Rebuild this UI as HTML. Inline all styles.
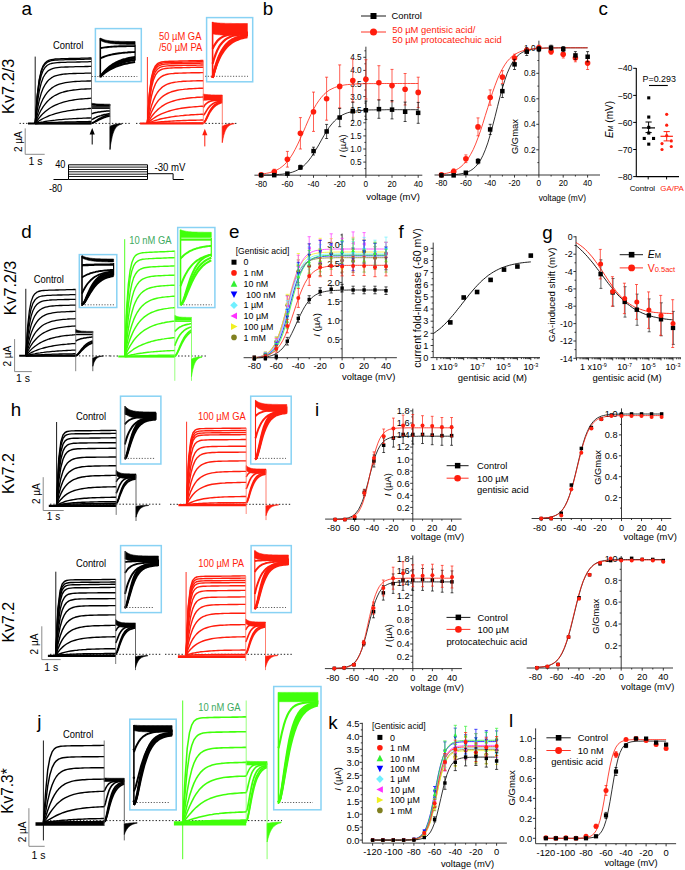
<!DOCTYPE html>
<html><head><meta charset="utf-8"><style>
html,body{margin:0;padding:0;background:#fff;width:685px;height:870px;overflow:hidden}
svg{display:block}
text{font-family:"Liberation Sans", sans-serif}
</style></head><body>
<svg width="685" height="870" viewBox="0 0 685 870">
<rect width="685" height="870" fill="#fff"/>
<text x="21.4" y="14.5" font-size="18.8" text-anchor="start" fill="#000">a</text>
<text x="262.8" y="14.5" font-size="18.8" text-anchor="start" fill="#000">b</text>
<text x="598.6" y="14.5" font-size="18.8" text-anchor="start" fill="#000">c</text>
<text x="13.6" y="86.3" font-size="17.3" text-anchor="middle" fill="#000" transform="rotate(-90 13.6 86.3)" textLength="55.2" lengthAdjust="spacingAndGlyphs">Kv7.2/3</text>
<text x="53.1" y="48.6" font-size="9.4" text-anchor="start" fill="#000" transform="translate(53.1 48.6) scale(1 1.16) translate(-53.1 -48.6)">Control</text>
<text x="159" y="40.4" font-size="9.4" text-anchor="start" fill="#ff1d0d" transform="translate(159 40.4) scale(1 1.16) translate(-159 -40.4)">50 µM GA</text>
<text x="159" y="51.4" font-size="9.4" text-anchor="start" fill="#ff1d0d" transform="translate(159 51.4) scale(1 1.16) translate(-159 -51.4)">/50 µM PA</text>
<path d="M19.5 123.4L131 123.4M136 123.4L238 123.4" stroke="#222" stroke-width="1.0" fill="none" stroke-dasharray="1.4 1.9"/>
<path d="M28 123.5L91.5 123.5" stroke="#000" stroke-width="2.0" fill="none"/>
<path d="M35.2 56.6L35.2 123.5" stroke="#000" stroke-width="0.9" fill="none"/>
<path d="M35.2 123.5 L37.2 95.4 L39.2 79.6 L41.2 70.6 L43.2 65.6 L45.3 62.7 L47.3 61.1 L49.3 60.1 L51.3 59.6 L53.3 59.3 L55.3 59 L57.3 58.9 L59.3 58.8 L61.3 58.7 L63.4 58.7 L65.4 58.6 L67.4 58.6 L69.4 58.5 L71.4 58.5 L73.4 58.4 L75.4 58.4 L77.4 58.3 L79.4 58.3 L81.4 58.2 L83.5 58.2 L85.5 58.1 L87.5 58.1 L89.5 58 L91.5 58" stroke="#000" stroke-width="1.3" fill="none" stroke-linejoin="round"/>
<path d="M35.2 123.5 L37.2 96.2 L39.2 80.7 L41.2 71.8 L43.2 66.8 L45.3 63.9 L47.3 62.2 L49.3 61.3 L51.3 60.7 L53.3 60.4 L55.3 60.1 L57.3 60 L59.3 59.9 L61.3 59.8 L63.4 59.8 L65.4 59.7 L67.4 59.7 L69.4 59.6 L71.4 59.6 L73.4 59.5 L75.4 59.5 L77.4 59.4 L79.4 59.4 L81.4 59.3 L83.5 59.3 L85.5 59.2 L87.5 59.2 L89.5 59.1 L91.5 59.1" stroke="#000" stroke-width="1.3" fill="none" stroke-linejoin="round"/>
<path d="M35.2 123.5 L37.2 98.8 L39.2 84.2 L41.2 75.5 L43.2 70.3 L45.3 67.2 L47.3 65.3 L49.3 64.2 L51.3 63.5 L53.3 63.1 L55.3 62.8 L57.3 62.6 L59.3 62.5 L61.3 62.4 L63.4 62.4 L65.4 62.3 L67.4 62.2 L69.4 62.2 L71.4 62.1 L73.4 62.1 L75.4 62.1 L77.4 62 L79.4 62 L81.4 61.9 L83.5 61.9 L85.5 61.8 L87.5 61.8 L89.5 61.7 L91.5 61.7" stroke="#000" stroke-width="1.3" fill="none" stroke-linejoin="round"/>
<path d="M35.2 123.5 L37.2 104 L39.2 91.3 L41.2 83 L43.2 77.5 L45.3 74 L47.3 71.6 L49.3 70.1 L51.3 69.1 L53.3 68.4 L55.3 67.9 L57.3 67.6 L59.3 67.4 L61.3 67.2 L63.4 67.1 L65.4 67 L67.4 67 L69.4 66.9 L71.4 66.8 L73.4 66.8 L75.4 66.7 L77.4 66.7 L79.4 66.6 L81.4 66.6 L83.5 66.6 L85.5 66.5 L87.5 66.5 L89.5 66.4 L91.5 66.4" stroke="#000" stroke-width="1.3" fill="none" stroke-linejoin="round"/>
<path d="M35.2 123.5 L37.2 110.2 L39.2 100.5 L41.2 93.3 L43.2 88.1 L45.3 84.3 L47.3 81.5 L49.3 79.4 L51.3 77.9 L53.3 76.7 L55.3 75.9 L57.3 75.3 L59.3 74.8 L61.3 74.5 L63.4 74.2 L65.4 74 L67.4 73.9 L69.4 73.7 L71.4 73.6 L73.4 73.5 L75.4 73.5 L77.4 73.4 L79.4 73.4 L81.4 73.3 L83.5 73.3 L85.5 73.2 L87.5 73.2 L89.5 73.1 L91.5 73.1" stroke="#000" stroke-width="1.3" fill="none" stroke-linejoin="round"/>
<path d="M35.2 123.5 L37.2 115.1 L39.2 108.3 L41.2 102.9 L43.2 98.6 L45.3 95.2 L47.3 92.4 L49.3 90.2 L51.3 88.4 L53.3 87 L55.3 85.8 L57.3 84.9 L59.3 84.2 L61.3 83.6 L63.4 83.1 L65.4 82.7 L67.4 82.3 L69.4 82.1 L71.4 81.9 L73.4 81.7 L75.4 81.5 L77.4 81.4 L79.4 81.3 L81.4 81.2 L83.5 81.1 L85.5 81.1 L87.5 81 L89.5 81 L91.5 80.9" stroke="#000" stroke-width="1.3" fill="none" stroke-linejoin="round"/>
<path d="M35.2 123.5 L37.2 118.2 L39.2 113.7 L41.2 109.8 L43.2 106.6 L45.3 103.9 L47.3 101.5 L49.3 99.6 L51.3 97.9 L53.3 96.5 L55.3 95.3 L57.3 94.3 L59.3 93.4 L61.3 92.7 L63.4 92 L65.4 91.5 L67.4 91 L69.4 90.7 L71.4 90.3 L73.4 90 L75.4 89.8 L77.4 89.6 L79.4 89.4 L81.4 89.2 L83.5 89.1 L85.5 89 L87.5 88.9 L89.5 88.8 L91.5 88.7" stroke="#000" stroke-width="1.3" fill="none" stroke-linejoin="round"/>
<path d="M35.2 123.5 L37.2 120.5 L39.2 117.9 L41.2 115.5 L43.2 113.4 L45.3 111.6 L47.3 110 L49.3 108.5 L51.3 107.3 L53.3 106.1 L55.3 105.2 L57.3 104.3 L59.3 103.5 L61.3 102.8 L63.4 102.2 L65.4 101.6 L67.4 101.2 L69.4 100.7 L71.4 100.3 L73.4 100 L75.4 99.7 L77.4 99.4 L79.4 99.2 L81.4 99 L83.5 98.8 L85.5 98.6 L87.5 98.5 L89.5 98.3 L91.5 98.2" stroke="#000" stroke-width="1.3" fill="none" stroke-linejoin="round"/>
<path d="M35.2 123.5 L37.2 122.1 L39.2 120.7 L41.2 119.6 L43.2 118.5 L45.3 117.5 L47.3 116.6 L49.3 115.7 L51.3 115 L53.3 114.3 L55.3 113.7 L57.3 113.1 L59.3 112.6 L61.3 112.1 L63.4 111.7 L65.4 111.3 L67.4 110.9 L69.4 110.6 L71.4 110.3 L73.4 110 L75.4 109.8 L77.4 109.5 L79.4 109.3 L81.4 109.1 L83.5 109 L85.5 108.8 L87.5 108.7 L89.5 108.5 L91.5 108.4" stroke="#000" stroke-width="1.3" fill="none" stroke-linejoin="round"/>
<path d="M35.2 123.5 L37.2 123 L39.2 122.6 L41.2 122.2 L43.2 121.9 L45.3 121.5 L47.3 121.2 L49.3 120.9 L51.3 120.6 L53.3 120.4 L55.3 120.2 L57.3 119.9 L59.3 119.7 L61.3 119.6 L63.4 119.4 L65.4 119.2 L67.4 119.1 L69.4 118.9 L71.4 118.8 L73.4 118.7 L75.4 118.6 L77.4 118.5 L79.4 118.4 L81.4 118.3 L83.5 118.2 L85.5 118.1 L87.5 118 L89.5 118 L91.5 117.9" stroke="#000" stroke-width="1.3" fill="none" stroke-linejoin="round"/>
<path d="M35.2 123.5 L37.2 123.3 L39.2 123.2 L41.2 123.1 L43.2 122.9 L45.3 122.8 L47.3 122.7 L49.3 122.6 L51.3 122.5 L53.3 122.4 L55.3 122.3 L57.3 122.3 L59.3 122.2 L61.3 122.1 L63.4 122.1 L65.4 122 L67.4 121.9 L69.4 121.9 L71.4 121.8 L73.4 121.8 L75.4 121.8 L77.4 121.7 L79.4 121.7 L81.4 121.6 L83.5 121.6 L85.5 121.6 L87.5 121.6 L89.5 121.5 L91.5 121.5" stroke="#000" stroke-width="1.3" fill="none" stroke-linejoin="round"/>
<path d="M35.2 123.5 L37.2 123.5 L39.2 123.4 L41.2 123.4 L43.2 123.4 L45.3 123.3 L47.3 123.3 L49.3 123.3 L51.3 123.3 L53.3 123.2 L55.3 123.2 L57.3 123.2 L59.3 123.2 L61.3 123.2 L63.4 123.1 L65.4 123.1 L67.4 123.1 L69.4 123.1 L71.4 123.1 L73.4 123.1 L75.4 123.1 L77.4 123.1 L79.4 123 L81.4 123 L83.5 123 L85.5 123 L87.5 123 L89.5 123 L91.5 123" stroke="#000" stroke-width="1.3" fill="none" stroke-linejoin="round"/>
<path d="M35.2 123.5 L37.2 123.5 L39.2 123.5 L41.2 123.5 L43.2 123.5 L45.3 123.5 L47.3 123.5 L49.3 123.5 L51.3 123.5 L53.3 123.5 L55.3 123.5 L57.3 123.5 L59.3 123.5 L61.3 123.5 L63.4 123.5 L65.4 123.5 L67.4 123.5 L69.4 123.5 L71.4 123.5 L73.4 123.5 L75.4 123.5 L77.4 123.5 L79.4 123.5 L81.4 123.5 L83.5 123.5 L85.5 123.5 L87.5 123.5 L89.5 123.5 L91.5 123.5" stroke="#000" stroke-width="1.3" fill="none" stroke-linejoin="round"/>
<path d="M91.5 103.1 L92.8 103.4 L94.1 103.6 L95.5 103.8 L96.8 103.9 L98.1 104 L99.4 104 L100.8 104.1 L102.1 104.1 L103.4 104.1 L104.7 104.2 L106 104.2 L107.4 104.2 L108.7 104.2 L110 104.2 L110 106 L108.7 106 L107.4 106 L106 106 L104.7 106 L103.4 106 L102.1 106 L100.8 106 L99.4 105.9 L98.1 105.9 L96.8 105.9 L95.5 105.8 L94.1 105.7 L92.8 105.6 L91.5 105.5Z" stroke="#000" stroke-width="0.6" fill="#000" stroke-linejoin="round"/>
<path d="M91.5 106.9 L92.7 106.9 L93.8 106.9 L95 106.9 L96.1 106.9 L97.3 106.9 L98.4 106.9 L99.6 106.9 L100.8 106.9 L101.9 106.9 L103.1 106.9 L104.2 106.9 L105.4 106.9 L106.5 106.9 L107.7 106.9 L108.8 106.9 L110 106.9" stroke="#000" stroke-width="1.4040000000000001" fill="none" stroke-linejoin="round"/>
<path d="M91.5 108.2 L92.7 108.2 L93.8 108.2 L95 108.2 L96.1 108.2 L97.3 108.2 L98.4 108.2 L99.6 108.2 L100.8 108.2 L101.9 108.2 L103.1 108.2 L104.2 108.2 L105.4 108.2 L106.5 108.2 L107.7 108.2 L108.8 108.2 L110 108.2" stroke="#000" stroke-width="1.4040000000000001" fill="none" stroke-linejoin="round"/>
<path d="M91.5 113.8 L92.7 113.4 L93.8 113.1 L95 112.8 L96.1 112.5 L97.3 112.3 L98.4 112 L99.6 111.9 L100.8 111.7 L101.9 111.5 L103.1 111.4 L104.2 111.3 L105.4 111.2 L106.5 111.1 L107.7 111 L108.8 110.9 L110 110.9" stroke="#000" stroke-width="1.5210000000000001" fill="none" stroke-linejoin="round"/>
<path d="M91.5 119.5 L92.7 119.1 L93.8 118.5 L95 117.9 L96.1 117.4 L97.3 116.8 L98.4 116.4 L99.6 116 L100.8 115.6 L101.9 115.2 L103.1 114.9 L104.2 114.6 L105.4 114.4 L106.5 114.2 L107.7 114 L108.8 113.8 L110 113.6" stroke="#000" stroke-width="1.5210000000000001" fill="none" stroke-linejoin="round"/>
<path d="M91.5 123 L92.7 122.8 L93.8 122.2 L95 121.5 L96.1 120.8 L97.3 120 L98.4 119.2 L99.6 118.5 L100.8 117.9 L101.9 117.3 L103.1 116.8 L104.2 116.3 L105.4 115.9 L106.5 115.6 L107.7 115.3 L108.8 115 L110 114.8" stroke="#000" stroke-width="1.638" fill="none" stroke-linejoin="round"/>
<path d="M91.5 123 L92.7 122.8 L93.8 122.5 L95 121.9 L96.1 121.3 L97.3 120.7 L98.4 120.1 L99.6 119.5 L100.8 118.9 L101.9 118.4 L103.1 117.9 L104.2 117.5 L105.4 117.1 L106.5 116.8 L107.7 116.4 L108.8 116.2 L110 115.9" stroke="#000" stroke-width="1.638" fill="none" stroke-linejoin="round"/>
<path d="M91.5 58L91.5 123.5" stroke="#555" stroke-width="0.8" fill="none"/>
<path d="M110 104L110 149.5" stroke="#555" stroke-width="0.9" fill="none"/>
<path d="M110 126.5 L110.7 126 L111.5 125.6 L112.2 125.3 L112.9 125 L113.7 124.7 L114.4 124.5 L115.1 124.4 L115.8 124.2 L116.6 124.1 L117.3 124 L118 123.9 L118.8 123.9 L119.5 123.8 L120.2 123.8 L121 123.7 L121.7 123.7 L121.7 124.2 L121 124.3 L120.2 124.6 L119.5 124.8 L118.8 125.2 L118 125.6 L117.3 126.1 L116.6 126.8 L115.8 127.7 L115.1 128.8 L114.4 130.1 L113.7 131.8 L112.9 133.9 L112.2 136.6 L111.5 140 L110.7 144.2 L110 149.5Z" stroke="#000" stroke-width="0.6" fill="#000" stroke-linejoin="round"/>
<path d="M140.1 123.4L203.3 123.4" stroke="#ff1d0d" stroke-width="2.0" fill="none"/>
<path d="M147.4 57L147.4 123.4" stroke="#ff1d0d" stroke-width="0.9" fill="none"/>
<path d="M147.4 123.4 L149.4 93.4 L151.4 78 L153.4 70 L155.4 65.9 L157.4 63.7 L159.4 62.6 L161.4 62 L163.4 61.7 L165.4 61.5 L167.4 61.4 L169.4 61.3 L171.4 61.2 L173.4 61.2 L175.4 61.1 L177.3 61.1 L179.3 61 L181.3 61 L183.3 60.9 L185.3 60.9 L187.3 60.9 L189.3 60.8 L191.3 60.8 L193.3 60.7 L195.3 60.7 L197.3 60.6 L199.3 60.6 L201.3 60.5 L203.3 60.5" stroke="#ff1d0d" stroke-width="1.4300000000000002" fill="none" stroke-linejoin="round"/>
<path d="M147.4 123.4 L149.4 94.4 L151.4 79.3 L153.4 71.4 L155.4 67.2 L157.4 65 L159.4 63.9 L161.4 63.3 L163.4 62.9 L165.4 62.7 L167.4 62.6 L169.4 62.5 L171.4 62.4 L173.4 62.4 L175.4 62.3 L177.3 62.3 L179.3 62.2 L181.3 62.2 L183.3 62.1 L185.3 62.1 L187.3 62.1 L189.3 62 L191.3 62 L193.3 61.9 L195.3 61.9 L197.3 61.8 L199.3 61.8 L201.3 61.7 L203.3 61.7" stroke="#ff1d0d" stroke-width="1.4300000000000002" fill="none" stroke-linejoin="round"/>
<path d="M147.4 123.4 L149.4 96 L151.4 81.3 L153.4 73.3 L155.4 69 L157.4 66.7 L159.4 65.5 L161.4 64.8 L163.4 64.4 L165.4 64.1 L167.4 64 L169.4 63.9 L171.4 63.8 L173.4 63.8 L175.4 63.7 L177.3 63.7 L179.3 63.6 L181.3 63.6 L183.3 63.5 L185.3 63.5 L187.3 63.4 L189.3 63.4 L191.3 63.4 L193.3 63.3 L195.3 63.3 L197.3 63.2 L199.3 63.2 L201.3 63.1 L203.3 63.1" stroke="#ff1d0d" stroke-width="1.4300000000000002" fill="none" stroke-linejoin="round"/>
<path d="M147.4 123.4 L149.4 98.4 L151.4 84.2 L153.4 76.3 L155.4 71.8 L157.4 69.2 L159.4 67.7 L161.4 66.9 L163.4 66.4 L165.4 66.1 L167.4 65.9 L169.4 65.8 L171.4 65.7 L173.4 65.7 L175.4 65.6 L177.3 65.6 L179.3 65.5 L181.3 65.5 L183.3 65.4 L185.3 65.4 L187.3 65.3 L189.3 65.3 L191.3 65.3 L193.3 65.2 L195.3 65.2 L197.3 65.1 L199.3 65.1 L201.3 65 L203.3 65" stroke="#ff1d0d" stroke-width="1.4300000000000002" fill="none" stroke-linejoin="round"/>
<path d="M147.4 123.4 L149.4 101.2 L151.4 87.9 L153.4 79.9 L155.4 75.2 L157.4 72.3 L159.4 70.6 L161.4 69.5 L163.4 68.9 L165.4 68.5 L167.4 68.2 L169.4 68.1 L171.4 68 L173.4 67.9 L175.4 67.8 L177.3 67.7 L179.3 67.7 L181.3 67.7 L183.3 67.6 L185.3 67.6 L187.3 67.5 L189.3 67.5 L191.3 67.4 L193.3 67.4 L195.3 67.4 L197.3 67.3 L199.3 67.3 L201.3 67.2 L203.3 67.2" stroke="#ff1d0d" stroke-width="1.4300000000000002" fill="none" stroke-linejoin="round"/>
<path d="M147.4 123.4 L149.4 107.3 L151.4 96.3 L153.4 88.9 L155.4 83.9 L157.4 80.5 L159.4 78.2 L161.4 76.6 L163.4 75.5 L165.4 74.8 L167.4 74.3 L169.4 73.9 L171.4 73.6 L173.4 73.5 L175.4 73.3 L177.3 73.2 L179.3 73.1 L181.3 73.1 L183.3 73 L185.3 73 L187.3 72.9 L189.3 72.9 L191.3 72.8 L193.3 72.8 L195.3 72.7 L197.3 72.7 L199.3 72.7 L201.3 72.6 L203.3 72.6" stroke="#ff1d0d" stroke-width="1.4300000000000002" fill="none" stroke-linejoin="round"/>
<path d="M147.4 123.4 L149.4 113.6 L151.4 106.1 L153.4 100.4 L155.4 95.9 L157.4 92.5 L159.4 89.9 L161.4 87.9 L163.4 86.3 L165.4 85.1 L167.4 84.2 L169.4 83.5 L171.4 82.9 L173.4 82.5 L175.4 82.1 L177.3 81.9 L179.3 81.6 L181.3 81.5 L183.3 81.3 L185.3 81.2 L187.3 81.1 L189.3 81.1 L191.3 81 L193.3 80.9 L195.3 80.9 L197.3 80.8 L199.3 80.8 L201.3 80.7 L203.3 80.7" stroke="#ff1d0d" stroke-width="1.4300000000000002" fill="none" stroke-linejoin="round"/>
<path d="M147.4 123.4 L149.4 117.3 L151.4 112.2 L153.4 108.1 L155.4 104.6 L157.4 101.8 L159.4 99.4 L161.4 97.5 L163.4 95.9 L165.4 94.6 L167.4 93.5 L169.4 92.6 L171.4 91.8 L173.4 91.2 L175.4 90.7 L177.3 90.3 L179.3 89.9 L181.3 89.6 L183.3 89.4 L185.3 89.1 L187.3 89 L189.3 88.8 L191.3 88.7 L193.3 88.6 L195.3 88.5 L197.3 88.4 L199.3 88.3 L201.3 88.3 L203.3 88.2" stroke="#ff1d0d" stroke-width="1.4300000000000002" fill="none" stroke-linejoin="round"/>
<path d="M147.4 123.4 L149.4 119.9 L151.4 116.8 L153.4 114.2 L155.4 111.9 L157.4 109.9 L159.4 108.2 L161.4 106.7 L163.4 105.3 L165.4 104.2 L167.4 103.2 L169.4 102.4 L171.4 101.6 L173.4 101 L175.4 100.4 L177.3 99.9 L179.3 99.5 L181.3 99.1 L183.3 98.7 L185.3 98.5 L187.3 98.2 L189.3 98 L191.3 97.8 L193.3 97.6 L195.3 97.5 L197.3 97.3 L199.3 97.2 L201.3 97.1 L203.3 97" stroke="#ff1d0d" stroke-width="1.4300000000000002" fill="none" stroke-linejoin="round"/>
<path d="M147.4 123.4 L149.4 121.6 L151.4 119.9 L153.4 118.5 L155.4 117.1 L157.4 115.9 L159.4 114.9 L161.4 113.9 L163.4 113.1 L165.4 112.3 L167.4 111.6 L169.4 111 L171.4 110.4 L173.4 109.9 L175.4 109.4 L177.3 109 L179.3 108.6 L181.3 108.3 L183.3 108 L185.3 107.7 L187.3 107.5 L189.3 107.3 L191.3 107.1 L193.3 106.9 L195.3 106.7 L197.3 106.6 L199.3 106.4 L201.3 106.3 L203.3 106.2" stroke="#ff1d0d" stroke-width="1.4300000000000002" fill="none" stroke-linejoin="round"/>
<path d="M147.4 123.4 L149.4 122.6 L151.4 121.8 L153.4 121.1 L155.4 120.5 L157.4 119.9 L159.4 119.3 L161.4 118.8 L163.4 118.4 L165.4 118 L167.4 117.6 L169.4 117.2 L171.4 116.9 L173.4 116.6 L175.4 116.3 L177.3 116.1 L179.3 115.9 L181.3 115.6 L183.3 115.5 L185.3 115.3 L187.3 115.1 L189.3 115 L191.3 114.8 L193.3 114.7 L195.3 114.6 L197.3 114.5 L199.3 114.4 L201.3 114.3 L203.3 114.2" stroke="#ff1d0d" stroke-width="1.4300000000000002" fill="none" stroke-linejoin="round"/>
<path d="M147.4 123.4 L149.4 123.1 L151.4 122.9 L153.4 122.6 L155.4 122.4 L157.4 122.2 L159.4 122 L161.4 121.8 L163.4 121.7 L165.4 121.5 L167.4 121.4 L169.4 121.2 L171.4 121.1 L173.4 121 L175.4 120.9 L177.3 120.8 L179.3 120.7 L181.3 120.6 L183.3 120.5 L185.3 120.5 L187.3 120.4 L189.3 120.3 L191.3 120.3 L193.3 120.2 L195.3 120.2 L197.3 120.1 L199.3 120.1 L201.3 120 L203.3 120" stroke="#ff1d0d" stroke-width="1.4300000000000002" fill="none" stroke-linejoin="round"/>
<path d="M147.4 123.4 L149.4 123.4 L151.4 123.3 L153.4 123.3 L155.4 123.3 L157.4 123.3 L159.4 123.2 L161.4 123.2 L163.4 123.2 L165.4 123.2 L167.4 123.2 L169.4 123.1 L171.4 123.1 L173.4 123.1 L175.4 123.1 L177.3 123.1 L179.3 123.1 L181.3 123.1 L183.3 123.1 L185.3 123.1 L187.3 123 L189.3 123 L191.3 123 L193.3 123 L195.3 123 L197.3 123 L199.3 123 L201.3 123 L203.3 123" stroke="#ff1d0d" stroke-width="1.4300000000000002" fill="none" stroke-linejoin="round"/>
<path d="M203.3 94 L204.7 94.3 L206 94.5 L207.4 94.6 L208.7 94.7 L210.1 94.8 L211.4 94.9 L212.8 94.9 L214.2 94.9 L215.5 95 L216.9 95 L218.2 95 L219.6 95 L220.9 95 L222.3 95 L222.3 100 L220.9 100 L219.6 100 L218.2 100 L216.9 100 L215.5 100 L214.2 100 L212.8 100 L211.4 100.1 L210.1 100.1 L208.7 100.1 L207.4 100.1 L206 100.2 L204.7 100.3 L203.3 100.4Z" stroke="#ff1d0d" stroke-width="0.6" fill="#ff1d0d" stroke-linejoin="round"/>
<path d="M203.3 107.5 L204.5 105.6 L205.7 104.1 L206.9 103.1 L208.1 102.3 L209.2 101.7 L210.4 101.3 L211.6 100.9 L212.8 100.7 L214 100.5 L215.2 100.4 L216.4 100.3 L217.6 100.2 L218.7 100.2 L219.9 100.1 L221.1 100.1 L222.3 100.1" stroke="#ff1d0d" stroke-width="1.638" fill="none" stroke-linejoin="round"/>
<path d="M203.3 115.6 L204.5 114.1 L205.7 112.1 L206.9 110.1 L208.1 108.3 L209.2 106.9 L210.4 105.6 L211.6 104.6 L212.8 103.8 L214 103.1 L215.2 102.6 L216.4 102.1 L217.6 101.8 L218.7 101.5 L219.9 101.3 L221.1 101.1 L222.3 101" stroke="#ff1d0d" stroke-width="1.638" fill="none" stroke-linejoin="round"/>
<path d="M203.3 123 L204.5 122 L205.7 119.8 L206.9 117.2 L208.1 114.5 L209.2 112.1 L210.4 110 L211.6 108.2 L212.8 106.7 L214 105.5 L215.2 104.5 L216.4 103.7 L217.6 103 L218.7 102.5 L219.9 102.1 L221.1 101.8 L222.3 101.5" stroke="#ff1d0d" stroke-width="1.7550000000000001" fill="none" stroke-linejoin="round"/>
<path d="M203.3 123 L204.5 122.2 L205.7 120.3 L206.9 118 L208.1 115.6 L209.2 113.4 L210.4 111.4 L211.6 109.6 L212.8 108.1 L214 106.9 L215.2 105.8 L216.4 104.9 L217.6 104.2 L218.7 103.6 L219.9 103.1 L221.1 102.7 L222.3 102.4" stroke="#ff1d0d" stroke-width="1.7550000000000001" fill="none" stroke-linejoin="round"/>
<path d="M203.3 60.5L203.3 123.4" stroke="#ff7060" stroke-width="0.8" fill="none"/>
<path d="M222.3 96L222.3 143" stroke="#ff7060" stroke-width="0.9" fill="none"/>
<path d="M222.3 126.4 L223.1 125.9 L223.8 125.5 L224.6 125.1 L225.3 124.9 L226.1 124.6 L226.8 124.4 L227.6 124.2 L228.3 124.1 L229.1 124 L229.8 123.9 L230.6 123.8 L231.3 123.7 L232.1 123.7 L232.8 123.6 L233.6 123.6 L234.3 123.6 L234.3 123.8 L233.6 124 L232.8 124.1 L232.1 124.3 L231.3 124.5 L230.6 124.8 L229.8 125.2 L229.1 125.7 L228.3 126.3 L227.6 127.1 L226.8 128.1 L226.1 129.3 L225.3 130.8 L224.6 132.8 L223.8 135.3 L223.1 138.4 L222.3 142.4Z" stroke="#ff1d0d" stroke-width="0.6" fill="#ff1d0d" stroke-linejoin="round"/>
<path d="M92.2 128 L89.6 134.5 L94.8 134.5Z" stroke="none" stroke-width="0" fill="#000" stroke-linejoin="round"/>
<path d="M92.2 134L92.2 144.5" stroke="#000" stroke-width="1.0" fill="none"/>
<path d="M204.8 128.8 L202.2 135.3 L207.4 135.3Z" stroke="none" stroke-width="0" fill="#ff1d0d" stroke-linejoin="round"/>
<path d="M204.8 134.8L204.8 146.4" stroke="#ff1d0d" stroke-width="1.0" fill="none"/>
<rect x="95.4" y="28.6" width="45.9" height="53" stroke="#88d2f4" stroke-width="1.5" fill="none"/>
<path d="M91.7 76.5L137.3 76.5" stroke="#333" stroke-width="0.8" fill="none" stroke-dasharray="1.2 1.6"/>
<path d="M100.3 38 L101.5 38.6 L102.6 39.1 L103.8 39.5 L104.9 39.9 L106.1 40.2 L107.3 40.4 L108.4 40.6 L109.6 40.8 L110.7 40.9 L111.9 41 L113.1 41.1 L114.2 41.2 L115.4 41.2 L116.5 41.3 L117.7 41.3 L118.9 41.3 L120 41.4 L121.2 41.4 L122.3 41.4 L123.5 41.4 L124.7 41.4 L125.8 41.5 L127 41.5 L128.1 41.5 L129.3 41.5 L130.5 41.5 L131.6 41.5 L132.8 41.5 L133.9 41.5 L135.1 41.5 L135.1 44.4 L133.9 44.4 L132.8 44.4 L131.6 44.4 L130.5 44.4 L129.3 44.4 L128.1 44.4 L127 44.4 L125.8 44.3 L124.7 44.3 L123.5 44.3 L122.3 44.2 L121.2 44.2 L120 44.2 L118.9 44.1 L117.7 44 L116.5 44 L115.4 43.9 L114.2 43.8 L113.1 43.7 L111.9 43.6 L110.7 43.4 L109.6 43.2 L108.4 43.1 L107.3 42.8 L106.1 42.6 L104.9 42.3 L103.8 41.9 L102.6 41.5 L101.5 41 L100.3 40.5Z" stroke="#000" stroke-width="0.6" fill="#000" stroke-linejoin="round"/>
<path d="M100.3 48.2 L101.9 47.9 L103.5 47.6 L105 47.4 L106.6 47.2 L108.2 47 L109.8 46.9 L111.4 46.7 L113 46.6 L114.5 46.5 L116.1 46.5 L117.7 46.4 L119.3 46.3 L120.9 46.3 L122.4 46.2 L124 46.2 L125.6 46.2 L127.2 46.1 L128.8 46.1 L130.4 46.1 L131.9 46.1 L133.5 46.1 L135.1 46.1" stroke="#000" stroke-width="1.9500000000000002" fill="none" stroke-linejoin="round"/>
<path d="M100.3 58.3 L101.9 57.6 L103.5 57 L105 56.4 L106.6 55.9 L108.2 55.4 L109.8 55 L111.4 54.6 L113 54.3 L114.5 54 L116.1 53.7 L117.7 53.5 L119.3 53.3 L120.9 53.1 L122.4 52.9 L124 52.7 L125.6 52.6 L127.2 52.5 L128.8 52.3 L130.4 52.2 L131.9 52.1 L133.5 52.1 L135.1 52" stroke="#000" stroke-width="1.9500000000000002" fill="none" stroke-linejoin="round"/>
<path d="M100.3 76.7 L101.9 74.5 L103.5 72.5 L105 70.8 L106.6 69.2 L108.2 67.7 L109.8 66.4 L111.4 65.3 L113 64.2 L114.5 63.3 L116.1 62.4 L117.7 61.7 L119.3 61 L120.9 60.4 L122.4 59.8 L124 59.3 L125.6 58.9 L127.2 58.4 L128.8 58.1 L130.4 57.8 L131.9 57.5 L133.5 57.2 L135.1 57" stroke="#000" stroke-width="2.08" fill="none" stroke-linejoin="round"/>
<path d="M100.3 76.7 L101.9 74.8 L103.5 73 L105 71.4 L106.6 69.9 L108.2 68.6 L109.8 67.4 L111.4 66.4 L113 65.4 L114.5 64.5 L116.1 63.7 L117.7 63 L119.3 62.3 L120.9 61.7 L122.4 61.2 L124 60.7 L125.6 60.3 L127.2 59.9 L128.8 59.5 L130.4 59.2 L131.9 58.9 L133.5 58.6 L135.1 58.4" stroke="#000" stroke-width="2.08" fill="none" stroke-linejoin="round"/>
<path d="M100.3 76.7 L101.9 75 L103.5 73.4 L105 72 L106.6 70.7 L108.2 69.6 L109.8 68.5 L111.4 67.5 L113 66.6 L114.5 65.8 L116.1 65.1 L117.7 64.4 L119.3 63.8 L120.9 63.2 L122.4 62.7 L124 62.3 L125.6 61.8 L127.2 61.4 L128.8 61.1 L130.4 60.8 L131.9 60.5 L133.5 60.2 L135.1 60" stroke="#000" stroke-width="2.08" fill="none" stroke-linejoin="round"/>
<path d="M100.3 76.7 L101.9 75.3 L103.5 73.9 L105 72.7 L106.6 71.6 L108.2 70.6 L109.8 69.7 L111.4 68.8 L113 68 L114.5 67.3 L116.1 66.6 L117.7 66 L119.3 65.5 L120.9 65 L122.4 64.5 L124 64.1 L125.6 63.7 L127.2 63.4 L128.8 63 L130.4 62.7 L131.9 62.5 L133.5 62.2 L135.1 62" stroke="#000" stroke-width="2.08" fill="none" stroke-linejoin="round"/>
<path d="M100.3 38.1L100.3 77.5" stroke="#000" stroke-width="1.6" fill="none"/>
<path d="M135.1 44.5L135.1 60.5" stroke="#000" stroke-width="1.2" fill="none"/>
<rect x="206.6" y="17.6" width="46.1" height="64.2" stroke="#88d2f4" stroke-width="1.5" fill="none"/>
<path d="M205 76.3L248 76.3" stroke="#333" stroke-width="0.8" fill="none" stroke-dasharray="1.2 1.6"/>
<path d="M212.6 22.3 L213.8 22.5 L214.9 22.7 L216.1 22.8 L217.2 22.9 L218.4 23 L219.6 23.1 L220.7 23.2 L221.9 23.2 L223 23.3 L224.2 23.3 L225.4 23.4 L226.5 23.4 L227.7 23.4 L228.8 23.4 L230 23.4 L231.2 23.4 L232.3 23.5 L233.5 23.5 L234.6 23.5 L235.8 23.5 L237 23.5 L238.1 23.5 L239.3 23.5 L240.4 23.5 L241.6 23.5 L242.8 23.5 L243.9 23.5 L245.1 23.5 L246.2 23.5 L247.4 23.5 L247.4 35.5 L246.2 35.5 L245.1 35.5 L243.9 35.5 L242.8 35.5 L241.6 35.5 L240.4 35.5 L239.3 35.4 L238.1 35.4 L237 35.4 L235.8 35.4 L234.6 35.4 L233.5 35.4 L232.3 35.4 L231.2 35.3 L230 35.3 L228.8 35.3 L227.7 35.3 L226.5 35.2 L225.4 35.2 L224.2 35.1 L223 35.1 L221.9 35 L220.7 34.9 L219.6 34.8 L218.4 34.7 L217.2 34.6 L216.1 34.5 L214.9 34.3 L213.8 34.1 L212.6 33.9Z" stroke="#ff1d0d" stroke-width="0.6" fill="#ff1d0d" stroke-linejoin="round"/>
<path d="M212.6 48.8 L214.2 45.6 L215.8 43.1 L217.3 41 L218.9 39.4 L220.5 38.1 L222.1 37.1 L223.7 36.2 L225.3 35.6 L226.8 35.1 L228.4 34.6 L230 34.3 L231.6 34 L233.2 33.8 L234.7 33.7 L236.3 33.5 L237.9 33.4 L239.5 33.3 L241.1 33.3 L242.7 33.2 L244.2 33.2 L245.8 33.1 L247.4 33.1" stroke="#ff1d0d" stroke-width="2.21" fill="none" stroke-linejoin="round"/>
<path d="M212.6 63.7 L214.2 58.3 L215.8 53.8 L217.3 50.2 L218.9 47.2 L220.5 44.7 L222.1 42.7 L223.7 41.1 L225.3 39.7 L226.8 38.6 L228.4 37.7 L230 36.9 L231.6 36.3 L233.2 35.8 L234.7 35.4 L236.3 35.1 L237.9 34.8 L239.5 34.5 L241.1 34.4 L242.7 34.2 L244.2 34.1 L245.8 34 L247.4 33.9" stroke="#ff1d0d" stroke-width="2.21" fill="none" stroke-linejoin="round"/>
<path d="M212.6 77.8 L214.2 71.1 L215.8 65.4 L217.3 60.6 L218.9 56.5 L220.5 53.1 L222.1 50.1 L223.7 47.7 L225.3 45.6 L226.8 43.8 L228.4 42.3 L230 41 L231.6 39.9 L233.2 39 L234.7 38.3 L236.3 37.6 L237.9 37.1 L239.5 36.6 L241.1 36.2 L242.7 35.9 L244.2 35.6 L245.8 35.3 L247.4 35.1" stroke="#ff1d0d" stroke-width="2.4699999999999998" fill="none" stroke-linejoin="round"/>
<path d="M212.6 77.8 L214.2 71.6 L215.8 66.4 L217.3 61.9 L218.9 58 L220.5 54.6 L222.1 51.8 L223.7 49.3 L225.3 47.2 L226.8 45.4 L228.4 43.9 L230 42.6 L231.6 41.4 L233.2 40.5 L234.7 39.6 L236.3 38.9 L237.9 38.3 L239.5 37.8 L241.1 37.3 L242.7 36.9 L244.2 36.6 L245.8 36.3 L247.4 36.1" stroke="#ff1d0d" stroke-width="2.4699999999999998" fill="none" stroke-linejoin="round"/>
<path d="M212.6 77.8 L214.2 72.1 L215.8 67.2 L217.3 62.9 L218.9 59.2 L220.5 56 L222.1 53.2 L223.7 50.8 L225.3 48.7 L226.8 46.9 L228.4 45.3 L230 44 L231.6 42.8 L233.2 41.8 L234.7 40.9 L236.3 40.1 L237.9 39.5 L239.5 38.9 L241.1 38.4 L242.7 38 L244.2 37.6 L245.8 37.3 L247.4 37" stroke="#ff1d0d" stroke-width="2.4699999999999998" fill="none" stroke-linejoin="round"/>
<path d="M212.6 21.9L212.6 77.8" stroke="#ff1d0d" stroke-width="1.6" fill="none"/>
<path d="M247.4 31.5L247.4 36.2" stroke="#ff1d0d" stroke-width="1.2" fill="none"/>
<path d="M25.2 128.4L25.2 154.3M25.2 154.3L44.7 154.3" stroke="#8a8a8a" stroke-width="1.0" fill="none"/>
<text x="21.8" y="141.7" font-size="10" text-anchor="middle" fill="#000" transform="rotate(-90 21.8 141.7)">2 µA</text>
<text x="28.5" y="164.5" font-size="10.5" text-anchor="start" fill="#000">1 s</text>
<path d="M53.5 179.5 L68.5 179.5 L68.5 164.8 L147.5 164.8 L147.5 179.5" stroke="#000" stroke-width="1.0" fill="none" stroke-linejoin="round"/>
<path d="M68.5 167.1L147.5 167.1M68.5 169.5L147.5 169.5M68.5 171.8L147.5 171.8M68.5 174.2L147.5 174.2M68.5 176.5L147.5 176.5" stroke="#000" stroke-width="0.9" fill="none"/>
<path d="M68.5 179.5L147.5 179.5" stroke="#000" stroke-width="1.0" fill="none"/>
<path d="M147.5 173.7 L173.1 173.7 L173.1 179.5 L183.7 179.5" stroke="#000" stroke-width="1.0" fill="none" stroke-linejoin="round"/>
<text x="55.2" y="167.6" font-size="9.2" text-anchor="start" fill="#000" transform="translate(55.2 167.6) scale(1 1.16) translate(-55.2 -167.6)">40</text>
<text x="48.9" y="192.2" font-size="9.2" text-anchor="start" fill="#000" transform="translate(48.9 192.2) scale(1 1.16) translate(-48.9 -192.2)">-80</text>
<text x="154.5" y="171.2" font-size="9.6" text-anchor="start" fill="#000" transform="translate(154.5 171.2) scale(1 1.16) translate(-154.5 -171.2)">-30 mV</text>
<path d="M254.4 175.2L422.3 175.2M365.9 175.2L365.9 46.7M261.2 175.2L261.2 177.8" stroke="#222" stroke-width="0.9" fill="none"/>
<text x="261.2" y="186.8" font-size="8.2" text-anchor="middle" fill="#000">-80</text>
<path d="M287.4 175.2L287.4 177.8" stroke="#222" stroke-width="0.9" fill="none"/>
<text x="287.4" y="186.8" font-size="8.2" text-anchor="middle" fill="#000">-60</text>
<path d="M313.5 175.2L313.5 177.8" stroke="#222" stroke-width="0.9" fill="none"/>
<text x="313.5" y="186.8" font-size="8.2" text-anchor="middle" fill="#000">-40</text>
<path d="M339.7 175.2L339.7 177.8" stroke="#222" stroke-width="0.9" fill="none"/>
<text x="339.7" y="186.8" font-size="8.2" text-anchor="middle" fill="#000">-20</text>
<path d="M365.9 175.2L365.9 177.8" stroke="#222" stroke-width="0.9" fill="none"/>
<text x="365.9" y="186.8" font-size="8.2" text-anchor="middle" fill="#000">0</text>
<path d="M392 175.2L392 177.8" stroke="#222" stroke-width="0.9" fill="none"/>
<text x="392" y="186.8" font-size="8.2" text-anchor="middle" fill="#000">20</text>
<path d="M418.2 175.2L418.2 177.8" stroke="#222" stroke-width="0.9" fill="none"/>
<text x="418.2" y="186.8" font-size="8.2" text-anchor="middle" fill="#000">40</text>
<path d="M274.3 175.2L274.3 176.7M300.4 175.2L300.4 176.7M326.6 175.2L326.6 176.7M352.8 175.2L352.8 176.7M378.9 175.2L378.9 176.7M405.1 175.2L405.1 176.7M365.9 162.1L363.3 162.1" stroke="#222" stroke-width="0.9" fill="none"/>
<text x="361.6" y="165.1" font-size="8.2" text-anchor="end" fill="#000">0.5</text>
<path d="M365.9 149L363.3 149" stroke="#222" stroke-width="0.9" fill="none"/>
<text x="361.6" y="152" font-size="8.2" text-anchor="end" fill="#000">1.0</text>
<path d="M365.9 135.9L363.3 135.9" stroke="#222" stroke-width="0.9" fill="none"/>
<text x="361.6" y="138.9" font-size="8.2" text-anchor="end" fill="#000">1.5</text>
<path d="M365.9 122.8L363.3 122.8" stroke="#222" stroke-width="0.9" fill="none"/>
<text x="361.6" y="125.8" font-size="8.2" text-anchor="end" fill="#000">2.0</text>
<path d="M365.9 109.7L363.3 109.7" stroke="#222" stroke-width="0.9" fill="none"/>
<text x="361.6" y="112.7" font-size="8.2" text-anchor="end" fill="#000">2.5</text>
<path d="M365.9 96.6L363.3 96.6" stroke="#222" stroke-width="0.9" fill="none"/>
<text x="361.6" y="99.6" font-size="8.2" text-anchor="end" fill="#000">3.0</text>
<path d="M365.9 83.5L363.3 83.5" stroke="#222" stroke-width="0.9" fill="none"/>
<text x="361.6" y="86.5" font-size="8.2" text-anchor="end" fill="#000">3.5</text>
<path d="M365.9 70.4L363.3 70.4" stroke="#222" stroke-width="0.9" fill="none"/>
<text x="361.6" y="73.4" font-size="8.2" text-anchor="end" fill="#000">4.0</text>
<path d="M365.9 57.3L363.3 57.3" stroke="#222" stroke-width="0.9" fill="none"/>
<text x="361.6" y="60.3" font-size="8.2" text-anchor="end" fill="#000">4.5</text>
<path d="M365.9 168.6L364.4 168.6M365.9 155.5L364.4 155.5M365.9 142.4L364.4 142.4M365.9 129.3L364.4 129.3M365.9 116.2L364.4 116.2M365.9 103.1L364.4 103.1M365.9 90L364.4 90M365.9 77L364.4 77M365.9 63.8L364.4 63.8M365.9 50.8L364.4 50.8" stroke="#222" stroke-width="0.9" fill="none"/>
<path d="M261.2 175.1 L263.8 175.1 L266.4 175 L269.1 175 L271.7 174.9 L274.3 174.8 L276.9 174.6 L279.5 174.4 L282.1 174.2 L284.8 173.8 L287.4 173.4 L290 172.8 L292.6 172.1 L295.2 171.1 L297.8 169.9 L300.4 168.3 L303.1 166.4 L305.7 163.9 L308.3 161 L310.9 157.6 L313.5 153.7 L316.1 149.4 L318.8 144.8 L321.4 140.1 L324 135.5 L326.6 131.2 L329.2 127.3 L331.9 123.9 L334.5 121 L337.1 118.5 L339.7 116.6 L342.3 115 L344.9 113.8 L347.5 112.8 L350.2 112.1 L352.8 111.5 L355.4 111.1 L358 110.7 L360.6 110.5 L363.2 110.3 L365.9 110.1 L368.5 110 L371.1 109.9 L373.7 109.9 L376.3 109.8 L378.9 109.8 L381.6 109.8 L384.2 109.8 L386.8 109.7 L389.4 109.7 L392 109.7 L394.6 109.7 L397.3 109.7 L399.9 109.7 L402.5 109.7 L405.1 109.7 L407.7 109.7 L410.4 109.7 L413 109.7 L415.6 109.7 L418.2 109.7" stroke="#000" stroke-width="0.8" fill="none" stroke-linejoin="round"/>
<path d="M261.2 174.1 L263.8 173.8 L266.4 173.3 L269.1 172.8 L271.7 172 L274.3 171.1 L276.9 169.9 L279.5 168.5 L282.1 166.6 L284.8 164.3 L287.4 161.4 L290 158 L292.6 154 L295.2 149.3 L297.8 144.1 L300.4 138.4 L303.1 132.4 L305.7 126.3 L308.3 120.3 L310.9 114.6 L313.5 109.4 L316.1 104.7 L318.8 100.7 L321.4 97.3 L324 94.4 L326.6 92.1 L329.2 90.2 L331.9 88.8 L334.5 87.6 L337.1 86.7 L339.7 85.9 L342.3 85.4 L344.9 84.9 L347.5 84.6 L350.2 84.4 L352.8 84.2 L355.4 84 L358 83.9 L360.6 83.8 L363.2 83.7 L365.9 83.7 L368.5 83.6 L371.1 83.6 L373.7 83.6 L376.3 83.6 L378.9 83.5 L381.6 83.5 L384.2 83.5 L386.8 83.5 L389.4 83.5 L392 83.5 L394.6 83.5 L397.3 83.5 L399.9 83.5 L402.5 83.5 L405.1 83.5 L407.7 83.5 L410.4 83.5 L413 83.5 L415.6 83.5 L418.2 83.5" stroke="#ff1d0d" stroke-width="0.8" fill="none" stroke-linejoin="round"/>
<path d="M261.2 173.4L261.2 176M259.7 173.4L262.7 173.4M259.7 176L262.7 176M274.3 169.2L274.3 174.4M272.8 169.2L275.8 169.2M272.8 174.4L275.8 174.4M287.4 151.4L287.4 167.1M285.9 151.4L288.9 151.4M285.9 167.1L288.9 167.1M300.4 117.6L300.4 149M298.9 117.6L301.9 117.6M298.9 149L301.9 149M313.5 92.1L313.5 131.4M312 92.1L315 92.1M312 131.4L315 131.4M326.6 77.2L326.6 120.2M325.1 77.2L328.1 77.2M325.1 120.2L328.1 120.2M339.7 64.9L339.7 107.9M338.2 64.9L341.2 64.9M338.2 107.9L341.2 107.9M352.8 59.1L352.8 102.1M351.3 59.1L354.3 59.1M351.3 102.1L354.3 102.1M365.9 59.7L365.9 99M364.4 59.7L367.4 59.7M364.4 99L367.4 99M378.9 65.7L378.9 99.7M377.4 65.7L380.4 65.7M377.4 99.7L380.4 99.7M392 69.4L392 101.8M390.5 69.4L393.5 69.4M390.5 101.8L393.5 101.8M405.1 73.5L405.1 105M403.6 73.5L406.6 73.5M403.6 105L406.6 105M418.2 77.2L418.2 107.6M416.7 77.2L419.7 77.2M416.7 107.6L419.7 107.6" stroke="#ff1d0d" stroke-width="0.7" fill="none"/>
<circle cx="261.2" cy="174.7" r="2.8" fill="#ff1d0d" stroke="none"/>
<circle cx="274.3" cy="171.8" r="2.8" fill="#ff1d0d" stroke="none"/>
<circle cx="287.4" cy="159.2" r="2.8" fill="#ff1d0d" stroke="none"/>
<circle cx="300.4" cy="133.3" r="2.8" fill="#ff1d0d" stroke="none"/>
<circle cx="313.5" cy="111.8" r="2.8" fill="#ff1d0d" stroke="none"/>
<circle cx="326.6" cy="98.7" r="2.8" fill="#ff1d0d" stroke="none"/>
<circle cx="339.7" cy="86.4" r="2.8" fill="#ff1d0d" stroke="none"/>
<circle cx="352.8" cy="80.6" r="2.8" fill="#ff1d0d" stroke="none"/>
<circle cx="365.9" cy="79.3" r="2.8" fill="#ff1d0d" stroke="none"/>
<circle cx="378.9" cy="82.7" r="2.8" fill="#ff1d0d" stroke="none"/>
<circle cx="392" cy="85.6" r="2.8" fill="#ff1d0d" stroke="none"/>
<circle cx="405.1" cy="89.3" r="2.8" fill="#ff1d0d" stroke="none"/>
<circle cx="418.2" cy="92.4" r="2.8" fill="#ff1d0d" stroke="none"/>
<path d="M287.4 172.8L287.4 174.4M285.9 172.8L288.9 172.8M285.9 174.4L288.9 174.4M300.4 165.2L300.4 169.4M298.9 165.2L301.9 165.2M298.9 169.4L301.9 169.4M313.5 147.2L313.5 155M312 147.2L315 147.2M312 155L315 155M326.6 124.4L326.6 138.5M325.1 124.4L328.1 124.4M325.1 138.5L328.1 138.5M339.7 108.4L339.7 126.7M338.2 108.4L341.2 108.4M338.2 126.7L341.2 126.7M352.8 102.1L352.8 120.4M351.3 102.1L354.3 102.1M351.3 120.4L354.3 120.4M365.9 101.1L365.9 119.4M364.4 101.1L367.4 101.1M364.4 119.4L367.4 119.4M378.9 100L378.9 118.3M377.4 100L380.4 100M377.4 118.3L380.4 118.3M392 100.5L392 118.9M390.5 100.5L393.5 100.5M390.5 118.9L393.5 118.9M405.1 102.1L405.1 121.5M403.6 102.1L406.6 102.1M403.6 121.5L406.6 121.5M418.2 102.4L418.2 123.3M416.7 102.4L419.7 102.4M416.7 123.3L419.7 123.3" stroke="#000" stroke-width="0.7" fill="none"/>
<rect x="258.9" y="172.9" width="4.5" height="4.5" fill="#000"/>
<rect x="272" y="172.9" width="4.5" height="4.5" fill="#000"/>
<rect x="285.1" y="171.4" width="4.5" height="4.5" fill="#000"/>
<rect x="298.2" y="165.1" width="4.5" height="4.5" fill="#000"/>
<rect x="311.3" y="148.8" width="4.5" height="4.5" fill="#000"/>
<rect x="324.4" y="129.2" width="4.5" height="4.5" fill="#000"/>
<rect x="337.4" y="115.3" width="4.5" height="4.5" fill="#000"/>
<rect x="350.5" y="109" width="4.5" height="4.5" fill="#000"/>
<rect x="363.6" y="108" width="4.5" height="4.5" fill="#000"/>
<rect x="376.7" y="106.9" width="4.5" height="4.5" fill="#000"/>
<rect x="389.8" y="107.4" width="4.5" height="4.5" fill="#000"/>
<rect x="402.9" y="109.5" width="4.5" height="4.5" fill="#000"/>
<rect x="415.9" y="110.6" width="4.5" height="4.5" fill="#000"/>
<text x="345.5" y="146" font-size="9.4" text-anchor="middle" fill="#000" transform="rotate(-90 345.5 146)"><tspan font-style="italic">I</tspan> (µA)</text>
<text x="393.1" y="200" font-size="9.5" text-anchor="middle" fill="#000">voltage (mV)</text>
<path d="M361 16L386 16" stroke="#000" stroke-width="0.9" fill="none"/>
<rect x="370.5" y="13" width="6" height="6" fill="#000"/>
<text x="391.6" y="19.4" font-size="9.4" text-anchor="start" fill="#000">Control</text>
<path d="M361 32L386 32" stroke="#ff1d0d" stroke-width="0.9" fill="none"/>
<circle cx="373.5" cy="32" r="3.5" fill="#ff1d0d" stroke="none"/>
<text x="392.2" y="32.6" font-size="9.4" text-anchor="start" fill="#ff1d0d">50 µM gentisic acid/</text>
<text x="392.2" y="42.8" font-size="9.4" text-anchor="start" fill="#ff1d0d">50 µM protocatechuic acid</text>
<path d="M434.5 175L600 175M538.9 175L538.9 40.7M441.5 175L441.5 177.6" stroke="#222" stroke-width="0.9" fill="none"/>
<text x="441.5" y="186.4" font-size="8.2" text-anchor="middle" fill="#000">-80</text>
<path d="M465.9 175L465.9 177.6" stroke="#222" stroke-width="0.9" fill="none"/>
<text x="465.9" y="186.4" font-size="8.2" text-anchor="middle" fill="#000">-60</text>
<path d="M490.2 175L490.2 177.6" stroke="#222" stroke-width="0.9" fill="none"/>
<text x="490.2" y="186.4" font-size="8.2" text-anchor="middle" fill="#000">-40</text>
<path d="M514.5 175L514.5 177.6" stroke="#222" stroke-width="0.9" fill="none"/>
<text x="514.5" y="186.4" font-size="8.2" text-anchor="middle" fill="#000">-20</text>
<path d="M538.9 175L538.9 177.6" stroke="#222" stroke-width="0.9" fill="none"/>
<text x="538.9" y="186.4" font-size="8.2" text-anchor="middle" fill="#000">0</text>
<path d="M563.2 175L563.2 177.6" stroke="#222" stroke-width="0.9" fill="none"/>
<text x="563.2" y="186.4" font-size="8.2" text-anchor="middle" fill="#000">20</text>
<path d="M587.6 175L587.6 177.6" stroke="#222" stroke-width="0.9" fill="none"/>
<text x="587.6" y="186.4" font-size="8.2" text-anchor="middle" fill="#000">40</text>
<path d="M453.7 175L453.7 176.5M478 175L478 176.5M502.4 175L502.4 176.5M526.7 175L526.7 176.5M551.1 175L551.1 176.5M575.4 175L575.4 176.5M538.9 149.8L536.3 149.8" stroke="#222" stroke-width="0.9" fill="none"/>
<text x="535.5" y="152.8" font-size="8.2" text-anchor="end" fill="#000">0.2</text>
<path d="M538.9 124.3L536.3 124.3" stroke="#222" stroke-width="0.9" fill="none"/>
<text x="535.5" y="127.3" font-size="8.2" text-anchor="end" fill="#000">0.4</text>
<path d="M538.9 98.8L536.3 98.8" stroke="#222" stroke-width="0.9" fill="none"/>
<text x="535.5" y="101.8" font-size="8.2" text-anchor="end" fill="#000">0.6</text>
<path d="M538.9 73.3L536.3 73.3" stroke="#222" stroke-width="0.9" fill="none"/>
<text x="535.5" y="76.3" font-size="8.2" text-anchor="end" fill="#000">0.8</text>
<path d="M538.9 47.8L536.3 47.8" stroke="#222" stroke-width="0.9" fill="none"/>
<text x="535.5" y="50.8" font-size="8.2" text-anchor="end" fill="#000">1.0</text>
<path d="M538.9 162.6L537.4 162.6M538.9 137.1L537.4 137.1M538.9 111.6L537.4 111.6M538.9 86.1L537.4 86.1M538.9 60.5L537.4 60.5" stroke="#222" stroke-width="0.9" fill="none"/>
<path d="M441.5 175.2 L443.9 175.1 L446.4 175.1 L448.8 175 L451.2 174.9 L453.7 174.7 L456.1 174.5 L458.5 174.2 L461 173.8 L463.4 173.3 L465.9 172.6 L468.3 171.7 L470.7 170.5 L473.2 168.8 L475.6 166.6 L478 163.8 L480.5 160.1 L482.9 155.5 L485.3 149.8 L487.8 142.9 L490.2 134.9 L492.6 126 L495.1 116.4 L497.5 106.7 L499.9 97.1 L502.4 88.2 L504.8 80.2 L507.2 73.3 L509.7 67.6 L512.1 63 L514.5 59.3 L517 56.5 L519.4 54.3 L521.9 52.6 L524.3 51.4 L526.7 50.5 L529.2 49.8 L531.6 49.3 L534 48.9 L536.5 48.6 L538.9 48.4 L541.3 48.2 L543.8 48.1 L546.2 48 L548.6 48 L551.1 47.9 L553.5 47.9 L555.9 47.9 L558.4 47.8 L560.8 47.8 L563.2 47.8 L565.7 47.8 L568.1 47.8 L570.6 47.8 L573 47.8 L575.4 47.8 L577.9 47.8 L580.3 47.8 L582.7 47.8 L585.2 47.8 L587.6 47.8" stroke="#000" stroke-width="0.8" fill="none" stroke-linejoin="round"/>
<path d="M441.5 174.1 L443.9 173.7 L446.4 173.3 L448.8 172.7 L451.2 172 L453.7 171.1 L456.1 169.9 L458.5 168.5 L461 166.7 L463.4 164.4 L465.9 161.7 L468.3 158.3 L470.7 154.3 L473.2 149.6 L475.6 144.1 L478 137.8 L480.5 130.8 L482.9 123.4 L485.3 115.5 L487.8 107.6 L490.2 99.7 L492.6 92.3 L495.1 85.3 L497.5 79 L499.9 73.5 L502.4 68.8 L504.8 64.8 L507.2 61.4 L509.7 58.7 L512.1 56.4 L514.5 54.6 L517 53.2 L519.4 52 L521.9 51.1 L524.3 50.4 L526.7 49.8 L529.2 49.4 L531.6 49 L534 48.8 L536.5 48.6 L538.9 48.4 L541.3 48.3 L543.8 48.2 L546.2 48.1 L548.6 48 L551.1 48 L553.5 47.9 L555.9 47.9 L558.4 47.9 L560.8 47.9 L563.2 47.8 L565.7 47.8 L568.1 47.8 L570.6 47.8 L573 47.8 L575.4 47.8 L577.9 47.8 L580.3 47.8 L582.7 47.8 L585.2 47.8 L587.6 47.8" stroke="#ff1d0d" stroke-width="0.8" fill="none" stroke-linejoin="round"/>
<path d="M441.5 173.4L441.5 175.9M440 173.4L443 173.4M440 175.9L443 175.9M453.7 168.9L453.7 174M452.2 168.9L455.2 168.9M452.2 174L455.2 174M465.9 154.9L465.9 162.6M464.4 154.9L467.4 154.9M464.4 162.6L467.4 162.6M478 117.9L478 135.8M476.5 117.9L479.5 117.9M476.5 135.8L479.5 135.8M490.2 89.9L490.2 105.2M488.7 89.9L491.7 89.9M488.7 105.2L491.7 105.2M502.4 70.7L502.4 83.5M500.9 70.7L503.9 70.7M500.9 83.5L503.9 83.5M514.5 54.2L514.5 61.8M513 54.2L516 54.2M513 61.8L516 61.8M526.7 47.8L526.7 52.9M525.2 47.8L528.2 47.8M525.2 52.9L528.2 52.9M538.9 45.2L538.9 50.3M537.4 45.2L540.4 45.2M537.4 50.3L540.4 50.3M551.1 49.1L551.1 54.2M549.6 49.1L552.6 49.1M549.6 54.2L552.6 54.2M563.2 50.3L563.2 58M561.8 50.3L564.8 50.3M561.8 58L564.8 58M575.4 54.2L575.4 61.8M573.9 54.2L576.9 54.2M573.9 61.8L576.9 61.8M587.6 56.7L587.6 69.5M586.1 56.7L589.1 56.7M586.1 69.5L589.1 69.5" stroke="#ff1d0d" stroke-width="0.7" fill="none"/>
<circle cx="441.5" cy="174.7" r="2.8" fill="#ff1d0d" stroke="none"/>
<circle cx="453.7" cy="171.5" r="2.8" fill="#ff1d0d" stroke="none"/>
<circle cx="465.9" cy="158.7" r="2.8" fill="#ff1d0d" stroke="none"/>
<circle cx="478" cy="126.9" r="2.8" fill="#ff1d0d" stroke="none"/>
<circle cx="490.2" cy="97.5" r="2.8" fill="#ff1d0d" stroke="none"/>
<circle cx="502.4" cy="77.1" r="2.8" fill="#ff1d0d" stroke="none"/>
<circle cx="514.5" cy="58" r="2.8" fill="#ff1d0d" stroke="none"/>
<circle cx="526.7" cy="50.3" r="2.8" fill="#ff1d0d" stroke="none"/>
<circle cx="538.9" cy="47.8" r="2.8" fill="#ff1d0d" stroke="none"/>
<circle cx="551.1" cy="51.6" r="2.8" fill="#ff1d0d" stroke="none"/>
<circle cx="563.2" cy="54.2" r="2.8" fill="#ff1d0d" stroke="none"/>
<circle cx="575.4" cy="58" r="2.8" fill="#ff1d0d" stroke="none"/>
<circle cx="587.6" cy="63.1" r="2.8" fill="#ff1d0d" stroke="none"/>
<path d="M465.9 171.5L465.9 174M464.4 171.5L467.4 171.5M464.4 174L467.4 174M478 158.7L478 163.8M476.5 158.7L479.5 158.7M476.5 163.8L479.5 163.8M490.2 124.3L490.2 134.5M488.7 124.3L491.7 124.3M488.7 134.5L491.7 134.5M502.4 84.8L502.4 97.5M500.9 84.8L503.9 84.8M500.9 97.5L503.9 97.5M514.5 59.3L514.5 69.5M513 59.3L516 59.3M513 69.5L516 69.5M526.7 47.8L526.7 55.5M525.2 47.8L528.2 47.8M525.2 55.5L528.2 55.5M538.9 46.5L538.9 51.6M537.4 46.5L540.4 46.5M537.4 51.6L540.4 51.6M551.1 45.2L551.1 50.3M549.6 45.2L552.6 45.2M549.6 50.3L552.6 50.3M563.2 46.5L563.2 51.6M561.8 46.5L564.8 46.5M561.8 51.6L564.8 51.6M575.4 51.6L575.4 59.3M573.9 51.6L576.9 51.6M573.9 59.3L576.9 59.3M587.6 51.6L587.6 61.8M586.1 51.6L589.1 51.6M586.1 61.8L589.1 61.8" stroke="#000" stroke-width="0.7" fill="none"/>
<rect x="439.2" y="173.1" width="4.5" height="4.5" fill="#000"/>
<rect x="451.4" y="173.1" width="4.5" height="4.5" fill="#000"/>
<rect x="463.6" y="170.5" width="4.5" height="4.5" fill="#000"/>
<rect x="475.8" y="159" width="4.5" height="4.5" fill="#000"/>
<rect x="487.9" y="127.2" width="4.5" height="4.5" fill="#000"/>
<rect x="500.1" y="88.9" width="4.5" height="4.5" fill="#000"/>
<rect x="512.3" y="62.1" width="4.5" height="4.5" fill="#000"/>
<rect x="524.5" y="49.4" width="4.5" height="4.5" fill="#000"/>
<rect x="536.6" y="46.8" width="4.5" height="4.5" fill="#000"/>
<rect x="548.8" y="45.5" width="4.5" height="4.5" fill="#000"/>
<rect x="561" y="46.8" width="4.5" height="4.5" fill="#000"/>
<rect x="573.2" y="53.2" width="4.5" height="4.5" fill="#000"/>
<rect x="585.4" y="54.5" width="4.5" height="4.5" fill="#000"/>
<text x="518.5" y="136.6" font-size="9.4" text-anchor="middle" fill="#000" transform="rotate(-90 518.5 136.6)">G/Gmax</text>
<text x="562.4" y="200.6" font-size="8.4" text-anchor="middle" fill="#000">voltage (mV)</text>
<path d="M636.3 176.6L679 176.6M636.3 177.1L636.3 68" stroke="#000" stroke-width="1.1" fill="none"/>
<path d="M636.3 176.6L633.2 176.6" stroke="#000" stroke-width="1.0" fill="none"/>
<text x="632.5" y="179.7" font-size="8.8" text-anchor="end" fill="#000">−80</text>
<path d="M636.3 149.5L633.2 149.5" stroke="#000" stroke-width="1.0" fill="none"/>
<text x="632.5" y="152.6" font-size="8.8" text-anchor="end" fill="#000">−70</text>
<path d="M636.3 122.4L633.2 122.4" stroke="#000" stroke-width="1.0" fill="none"/>
<text x="632.5" y="125.5" font-size="8.8" text-anchor="end" fill="#000">−60</text>
<path d="M636.3 95.4L633.2 95.4" stroke="#000" stroke-width="1.0" fill="none"/>
<text x="632.5" y="98.5" font-size="8.8" text-anchor="end" fill="#000">−50</text>
<path d="M636.3 68.3L633.2 68.3" stroke="#000" stroke-width="1.0" fill="none"/>
<text x="632.5" y="71.4" font-size="8.8" text-anchor="end" fill="#000">−40</text>
<path d="M648.2 176.6L648.2 179.4M666.6 176.6L666.6 179.4" stroke="#000" stroke-width="1.0" fill="none"/>
<text x="642.4" y="190.5" font-size="7.9" text-anchor="middle" fill="#000">Control</text>
<text x="672.1" y="190.5" font-size="7.9" text-anchor="middle" fill="#ff1d0d">GA/PA</text>
<path d="M641.9 127.9L655 127.9" stroke="#000" stroke-width="1.2" fill="none"/>
<path d="M648.6 122L648.6 132.6M645.5 122L651.7 122M645.5 132.6L651.7 132.6" stroke="#000" stroke-width="1" fill="none"/>
<path d="M660.5 136.3L672.9 136.3" stroke="#ff1d0d" stroke-width="1.2" fill="none"/>
<path d="M666.7 131.6L666.7 140.9M663.6 131.6L669.8 131.6M663.6 140.9L669.8 140.9" stroke="#ff1d0d" stroke-width="1" fill="none"/>
<rect x="647.2" y="96.3" width="3.1" height="3.1" fill="#000"/>
<rect x="647.2" y="115.5" width="3.1" height="3.1" fill="#000"/>
<rect x="647.2" y="125.8" width="3.1" height="3.1" fill="#000"/>
<rect x="647.2" y="131.5" width="3.1" height="3.1" fill="#000"/>
<rect x="642.7" y="136.9" width="3.1" height="3.1" fill="#000"/>
<rect x="652" y="136.9" width="3.1" height="3.1" fill="#000"/>
<rect x="647.2" y="142.6" width="3.1" height="3.1" fill="#000"/>
<circle cx="666.7" cy="114.3" r="1.6" fill="#ff1d0d" stroke="none"/>
<circle cx="666.7" cy="125.2" r="1.6" fill="#ff1d0d" stroke="none"/>
<circle cx="666.7" cy="135.7" r="1.6" fill="#ff1d0d" stroke="none"/>
<circle cx="662" cy="143.6" r="1.6" fill="#ff1d0d" stroke="none"/>
<circle cx="671.3" cy="140.9" r="1.6" fill="#ff1d0d" stroke="none"/>
<circle cx="662" cy="149.5" r="1.6" fill="#ff1d0d" stroke="none"/>
<circle cx="671.3" cy="146.5" r="1.6" fill="#ff1d0d" stroke="none"/>
<path d="M649 85.5L667.8 85.5" stroke="#000" stroke-width="1.1" fill="none"/>
<text x="659.2" y="81.9" font-size="8.9" text-anchor="middle" fill="#000">P=0.293</text>
<text x="612.5" y="119.5" font-size="10" text-anchor="middle" fill="#000" transform="rotate(-90 612.5 119.5)"><tspan font-style="italic">E</tspan><tspan font-size="7">M</tspan> (mV)</text>
<text x="21.2" y="237.6" font-size="18.8" text-anchor="start" fill="#000">d</text>
<text x="16.1" y="288" font-size="17.0" text-anchor="middle" fill="#000" transform="rotate(-90 16.1 288)" textLength="54.6" lengthAdjust="spacingAndGlyphs">Kv7.2/3</text>
<text x="33.7" y="282.8" font-size="9.4" text-anchor="start" fill="#000" transform="translate(33.7 282.8) scale(1 1.16) translate(-33.7 -282.8)">Control</text>
<text x="129.3" y="243.8" font-size="9.4" text-anchor="start" fill="#3daa60" transform="translate(129.3 243.8) scale(1 1.16) translate(-129.3 -243.8)">10 nM GA</text>
<path d="M75.7 355.9L111 355.9M110 356L118 356M174.8 356L206 356" stroke="#222" stroke-width="1.0" fill="none" stroke-dasharray="1.4 1.9"/>
<path d="M19.2 355.8L75.7 355.8" stroke="#000" stroke-width="2.0" fill="none"/>
<path d="M25.8 288.8L25.8 355.8" stroke="#000" stroke-width="0.9" fill="none"/>
<path d="M25.8 355.8 L27.6 326.7 L29.4 310.5 L31.1 301.6 L32.9 296.7 L34.7 293.9 L36.5 292.4 L38.3 291.5 L40.1 291 L41.8 290.7 L43.6 290.5 L45.4 290.4 L47.2 290.3 L49 290.2 L50.8 290.2 L52.5 290.1 L54.3 290.1 L56.1 290 L57.9 290 L59.7 289.9 L61.4 289.9 L63.2 289.8 L65 289.8 L66.8 289.7 L68.6 289.7 L70.4 289.6 L72.1 289.6 L73.9 289.5 L75.7 289.5" stroke="#000" stroke-width="1.3" fill="none" stroke-linejoin="round"/>
<path d="M25.8 355.8 L27.6 331.8 L29.4 317.3 L31.1 308.7 L32.9 303.4 L34.7 300.3 L36.5 298.4 L38.3 297.2 L40.1 296.5 L41.8 296 L43.6 295.8 L45.4 295.6 L47.2 295.4 L49 295.3 L50.8 295.3 L52.5 295.2 L54.3 295.1 L56.1 295.1 L57.9 295 L59.7 295 L61.4 295 L63.2 294.9 L65 294.9 L66.8 294.8 L68.6 294.8 L70.4 294.7 L72.1 294.7 L73.9 294.6 L75.7 294.6" stroke="#000" stroke-width="1.3" fill="none" stroke-linejoin="round"/>
<path d="M25.8 355.8 L27.6 337 L29.4 324.6 L31.1 316.3 L32.9 310.8 L34.7 307.2 L36.5 304.8 L38.3 303.2 L40.1 302.1 L41.8 301.4 L43.6 300.9 L45.4 300.6 L47.2 300.3 L49 300.2 L50.8 300 L52.5 299.9 L54.3 299.9 L56.1 299.8 L57.9 299.7 L59.7 299.7 L61.4 299.6 L63.2 299.6 L65 299.5 L66.8 299.5 L68.6 299.5 L70.4 299.4 L72.1 299.4 L73.9 299.3 L75.7 299.3" stroke="#000" stroke-width="1.3" fill="none" stroke-linejoin="round"/>
<path d="M25.8 355.8 L27.6 342.3 L29.4 332.4 L31.1 325.2 L32.9 320 L34.7 316.1 L36.5 313.3 L38.3 311.3 L40.1 309.8 L41.8 308.7 L43.6 307.8 L45.4 307.2 L47.2 306.8 L49 306.4 L50.8 306.2 L52.5 306 L54.3 305.8 L56.1 305.7 L57.9 305.6 L59.7 305.5 L61.4 305.5 L63.2 305.4 L65 305.4 L66.8 305.3 L68.6 305.3 L70.4 305.2 L72.1 305.2 L73.9 305.1 L75.7 305.1" stroke="#000" stroke-width="1.3" fill="none" stroke-linejoin="round"/>
<path d="M25.8 355.8 L27.6 346.4 L29.4 339 L31.1 333.2 L32.9 328.7 L34.7 325.1 L36.5 322.3 L38.3 320 L40.1 318.3 L41.8 316.9 L43.6 315.8 L45.4 314.9 L47.2 314.2 L49 313.7 L50.8 313.3 L52.5 312.9 L54.3 312.6 L56.1 312.4 L57.9 312.2 L59.7 312.1 L61.4 311.9 L63.2 311.8 L65 311.8 L66.8 311.7 L68.6 311.6 L70.4 311.5 L72.1 311.5 L73.9 311.4 L75.7 311.4" stroke="#000" stroke-width="1.3" fill="none" stroke-linejoin="round"/>
<path d="M25.8 355.8 L27.6 349.6 L29.4 344.5 L31.1 340.3 L32.9 336.7 L34.7 333.7 L36.5 331.2 L38.3 329.2 L40.1 327.5 L41.8 326 L43.6 324.8 L45.4 323.8 L47.2 323 L49 322.3 L50.8 321.7 L52.5 321.2 L54.3 320.8 L56.1 320.4 L57.9 320.1 L59.7 319.8 L61.4 319.6 L63.2 319.4 L65 319.3 L66.8 319.2 L68.6 319 L70.4 318.9 L72.1 318.8 L73.9 318.8 L75.7 318.7" stroke="#000" stroke-width="1.3" fill="none" stroke-linejoin="round"/>
<path d="M25.8 355.8 L27.6 351.8 L29.4 348.3 L31.1 345.3 L32.9 342.7 L34.7 340.5 L36.5 338.5 L38.3 336.8 L40.1 335.3 L41.8 334 L43.6 332.9 L45.4 332 L47.2 331.1 L49 330.4 L50.8 329.7 L52.5 329.2 L54.3 328.7 L56.1 328.3 L57.9 327.9 L59.7 327.6 L61.4 327.3 L63.2 327.1 L65 326.9 L66.8 326.7 L68.6 326.5 L70.4 326.4 L72.1 326.2 L73.9 326.1 L75.7 326" stroke="#000" stroke-width="1.3" fill="none" stroke-linejoin="round"/>
<path d="M25.8 355.8 L27.6 353.5 L29.4 351.4 L31.1 349.6 L32.9 347.9 L34.7 346.5 L36.5 345.2 L38.3 344 L40.1 342.9 L41.8 342 L43.6 341.1 L45.4 340.3 L47.2 339.7 L49 339 L50.8 338.5 L52.5 338 L54.3 337.6 L56.1 337.2 L57.9 336.8 L59.7 336.5 L61.4 336.2 L63.2 335.9 L65 335.7 L66.8 335.5 L68.6 335.3 L70.4 335.1 L72.1 335 L73.9 334.8 L75.7 334.7" stroke="#000" stroke-width="1.3" fill="none" stroke-linejoin="round"/>
<path d="M25.8 355.8 L27.6 354.7 L29.4 353.6 L31.1 352.7 L32.9 351.8 L34.7 351 L36.5 350.3 L38.3 349.6 L40.1 349 L41.8 348.5 L43.6 348 L45.4 347.5 L47.2 347.1 L49 346.7 L50.8 346.3 L52.5 346 L54.3 345.7 L56.1 345.4 L57.9 345.1 L59.7 344.9 L61.4 344.7 L63.2 344.5 L65 344.3 L66.8 344.2 L68.6 344 L70.4 343.9 L72.1 343.7 L73.9 343.6 L75.7 343.5" stroke="#000" stroke-width="1.3" fill="none" stroke-linejoin="round"/>
<path d="M25.8 355.8 L27.6 355.3 L29.4 354.9 L31.1 354.5 L32.9 354.1 L34.7 353.8 L36.5 353.4 L38.3 353.1 L40.1 352.9 L41.8 352.6 L43.6 352.4 L45.4 352.1 L47.2 351.9 L49 351.8 L50.8 351.6 L52.5 351.4 L54.3 351.3 L56.1 351.1 L57.9 351 L59.7 350.9 L61.4 350.8 L63.2 350.7 L65 350.6 L66.8 350.5 L68.6 350.4 L70.4 350.3 L72.1 350.2 L73.9 350.2 L75.7 350.1" stroke="#000" stroke-width="1.3" fill="none" stroke-linejoin="round"/>
<path d="M25.8 355.8 L27.6 355.6 L29.4 355.5 L31.1 355.3 L32.9 355.2 L34.7 355.1 L36.5 355 L38.3 354.9 L40.1 354.8 L41.8 354.7 L43.6 354.6 L45.4 354.5 L47.2 354.4 L49 354.3 L50.8 354.3 L52.5 354.2 L54.3 354.2 L56.1 354.1 L57.9 354.1 L59.7 354 L61.4 354 L63.2 353.9 L65 353.9 L66.8 353.8 L68.6 353.8 L70.4 353.8 L72.1 353.8 L73.9 353.7 L75.7 353.7" stroke="#000" stroke-width="1.3" fill="none" stroke-linejoin="round"/>
<path d="M25.8 355.8 L27.6 355.8 L29.4 355.7 L31.1 355.7 L32.9 355.6 L34.7 355.6 L36.5 355.6 L38.3 355.5 L40.1 355.5 L41.8 355.5 L43.6 355.5 L45.4 355.4 L47.2 355.4 L49 355.4 L50.8 355.4 L52.5 355.4 L54.3 355.3 L56.1 355.3 L57.9 355.3 L59.7 355.3 L61.4 355.3 L63.2 355.3 L65 355.3 L66.8 355.2 L68.6 355.2 L70.4 355.2 L72.1 355.2 L73.9 355.2 L75.7 355.2" stroke="#000" stroke-width="1.3" fill="none" stroke-linejoin="round"/>
<path d="M25.8 355.8 L27.6 355.8 L29.4 355.8 L31.1 355.8 L32.9 355.8 L34.7 355.8 L36.5 355.8 L38.3 355.8 L40.1 355.8 L41.8 355.8 L43.6 355.8 L45.4 355.8 L47.2 355.8 L49 355.8 L50.8 355.8 L52.5 355.8 L54.3 355.8 L56.1 355.8 L57.9 355.8 L59.7 355.8 L61.4 355.8 L63.2 355.8 L65 355.8 L66.8 355.8 L68.6 355.8 L70.4 355.8 L72.1 355.8 L73.9 355.8 L75.7 355.8" stroke="#000" stroke-width="1.3" fill="none" stroke-linejoin="round"/>
<path d="M75.7 329.5 L76.9 330.1 L78.1 330.6 L79.4 330.8 L80.6 331 L81.8 331.2 L83 331.2 L84.2 331.3 L85.5 331.3 L86.7 331.4 L87.9 331.4 L89.1 331.4 L90.4 331.4 L91.6 331.4 L92.8 331.4 L92.8 332.8 L91.6 332.8 L90.4 332.8 L89.1 332.8 L87.9 332.8 L86.7 332.8 L85.5 332.8 L84.2 332.8 L83 332.8 L81.8 332.8 L80.6 332.7 L79.4 332.7 L78.1 332.7 L76.9 332.6 L75.7 332.5Z" stroke="#000" stroke-width="0.6" fill="#000" stroke-linejoin="round"/>
<path d="M75.7 334.5 L76.8 334.5 L77.8 334.5 L78.9 334.5 L80 334.5 L81 334.5 L82.1 334.5 L83.2 334.5 L84.2 334.5 L85.3 334.5 L86.4 334.5 L87.5 334.5 L88.5 334.5 L89.6 334.5 L90.7 334.5 L91.7 334.5 L92.8 334.5" stroke="#000" stroke-width="1.4040000000000001" fill="none" stroke-linejoin="round"/>
<path d="M75.7 341 L76.8 340.4 L77.8 339.9 L78.9 339.5 L80 339.1 L81 338.8 L82.1 338.5 L83.2 338.3 L84.2 338 L85.3 337.9 L86.4 337.7 L87.5 337.5 L88.5 337.4 L89.6 337.3 L90.7 337.2 L91.7 337.1 L92.8 337" stroke="#000" stroke-width="1.5210000000000001" fill="none" stroke-linejoin="round"/>
<path d="M75.7 355.6 L76.8 355.2 L77.8 354.1 L78.9 352.8 L80 351.3 L81 349.8 L82.1 348.4 L83.2 347.2 L84.2 346 L85.3 345 L86.4 344.1 L87.5 343.3 L88.5 342.7 L89.6 342.1 L90.7 341.6 L91.7 341.2 L92.8 340.9" stroke="#000" stroke-width="1.5210000000000001" fill="none" stroke-linejoin="round"/>
<path d="M75.7 355.6 L76.8 355.2 L77.8 354.4 L78.9 353.2 L80 352 L81 350.7 L82.1 349.5 L83.2 348.3 L84.2 347.2 L85.3 346.3 L86.4 345.4 L87.5 344.7 L88.5 344 L89.6 343.5 L90.7 343 L91.7 342.5 L92.8 342.2" stroke="#000" stroke-width="1.5210000000000001" fill="none" stroke-linejoin="round"/>
<path d="M75.7 355.6 L76.8 355.3 L77.8 354.6 L78.9 353.6 L80 352.4 L81 351.3 L82.1 350.2 L83.2 349.1 L84.2 348.1 L85.3 347.2 L86.4 346.3 L87.5 345.6 L88.5 344.9 L89.6 344.4 L90.7 343.9 L91.7 343.4 L92.8 343" stroke="#000" stroke-width="1.5210000000000001" fill="none" stroke-linejoin="round"/>
<path d="M75.7 289.5L75.7 371.2" stroke="#555" stroke-width="0.7" fill="none"/>
<path d="M92.8 331L92.8 371.2" stroke="#555" stroke-width="0.9" fill="none"/>
<path d="M92.8 358.3 L93.5 357.9 L94.1 357.5 L94.8 357.2 L95.4 357 L96.1 356.8 L96.8 356.6 L97.4 356.5 L98.1 356.4 L98.8 356.3 L99.4 356.2 L100.1 356.1 L100.8 356.1 L101.4 356 L102.1 356 L102.7 356 L103.4 355.9 L103.4 356 L102.7 356.1 L102.1 356.2 L101.4 356.3 L100.8 356.4 L100.1 356.6 L99.4 356.8 L98.8 357 L98.1 357.4 L97.4 357.8 L96.8 358.3 L96.1 359 L95.4 359.9 L94.8 361 L94.1 362.3 L93.5 364.1 L92.8 366.3Z" stroke="#000" stroke-width="0.6" fill="#000" stroke-linejoin="round"/>
<path d="M118.3 356.6L174.8 356.6" stroke="#40ff0a" stroke-width="2.0" fill="none"/>
<path d="M124.7 239.2L124.7 356.6" stroke="#40ff0a" stroke-width="0.9" fill="none"/>
<path d="M124.7 356.6 L126.5 310.1 L128.3 284.5 L130.1 270.3 L131.9 262.5 L133.6 258.2 L135.4 255.7 L137.2 254.4 L139 253.6 L140.8 253.1 L142.6 252.8 L144.4 252.6 L146.2 252.5 L148 252.4 L149.8 252.3 L151.5 252.2 L153.3 252.1 L155.1 252 L156.9 252 L158.7 251.9 L160.5 251.8 L162.3 251.7 L164.1 251.7 L165.9 251.6 L167.6 251.5 L169.4 251.4 L171.2 251.4 L173 251.3 L174.8 251.2" stroke="#40ff0a" stroke-width="1.4300000000000002" fill="none" stroke-linejoin="round"/>
<path d="M124.7 356.6 L126.5 316.3 L128.3 292.7 L130.1 278.9 L131.9 270.7 L133.6 265.9 L135.4 263.1 L137.2 261.4 L139 260.4 L140.8 259.7 L142.6 259.3 L144.4 259.1 L146.2 258.9 L148 258.8 L149.8 258.6 L151.5 258.6 L153.3 258.5 L155.1 258.4 L156.9 258.3 L158.7 258.2 L160.5 258.2 L162.3 258.1 L164.1 258 L165.9 258 L167.6 257.9 L169.4 257.8 L171.2 257.7 L173 257.7 L174.8 257.6" stroke="#40ff0a" stroke-width="1.4300000000000002" fill="none" stroke-linejoin="round"/>
<path d="M124.7 356.6 L126.5 325.7 L128.3 305.5 L130.1 292.3 L131.9 283.6 L133.6 277.9 L135.4 274.2 L137.2 271.8 L139 270.1 L140.8 269 L142.6 268.3 L144.4 267.8 L146.2 267.5 L148 267.2 L149.8 267 L151.5 266.9 L153.3 266.8 L155.1 266.7 L156.9 266.6 L158.7 266.5 L160.5 266.4 L162.3 266.4 L164.1 266.3 L165.9 266.2 L167.6 266.2 L169.4 266.1 L171.2 266 L173 266 L174.8 265.9" stroke="#40ff0a" stroke-width="1.4300000000000002" fill="none" stroke-linejoin="round"/>
<path d="M124.7 356.6 L126.5 334.3 L128.3 318.2 L130.1 306.6 L131.9 298.1 L133.6 292.1 L135.4 287.6 L137.2 284.5 L139 282.1 L140.8 280.4 L142.6 279.2 L144.4 278.3 L146.2 277.6 L148 277.1 L149.8 276.7 L151.5 276.4 L153.3 276.2 L155.1 276 L156.9 275.9 L158.7 275.8 L160.5 275.7 L162.3 275.6 L164.1 275.5 L165.9 275.4 L167.6 275.4 L169.4 275.3 L171.2 275.2 L173 275.2 L174.8 275.1" stroke="#40ff0a" stroke-width="1.4300000000000002" fill="none" stroke-linejoin="round"/>
<path d="M124.7 356.6 L126.5 341.2 L128.3 329.1 L130.1 319.7 L131.9 312.3 L133.6 306.6 L135.4 302.1 L137.2 298.5 L139 295.8 L140.8 293.6 L142.6 291.9 L144.4 290.6 L146.2 289.5 L148 288.7 L149.8 288 L151.5 287.5 L153.3 287.1 L155.1 286.7 L156.9 286.4 L158.7 286.2 L160.5 286 L162.3 285.9 L164.1 285.7 L165.9 285.6 L167.6 285.5 L169.4 285.4 L171.2 285.3 L173 285.3 L174.8 285.2" stroke="#40ff0a" stroke-width="1.4300000000000002" fill="none" stroke-linejoin="round"/>
<path d="M124.7 356.6 L126.5 346.3 L128.3 337.7 L130.1 330.6 L131.9 324.8 L133.6 319.9 L135.4 315.9 L137.2 312.5 L139 309.8 L140.8 307.5 L142.6 305.6 L144.4 304 L146.2 302.7 L148 301.6 L149.8 300.7 L151.5 299.9 L153.3 299.3 L155.1 298.7 L156.9 298.3 L158.7 297.9 L160.5 297.6 L162.3 297.3 L164.1 297.1 L165.9 296.9 L167.6 296.7 L169.4 296.6 L171.2 296.4 L173 296.3 L174.8 296.2" stroke="#40ff0a" stroke-width="1.4300000000000002" fill="none" stroke-linejoin="round"/>
<path d="M124.7 356.6 L126.5 349.8 L128.3 344 L130.1 338.9 L131.9 334.6 L133.6 330.8 L135.4 327.6 L137.2 324.8 L139 322.4 L140.8 320.3 L142.6 318.5 L144.4 316.9 L146.2 315.6 L148 314.4 L149.8 313.4 L151.5 312.5 L153.3 311.8 L155.1 311.1 L156.9 310.5 L158.7 310 L160.5 309.6 L162.3 309.2 L164.1 308.9 L165.9 308.6 L167.6 308.4 L169.4 308.1 L171.2 307.9 L173 307.8 L174.8 307.6" stroke="#40ff0a" stroke-width="1.4300000000000002" fill="none" stroke-linejoin="round"/>
<path d="M124.7 356.6 L126.5 352.6 L128.3 349.1 L130.1 345.9 L131.9 343.1 L133.6 340.5 L135.4 338.3 L137.2 336.3 L139 334.5 L140.8 332.9 L142.6 331.5 L144.4 330.2 L146.2 329.1 L148 328.1 L149.8 327.2 L151.5 326.4 L153.3 325.7 L155.1 325 L156.9 324.4 L158.7 323.9 L160.5 323.5 L162.3 323 L164.1 322.7 L165.9 322.3 L167.6 322 L169.4 321.8 L171.2 321.5 L173 321.3 L174.8 321.1" stroke="#40ff0a" stroke-width="1.4300000000000002" fill="none" stroke-linejoin="round"/>
<path d="M124.7 356.6 L126.5 354.9 L128.3 353.3 L130.1 351.8 L131.9 350.5 L133.6 349.2 L135.4 348.1 L137.2 347.1 L139 346.2 L140.8 345.3 L142.6 344.5 L144.4 343.8 L146.2 343.1 L148 342.5 L149.8 342 L151.5 341.4 L153.3 341 L155.1 340.5 L156.9 340.1 L158.7 339.8 L160.5 339.5 L162.3 339.1 L164.1 338.9 L165.9 338.6 L167.6 338.4 L169.4 338.2 L171.2 338 L173 337.8 L174.8 337.6" stroke="#40ff0a" stroke-width="1.4300000000000002" fill="none" stroke-linejoin="round"/>
<path d="M124.7 356.6 L126.5 356.1 L128.3 355.6 L130.1 355.2 L131.9 354.8 L133.6 354.5 L135.4 354.1 L137.2 353.8 L139 353.5 L140.8 353.2 L142.6 353 L144.4 352.7 L146.2 352.5 L148 352.3 L149.8 352.1 L151.5 351.9 L153.3 351.8 L155.1 351.6 L156.9 351.5 L158.7 351.4 L160.5 351.2 L162.3 351.1 L164.1 351 L165.9 350.9 L167.6 350.8 L169.4 350.7 L171.2 350.6 L173 350.6 L174.8 350.5" stroke="#40ff0a" stroke-width="1.4300000000000002" fill="none" stroke-linejoin="round"/>
<path d="M124.7 356.6 L126.5 356.5 L128.3 356.4 L130.1 356.3 L131.9 356.2 L133.6 356.1 L135.4 356 L137.2 355.9 L139 355.9 L140.8 355.8 L142.6 355.7 L144.4 355.7 L146.2 355.6 L148 355.6 L149.8 355.5 L151.5 355.5 L153.3 355.4 L155.1 355.4 L156.9 355.4 L158.7 355.3 L160.5 355.3 L162.3 355.3 L164.1 355.2 L165.9 355.2 L167.6 355.2 L169.4 355.2 L171.2 355.1 L173 355.1 L174.8 355.1" stroke="#40ff0a" stroke-width="1.4300000000000002" fill="none" stroke-linejoin="round"/>
<path d="M124.7 356.6 L126.5 356.6 L128.3 356.6 L130.1 356.6 L131.9 356.6 L133.6 356.6 L135.4 356.6 L137.2 356.6 L139 356.6 L140.8 356.6 L142.6 356.6 L144.4 356.6 L146.2 356.6 L148 356.6 L149.8 356.6 L151.5 356.6 L153.3 356.6 L155.1 356.6 L156.9 356.6 L158.7 356.6 L160.5 356.6 L162.3 356.6 L164.1 356.6 L165.9 356.6 L167.6 356.6 L169.4 356.6 L171.2 356.6 L173 356.6 L174.8 356.6" stroke="#40ff0a" stroke-width="1.4300000000000002" fill="none" stroke-linejoin="round"/>
<path d="M174.8 315.3 L176 316 L177.2 316.5 L178.4 316.8 L179.6 317 L180.8 317.1 L182 317.2 L183.2 317.3 L184.3 317.3 L185.5 317.3 L186.7 317.4 L187.9 317.4 L189.1 317.4 L190.3 317.4 L191.5 317.4 L191.5 320.2 L190.3 320.2 L189.1 320.2 L187.9 320.2 L186.7 320.2 L185.5 320.2 L184.3 320.2 L183.2 320.2 L182 320.2 L180.8 320.2 L179.6 320.3 L178.4 320.3 L177.2 320.3 L176 320.4 L174.8 320.5Z" stroke="#40ff0a" stroke-width="0.6" fill="#40ff0a" stroke-linejoin="round"/>
<path d="M174.8 321.2 L175.8 321.2 L176.9 321.2 L177.9 321.2 L179 321.2 L180 321.2 L181.1 321.2 L182.1 321.2 L183.2 321.2 L184.2 321.2 L185.2 321.2 L186.3 321.2 L187.3 321.2 L188.4 321.2 L189.4 321.2 L190.5 321.2 L191.5 321.2" stroke="#40ff0a" stroke-width="1.4040000000000001" fill="none" stroke-linejoin="round"/>
<path d="M174.8 331.6 L175.8 330.4 L176.9 329.4 L177.9 328.5 L179 327.7 L180 327 L181.1 326.5 L182.1 326 L183.2 325.5 L184.2 325.2 L185.2 324.9 L186.3 324.6 L187.3 324.4 L188.4 324.2 L189.4 324 L190.5 323.8 L191.5 323.7" stroke="#40ff0a" stroke-width="1.638" fill="none" stroke-linejoin="round"/>
<path d="M174.8 345.7 L175.8 342.8 L176.9 340.4 L177.9 338.2 L179 336.4 L180 334.8 L181.1 333.5 L182.1 332.3 L183.2 331.3 L184.2 330.4 L185.2 329.7 L186.3 329 L187.3 328.5 L188.4 328 L189.4 327.6 L190.5 327.2 L191.5 326.9" stroke="#40ff0a" stroke-width="1.638" fill="none" stroke-linejoin="round"/>
<path d="M174.8 356 L175.8 355.2 L176.9 353.5 L177.9 351.1 L179 348.6 L180 346 L181.1 343.6 L182.1 341.4 L183.2 339.3 L184.2 337.5 L185.2 336 L186.3 334.6 L187.3 333.4 L188.4 332.3 L189.4 331.4 L190.5 330.7 L191.5 330" stroke="#40ff0a" stroke-width="1.638" fill="none" stroke-linejoin="round"/>
<path d="M174.8 356 L175.8 355.4 L176.9 353.8 L177.9 351.8 L179 349.6 L180 347.3 L181.1 345.1 L182.1 343 L183.2 341.1 L184.2 339.4 L185.2 337.8 L186.3 336.4 L187.3 335.2 L188.4 334.1 L189.4 333.2 L190.5 332.4 L191.5 331.7" stroke="#40ff0a" stroke-width="1.638" fill="none" stroke-linejoin="round"/>
<path d="M174.8 250.6L174.8 380.8" stroke="#80ff60" stroke-width="0.8" fill="none"/>
<path d="M191.5 318L191.5 380.8" stroke="#80ff60" stroke-width="0.9" fill="none"/>
<path d="M191.5 359.1 L192.2 358.7 L192.8 358.4 L193.5 358.1 L194.1 357.9 L194.8 357.7 L195.4 357.5 L196.1 357.4 L196.8 357.3 L197.4 357.1 L198.1 357.1 L198.7 357 L199.4 356.9 L200 356.9 L200.7 356.8 L201.3 356.8 L202 356.8 L202 357.2 L201.3 357.4 L200.7 357.5 L200 357.8 L199.4 358 L198.7 358.4 L198.1 358.8 L197.4 359.4 L196.8 360.1 L196.1 360.9 L195.4 362 L194.8 363.3 L194.1 364.9 L193.5 367 L192.8 369.5 L192.2 372.7 L191.5 376.6Z" stroke="#40ff0a" stroke-width="0.6" fill="#40ff0a" stroke-linejoin="round"/>
<rect x="79.3" y="254.6" width="37.5" height="52.9" stroke="#88d2f4" stroke-width="1.5" fill="none"/>
<path d="M82 304.8L114 304.8" stroke="#333" stroke-width="0.8" fill="none" stroke-dasharray="1.2 1.6"/>
<path d="M82 255.7 L83.1 256.2 L84.1 256.7 L85.2 257.1 L86.2 257.4 L87.3 257.6 L88.3 257.8 L89.4 258 L90.4 258.2 L91.5 258.3 L92.5 258.4 L93.6 258.5 L94.6 258.6 L95.7 258.7 L96.7 258.7 L97.8 258.8 L98.9 258.8 L99.9 258.8 L101 258.9 L102 258.9 L103.1 258.9 L104.1 258.9 L105.2 258.9 L106.2 258.9 L107.3 259 L108.3 259 L109.4 259 L110.4 259 L111.5 259 L112.5 259 L113.6 259 L113.6 261.9 L112.5 261.9 L111.5 261.9 L110.4 261.9 L109.4 261.9 L108.3 261.9 L107.3 261.8 L106.2 261.8 L105.2 261.8 L104.1 261.7 L103.1 261.7 L102 261.7 L101 261.6 L99.9 261.6 L98.9 261.5 L97.8 261.4 L96.7 261.4 L95.7 261.3 L94.6 261.2 L93.6 261.1 L92.5 260.9 L91.5 260.8 L90.4 260.6 L89.4 260.4 L88.3 260.2 L87.3 259.9 L86.2 259.6 L85.2 259.3 L84.1 258.9 L83.1 258.5 L82 258Z" stroke="#000" stroke-width="0.6" fill="#000" stroke-linejoin="round"/>
<path d="M82 265.3 L83.4 265.2 L84.9 265.1 L86.3 265 L87.7 265 L89.2 264.9 L90.6 264.8 L92.1 264.8 L93.5 264.8 L94.9 264.7 L96.4 264.7 L97.8 264.7 L99.2 264.6 L100.7 264.6 L102.1 264.6 L103.5 264.6 L105 264.6 L106.4 264.6 L107.9 264.6 L109.3 264.6 L110.7 264.5 L112.2 264.5 L113.6 264.5" stroke="#000" stroke-width="2.3400000000000003" fill="none" stroke-linejoin="round"/>
<path d="M82 277.4 L83.4 276.5 L84.9 275.7 L86.3 275 L87.7 274.3 L89.2 273.8 L90.6 273.2 L92.1 272.8 L93.5 272.4 L94.9 272.1 L96.4 271.7 L97.8 271.5 L99.2 271.2 L100.7 271 L102.1 270.8 L103.5 270.6 L105 270.5 L106.4 270.4 L107.9 270.2 L109.3 270.1 L110.7 270 L112.2 270 L113.6 269.9" stroke="#000" stroke-width="1.8199999999999998" fill="none" stroke-linejoin="round"/>
<path d="M82 293.6 L83.4 290.5 L84.9 287.8 L86.3 285.5 L87.7 283.5 L89.2 281.8 L90.6 280.3 L92.1 279 L93.5 277.8 L94.9 276.8 L96.4 276 L97.8 275.3 L99.2 274.6 L100.7 274.1 L102.1 273.6 L103.5 273.2 L105 272.8 L106.4 272.5 L107.9 272.2 L109.3 272 L110.7 271.8 L112.2 271.6 L113.6 271.5" stroke="#000" stroke-width="1.8199999999999998" fill="none" stroke-linejoin="round"/>
<path d="M82 304.5 L83.4 303.4 L84.9 300.8 L86.3 297.5 L87.7 294.2 L89.2 290.9 L90.6 288 L92.1 285.3 L93.5 283 L94.9 281.1 L96.4 279.4 L97.8 278 L99.2 276.9 L100.7 275.9 L102.1 275.1 L103.5 274.5 L105 273.9 L106.4 273.5 L107.9 273.1 L109.3 272.8 L110.7 272.6 L112.2 272.4 L113.6 272.2" stroke="#000" stroke-width="2.08" fill="none" stroke-linejoin="round"/>
<path d="M82 304.5 L83.4 303.5 L84.9 301.3 L86.3 298.4 L87.7 295.3 L89.2 292.4 L90.6 289.6 L92.1 287.1 L93.5 284.8 L94.9 282.9 L96.4 281.2 L97.8 279.8 L99.2 278.6 L100.7 277.6 L102.1 276.7 L103.5 276 L105 275.4 L106.4 274.9 L107.9 274.5 L109.3 274.2 L110.7 273.9 L112.2 273.6 L113.6 273.4" stroke="#000" stroke-width="2.08" fill="none" stroke-linejoin="round"/>
<path d="M82 304.5 L83.4 303.7 L84.9 301.7 L86.3 299.1 L87.7 296.4 L89.2 293.6 L90.6 291 L92.1 288.6 L93.5 286.5 L94.9 284.6 L96.4 282.9 L97.8 281.5 L99.2 280.3 L100.7 279.2 L102.1 278.3 L103.5 277.6 L105 276.9 L106.4 276.4 L107.9 275.9 L109.3 275.5 L110.7 275.2 L112.2 274.9 L113.6 274.7" stroke="#000" stroke-width="2.08" fill="none" stroke-linejoin="round"/>
<path d="M82 304.5 L83.4 303.8 L84.9 302 L86.3 299.8 L87.7 297.3 L89.2 294.7 L90.6 292.3 L92.1 290.1 L93.5 288 L94.9 286.2 L96.4 284.6 L97.8 283.1 L99.2 281.9 L100.7 280.8 L102.1 279.9 L103.5 279.1 L105 278.4 L106.4 277.8 L107.9 277.3 L109.3 276.9 L110.7 276.5 L112.2 276.2 L113.6 275.9" stroke="#000" stroke-width="2.08" fill="none" stroke-linejoin="round"/>
<path d="M82 255.7L82 306.1" stroke="#000" stroke-width="1.6" fill="none"/>
<path d="M113.6 263L113.6 275.5" stroke="#000" stroke-width="1.2" fill="none"/>
<rect x="177.7" y="227.5" width="37.2" height="80.1" stroke="#88d2f4" stroke-width="1.5" fill="none"/>
<path d="M180.5 304.8L212 304.8" stroke="#333" stroke-width="0.8" fill="none" stroke-dasharray="1.2 1.6"/>
<path d="M180.5 229.8 L181.5 230.2 L182.6 230.5 L183.6 230.8 L184.6 231 L185.6 231.2 L186.7 231.4 L187.7 231.5 L188.7 231.7 L189.7 231.8 L190.8 231.8 L191.8 231.9 L192.8 232 L193.8 232 L194.9 232.1 L195.9 232.1 L196.9 232.1 L198 232.2 L199 232.2 L200 232.2 L201 232.2 L202.1 232.2 L203.1 232.2 L204.1 232.3 L205.1 232.3 L206.2 232.3 L207.2 232.3 L208.2 232.3 L209.2 232.3 L210.3 232.3 L211.3 232.3 L211.3 237.5 L210.3 237.5 L209.2 237.5 L208.2 237.5 L207.2 237.5 L206.2 237.5 L205.1 237.5 L204.1 237.5 L203.1 237.5 L202.1 237.5 L201 237.5 L200 237.5 L199 237.5 L198 237.5 L196.9 237.5 L195.9 237.5 L194.9 237.5 L193.8 237.5 L192.8 237.5 L191.8 237.5 L190.8 237.5 L189.7 237.5 L188.7 237.5 L187.7 237.5 L186.7 237.5 L185.6 237.5 L184.6 237.5 L183.6 237.5 L182.6 237.5 L181.5 237.5 L180.5 237.5Z" stroke="#40ff0a" stroke-width="0.6" fill="#40ff0a" stroke-linejoin="round"/>
<path d="M180.5 239.6 L181.9 239.6 L183.3 239.6 L184.7 239.6 L186.1 239.6 L187.5 239.6 L188.9 239.6 L190.3 239.6 L191.7 239.6 L193.1 239.6 L194.5 239.6 L195.9 239.6 L197.3 239.6 L198.7 239.6 L200.1 239.6 L201.5 239.6 L202.9 239.6 L204.3 239.6 L205.7 239.6 L207.1 239.6 L208.5 239.6 L209.9 239.6 L211.3 239.6" stroke="#40ff0a" stroke-width="2.21" fill="none" stroke-linejoin="round"/>
<path d="M180.5 258.7 L181.9 257.2 L183.3 255.8 L184.7 254.6 L186.1 253.5 L187.5 252.6 L188.9 251.7 L190.3 250.9 L191.7 250.3 L193.1 249.7 L194.5 249.1 L195.9 248.7 L197.3 248.2 L198.7 247.9 L200.1 247.5 L201.5 247.2 L202.9 246.9 L204.3 246.7 L205.7 246.5 L207.1 246.3 L208.5 246.1 L209.9 246 L211.3 245.9" stroke="#40ff0a" stroke-width="1.9500000000000002" fill="none" stroke-linejoin="round"/>
<path d="M180.5 286.1 L181.9 282.3 L183.3 279 L184.7 276 L186.1 273.4 L187.5 271 L188.9 268.9 L190.3 267.1 L191.7 265.4 L193.1 263.9 L194.5 262.6 L195.9 261.4 L197.3 260.4 L198.7 259.5 L200.1 258.7 L201.5 257.9 L202.9 257.3 L204.3 256.7 L205.7 256.2 L207.1 255.7 L208.5 255.3 L209.9 254.9 L211.3 254.6" stroke="#40ff0a" stroke-width="1.9500000000000002" fill="none" stroke-linejoin="round"/>
<path d="M180.5 304.8 L181.9 303.5 L183.3 300.2 L184.7 296.1 L186.1 291.5 L187.5 287 L188.9 282.7 L190.3 278.7 L191.7 275.1 L193.1 271.9 L194.5 269.1 L195.9 266.6 L197.3 264.5 L198.7 262.7 L200.1 261.1 L201.5 259.8 L202.9 258.7 L204.3 257.7 L205.7 256.9 L207.1 256.2 L208.5 255.6 L209.9 255.1 L211.3 254.7" stroke="#40ff0a" stroke-width="2.08" fill="none" stroke-linejoin="round"/>
<path d="M180.5 304.8 L181.9 303.8 L183.3 301.2 L184.7 297.8 L186.1 294 L187.5 290.1 L188.9 286.3 L190.3 282.7 L191.7 279.3 L193.1 276.2 L194.5 273.5 L195.9 271 L197.3 268.9 L198.7 266.9 L200.1 265.3 L201.5 263.8 L202.9 262.5 L204.3 261.4 L205.7 260.4 L207.1 259.6 L208.5 258.9 L209.9 258.3 L211.3 257.7" stroke="#40ff0a" stroke-width="2.08" fill="none" stroke-linejoin="round"/>
<path d="M180.5 304.8 L181.9 304 L183.3 301.9 L184.7 299.1 L186.1 295.8 L187.5 292.4 L188.9 289 L190.3 285.8 L191.7 282.6 L193.1 279.8 L194.5 277.1 L195.9 274.7 L197.3 272.5 L198.7 270.5 L200.1 268.8 L201.5 267.2 L202.9 265.8 L204.3 264.6 L205.7 263.5 L207.1 262.6 L208.5 261.8 L209.9 261 L211.3 260.4" stroke="#40ff0a" stroke-width="2.08" fill="none" stroke-linejoin="round"/>
<path d="M180.5 229.8L180.5 305.3" stroke="#40ff0a" stroke-width="1.6" fill="none"/>
<path d="M211.3 238.1L211.3 257" stroke="#40ff0a" stroke-width="1.2" fill="none"/>
<path d="M14.6 339.1L14.6 371.6M14.6 371.6L31.8 371.6" stroke="#8a8a8a" stroke-width="1.0" fill="none"/>
<text x="11.4" y="356.1" font-size="10" text-anchor="middle" fill="#000" transform="rotate(-90 11.4 356.1)">2 µA</text>
<text x="16" y="381.8" font-size="10.5" text-anchor="start" fill="#000">1 s</text>
<text x="229" y="238" font-size="18.8" text-anchor="start" fill="#000">e</text>
<path d="M243.6 357.7L396.9 357.7M342.1 357.7L342.1 233.6M254.4 357.7L254.4 360.3" stroke="#222" stroke-width="0.9" fill="none"/>
<text x="254.4" y="369.2" font-size="9.1" text-anchor="middle" fill="#000">-80</text>
<path d="M276.3 357.7L276.3 360.3" stroke="#222" stroke-width="0.9" fill="none"/>
<text x="276.3" y="369.2" font-size="9.1" text-anchor="middle" fill="#000">-60</text>
<path d="M298.3 357.7L298.3 360.3" stroke="#222" stroke-width="0.9" fill="none"/>
<text x="298.3" y="369.2" font-size="9.1" text-anchor="middle" fill="#000">-40</text>
<path d="M320.2 357.7L320.2 360.3" stroke="#222" stroke-width="0.9" fill="none"/>
<text x="320.2" y="369.2" font-size="9.1" text-anchor="middle" fill="#000">-20</text>
<path d="M342.1 357.7L342.1 360.3" stroke="#222" stroke-width="0.9" fill="none"/>
<text x="342.1" y="369.2" font-size="9.1" text-anchor="middle" fill="#000">0</text>
<path d="M364.1 357.7L364.1 360.3" stroke="#222" stroke-width="0.9" fill="none"/>
<text x="364.1" y="369.2" font-size="9.1" text-anchor="middle" fill="#000">20</text>
<path d="M386 357.7L386 360.3" stroke="#222" stroke-width="0.9" fill="none"/>
<text x="386" y="369.2" font-size="9.1" text-anchor="middle" fill="#000">40</text>
<path d="M265.4 357.7L265.4 359.2M287.3 357.7L287.3 359.2M309.2 357.7L309.2 359.2M331.2 357.7L331.2 359.2M353.1 357.7L353.1 359.2M375 357.7L375 359.2M342.1 339.3L339.5 339.3" stroke="#222" stroke-width="0.9" fill="none"/>
<text x="339.8" y="342.6" font-size="9.1" text-anchor="end" fill="#000">0.5</text>
<path d="M342.1 320.3L339.5 320.3" stroke="#222" stroke-width="0.9" fill="none"/>
<text x="339.8" y="323.6" font-size="9.1" text-anchor="end" fill="#000">1.0</text>
<path d="M342.1 301.4L339.5 301.4" stroke="#222" stroke-width="0.9" fill="none"/>
<text x="339.8" y="304.6" font-size="9.1" text-anchor="end" fill="#000">1.5</text>
<path d="M342.1 282.4L339.5 282.4" stroke="#222" stroke-width="0.9" fill="none"/>
<text x="339.8" y="285.6" font-size="9.1" text-anchor="end" fill="#000">2.0</text>
<path d="M342.1 263.4L339.5 263.4" stroke="#222" stroke-width="0.9" fill="none"/>
<text x="339.8" y="266.7" font-size="9.1" text-anchor="end" fill="#000">2.5</text>
<path d="M342.1 244.4L339.5 244.4" stroke="#222" stroke-width="0.9" fill="none"/>
<text x="339.8" y="247.7" font-size="9.1" text-anchor="end" fill="#000">3.0</text>
<path d="M342.1 348.8L340.6 348.8M342.1 329.8L340.6 329.8M342.1 310.8L340.6 310.8M342.1 291.9L340.6 291.9M342.1 272.9L340.6 272.9M342.1 253.9L340.6 253.9M342.1 234.9L340.6 234.9" stroke="#222" stroke-width="0.9" fill="none"/>
<path d="M254.4 357.6 L256.6 357.3 L258.8 356.9 L261 356.3 L263.2 355.6 L265.4 354.5 L267.6 353.1 L269.8 351.2 L271.9 348.7 L274.1 345.4 L276.3 341.2 L278.5 335.9 L280.7 329.6 L282.9 322.3 L285.1 314.2 L287.3 305.9 L289.5 297.7 L291.7 290 L293.9 283.1 L296.1 277.3 L298.3 272.6 L300.5 268.8 L302.7 265.9 L304.8 263.7 L307 262.1 L309.2 260.9 L311.4 260 L313.6 259.4 L315.8 258.9 L318 258.6 L320.2 258.3 L322.4 258.1 L324.6 258 L326.8 257.9 L329 257.9 L331.2 257.8 L333.4 257.8 L335.6 257.7 L337.7 257.7 L339.9 257.7 L342.1 257.7 L344.3 257.7 L346.5 257.7 L348.7 257.7 L350.9 257.7 L353.1 257.7 L355.3 257.7 L357.5 257.7 L359.7 257.7 L361.9 257.7 L364.1 257.7 L366.3 257.7 L368.5 257.7 L370.6 257.7 L372.8 257.7 L375 257.7 L377.2 257.7 L379.4 257.7 L381.6 257.7 L383.8 257.7 L386 257.7" stroke="#808020" stroke-width="0.8" fill="none" stroke-linejoin="round"/>
<path d="M254.4 357.6 L256.6 357.3 L258.8 356.9 L261 356.4 L263.2 355.7 L265.4 354.6 L267.6 353.3 L269.8 351.4 L271.9 348.9 L274.1 345.6 L276.3 341.4 L278.5 336.1 L280.7 329.7 L282.9 322.2 L285.1 313.9 L287.3 305.1 L289.5 296.4 L291.7 288.1 L293.9 280.6 L296.1 274.2 L298.3 268.9 L300.5 264.7 L302.7 261.4 L304.8 258.9 L307 257 L309.2 255.7 L311.4 254.6 L313.6 253.9 L315.8 253.4 L318 253 L320.2 252.7 L322.4 252.5 L324.6 252.4 L326.8 252.3 L329 252.2 L331.2 252.1 L333.4 252.1 L335.6 252.1 L337.7 252 L339.9 252 L342.1 252 L344.3 252 L346.5 252 L348.7 252 L350.9 252 L353.1 252 L355.3 252 L357.5 252 L359.7 252 L361.9 252 L364.1 252 L366.3 252 L368.5 252 L370.6 252 L372.8 252 L375 252 L377.2 252 L379.4 252 L381.6 252 L383.8 252 L386 252" stroke="#f0f020" stroke-width="0.8" fill="none" stroke-linejoin="round"/>
<path d="M254.4 357.7 L256.6 357.4 L258.8 357.1 L261 356.6 L263.2 356 L265.4 355.1 L267.6 353.9 L269.8 352.2 L271.9 350 L274.1 347.1 L276.3 343.2 L278.5 338.4 L280.7 332.3 L282.9 325.2 L285.1 317 L287.3 308.2 L289.5 299.1 L291.7 290.2 L293.9 282.1 L296.1 274.9 L298.3 268.9 L300.5 264 L302.7 260.2 L304.8 257.3 L307 255 L309.2 253.4 L311.4 252.2 L313.6 251.3 L315.8 250.6 L318 250.2 L320.2 249.8 L322.4 249.6 L324.6 249.4 L326.8 249.3 L329 249.2 L331.2 249.1 L333.4 249.1 L335.6 249 L337.7 249 L339.9 249 L342.1 249 L344.3 249 L346.5 249 L348.7 249 L350.9 249 L353.1 249 L355.3 249 L357.5 249 L359.7 249 L361.9 249 L364.1 249 L366.3 249 L368.5 249 L370.6 249 L372.8 249 L375 249 L377.2 249 L379.4 249 L381.6 249 L383.8 249 L386 249" stroke="#ff30ff" stroke-width="0.8" fill="none" stroke-linejoin="round"/>
<path d="M254.4 357.7 L256.6 357.5 L258.8 357.2 L261 356.7 L263.2 356.1 L265.4 355.2 L267.6 354.1 L269.8 352.5 L271.9 350.4 L274.1 347.6 L276.3 343.9 L278.5 339.3 L280.7 333.5 L282.9 326.7 L285.1 318.9 L287.3 310.4 L289.5 301.8 L291.7 293.3 L293.9 285.5 L296.1 278.7 L298.3 272.9 L300.5 268.3 L302.7 264.6 L304.8 261.8 L307 259.7 L309.2 258.1 L311.4 257 L313.6 256.1 L315.8 255.5 L318 255 L320.2 254.7 L322.4 254.5 L324.6 254.3 L326.8 254.2 L329 254.1 L331.2 254 L333.4 254 L335.6 254 L337.7 253.9 L339.9 253.9 L342.1 253.9 L344.3 253.9 L346.5 253.9 L348.7 253.9 L350.9 253.9 L353.1 253.9 L355.3 253.9 L357.5 253.9 L359.7 253.9 L361.9 253.9 L364.1 253.9 L366.3 253.9 L368.5 253.9 L370.6 253.9 L372.8 253.9 L375 253.9 L377.2 253.9 L379.4 253.9 L381.6 253.9 L383.8 253.9 L386 253.9" stroke="#70f0ff" stroke-width="0.8" fill="none" stroke-linejoin="round"/>
<path d="M254.4 357.8 L256.6 357.6 L258.8 357.3 L261 357 L263.2 356.5 L265.4 355.7 L267.6 354.8 L269.8 353.4 L271.9 351.6 L274.1 349.2 L276.3 346.1 L278.5 342 L280.7 336.9 L282.9 330.7 L285.1 323.5 L287.3 315.5 L289.5 307 L291.7 298.6 L293.9 290.6 L296.1 283.4 L298.3 277.2 L300.5 272.1 L302.7 268 L304.8 264.9 L307 262.4 L309.2 260.7 L311.4 259.3 L313.6 258.3 L315.8 257.6 L318 257.1 L320.2 256.7 L322.4 256.5 L324.6 256.3 L326.8 256.1 L329 256 L331.2 256 L333.4 255.9 L335.6 255.9 L337.7 255.9 L339.9 255.8 L342.1 255.8 L344.3 255.8 L346.5 255.8 L348.7 255.8 L350.9 255.8 L353.1 255.8 L355.3 255.8 L357.5 255.8 L359.7 255.8 L361.9 255.8 L364.1 255.8 L366.3 255.8 L368.5 255.8 L370.6 255.8 L372.8 255.8 L375 255.8 L377.2 255.8 L379.4 255.8 L381.6 255.8 L383.8 255.8 L386 255.8" stroke="#0000ff" stroke-width="0.8" fill="none" stroke-linejoin="round"/>
<path d="M254.4 357.9 L256.6 357.7 L258.8 357.5 L261 357.2 L263.2 356.7 L265.4 356.1 L267.6 355.3 L269.8 354.1 L271.9 352.6 L274.1 350.5 L276.3 347.7 L278.5 344.1 L280.7 339.5 L282.9 333.8 L285.1 327 L287.3 319.3 L289.5 311 L291.7 302.4 L293.9 294 L296.1 286.3 L298.3 279.6 L300.5 273.9 L302.7 269.3 L304.8 265.6 L307 262.9 L309.2 260.8 L311.4 259.2 L313.6 258.1 L315.8 257.2 L318 256.6 L320.2 256.2 L322.4 255.8 L324.6 255.6 L326.8 255.5 L329 255.3 L331.2 255.2 L333.4 255.2 L335.6 255.1 L337.7 255.1 L339.9 255.1 L342.1 255.1 L344.3 255.1 L346.5 255.1 L348.7 255 L350.9 255 L353.1 255 L355.3 255 L357.5 255 L359.7 255 L361.9 255 L364.1 255 L366.3 255 L368.5 255 L370.6 255 L372.8 255 L375 255 L377.2 255 L379.4 255 L381.6 255 L383.8 255 L386 255" stroke="#33f033" stroke-width="0.8" fill="none" stroke-linejoin="round"/>
<path d="M254.4 357.8 L256.6 357.6 L258.8 357.3 L261 357 L263.2 356.6 L265.4 356.1 L267.6 355.4 L269.8 354.5 L271.9 353.2 L274.1 351.7 L276.3 349.7 L278.5 347.2 L280.7 344.1 L282.9 340.3 L285.1 335.8 L287.3 330.6 L289.5 324.7 L291.7 318.4 L293.9 311.8 L296.1 305.2 L298.3 298.9 L300.5 293 L302.7 287.8 L304.8 283.3 L307 279.5 L309.2 276.4 L311.4 273.9 L313.6 271.9 L315.8 270.3 L318 269.1 L320.2 268.2 L322.4 267.5 L324.6 267 L326.8 266.5 L329 266.2 L331.2 266 L333.4 265.8 L335.6 265.7 L337.7 265.6 L339.9 265.5 L342.1 265.5 L344.3 265.4 L346.5 265.4 L348.7 265.4 L350.9 265.3 L353.1 265.3 L355.3 265.3 L357.5 265.3 L359.7 265.3 L361.9 265.3 L364.1 265.3 L366.3 265.3 L368.5 265.3 L370.6 265.3 L372.8 265.3 L375 265.3 L377.2 265.3 L379.4 265.3 L381.6 265.3 L383.8 265.3 L386 265.3" stroke="#ff1d0d" stroke-width="0.8" fill="none" stroke-linejoin="round"/>
<path d="M254.4 358 L256.6 357.9 L258.8 357.8 L261 357.6 L263.2 357.4 L265.4 357.1 L267.6 356.7 L269.8 356.2 L271.9 355.5 L274.1 354.6 L276.3 353.4 L278.5 352 L280.7 350.2 L282.9 347.9 L285.1 345.1 L287.3 341.8 L289.5 337.9 L291.7 333.6 L293.9 329 L296.1 324.1 L298.3 319.3 L300.5 314.6 L302.7 310.3 L304.8 306.5 L307 303.2 L309.2 300.4 L311.4 298.1 L313.6 296.3 L315.8 294.8 L318 293.7 L320.2 292.8 L322.4 292.1 L324.6 291.6 L326.8 291.2 L329 290.9 L331.2 290.7 L333.4 290.5 L335.6 290.4 L337.7 290.3 L339.9 290.2 L342.1 290.1 L344.3 290.1 L346.5 290.1 L348.7 290 L350.9 290 L353.1 290 L355.3 290 L357.5 290 L359.7 290 L361.9 290 L364.1 290 L366.3 290 L368.5 290 L370.6 290 L372.8 290 L375 290 L377.2 290 L379.4 290 L381.6 290 L383.8 290 L386 290" stroke="#000" stroke-width="0.8" fill="none" stroke-linejoin="round"/>
<path d="M254.4 355.6L254.4 359.6M252.8 355.6L256 355.6M252.8 359.6L256 359.6M265.4 352.1L265.4 357M263.8 352.1L267 352.1M263.8 357L267 357M276.3 337L276.3 345.9M274.7 337L277.9 337M274.7 345.9L277.9 345.9M287.3 295.4L287.3 315.1M285.7 295.4L288.9 295.4M285.7 315.1L288.9 315.1M298.3 259.9L298.3 282.7M296.7 259.9L299.9 259.9M296.7 282.7L299.9 282.7M309.2 254.6L309.2 277.4M307.6 254.6L310.8 254.6M307.6 277.4L310.8 277.4M320.2 252.8L320.2 275.5M318.6 252.8L321.8 252.8M318.6 275.5L321.8 275.5M331.2 242.3L331.2 265.1M329.6 242.3L332.8 242.3M329.6 265.1L332.8 265.1M342.1 249.2L342.1 272M340.5 249.2L343.7 249.2M340.5 272L343.7 272M353.1 249.5L353.1 272.3M351.5 249.5L354.7 249.5M351.5 272.3L354.7 272.3M364.1 240.3L364.1 263.1M362.5 240.3L365.7 240.3M362.5 263.1L365.7 263.1M375 246.7L375 269.4M373.4 246.7L376.6 246.7M373.4 269.4L376.6 269.4M386 242.2L386 265M384.4 242.2L387.6 242.2M384.4 265L387.6 265" stroke="#808020" stroke-width="0.7" fill="none"/>
<circle cx="254.4" cy="357.6" r="2" fill="#808020" stroke="none"/>
<circle cx="265.4" cy="354.5" r="2" fill="#808020" stroke="none"/>
<circle cx="276.3" cy="341.4" r="2" fill="#808020" stroke="none"/>
<circle cx="287.3" cy="305.2" r="2" fill="#808020" stroke="none"/>
<circle cx="298.3" cy="271.3" r="2" fill="#808020" stroke="none"/>
<circle cx="309.2" cy="266" r="2" fill="#808020" stroke="none"/>
<circle cx="320.2" cy="264.1" r="2" fill="#808020" stroke="none"/>
<circle cx="331.2" cy="253.7" r="2" fill="#808020" stroke="none"/>
<circle cx="342.1" cy="260.6" r="2" fill="#808020" stroke="none"/>
<circle cx="353.1" cy="260.9" r="2" fill="#808020" stroke="none"/>
<circle cx="364.1" cy="251.7" r="2" fill="#808020" stroke="none"/>
<circle cx="375" cy="258" r="2" fill="#808020" stroke="none"/>
<circle cx="386" cy="253.6" r="2" fill="#808020" stroke="none"/>
<path d="M254.4 355.6L254.4 359.6M252.8 355.6L256 355.6M252.8 359.6L256 359.6M265.4 352.1L265.4 357M263.8 352.1L267 352.1M263.8 357L267 357M276.3 337.8L276.3 346.4M274.7 337.8L277.9 337.8M274.7 346.4L277.9 346.4M287.3 294.3L287.3 314.3M285.7 294.3L288.9 294.3M285.7 314.3L288.9 314.3M298.3 253.5L298.3 276.3M296.7 253.5L299.9 253.5M296.7 276.3L299.9 276.3M309.2 244L309.2 266.8M307.6 244L310.8 244M307.6 266.8L310.8 266.8M320.2 238.3L320.2 261M318.6 238.3L321.8 238.3M318.6 261L321.8 261M331.2 238.6L331.2 261.3M329.6 238.6L332.8 238.6M329.6 261.3L332.8 261.3M342.1 246.2L342.1 269M340.5 246.2L343.7 246.2M340.5 269L343.7 269M353.1 237.3L353.1 260.1M351.5 237.3L354.7 237.3M351.5 260.1L354.7 260.1M364.1 239.4L364.1 262.2M362.5 239.4L365.7 239.4M362.5 262.2L365.7 262.2M375 243.1L375 265.9M373.4 243.1L376.6 243.1M373.4 265.9L376.6 265.9M386 246.6L386 269.4M384.4 246.6L387.6 246.6M384.4 269.4L387.6 269.4" stroke="#f0f020" stroke-width="0.7" fill="none"/>
<path d="M256.4 357.6 L252.9 355.9 L252.9 359.3Z" stroke="none" stroke-width="0" fill="#f0f020" stroke-linejoin="round"/>
<path d="M267.4 354.6 L263.8 352.9 L263.8 356.3Z" stroke="none" stroke-width="0" fill="#f0f020" stroke-linejoin="round"/>
<path d="M278.4 342.1 L274.8 340.4 L274.8 343.8Z" stroke="none" stroke-width="0" fill="#f0f020" stroke-linejoin="round"/>
<path d="M289.3 304.3 L285.8 302.6 L285.8 306Z" stroke="none" stroke-width="0" fill="#f0f020" stroke-linejoin="round"/>
<path d="M300.3 264.9 L296.7 263.2 L296.7 266.6Z" stroke="none" stroke-width="0" fill="#f0f020" stroke-linejoin="round"/>
<path d="M311.3 255.4 L307.7 253.7 L307.7 257.1Z" stroke="none" stroke-width="0" fill="#f0f020" stroke-linejoin="round"/>
<path d="M322.2 249.6 L318.7 247.9 L318.7 251.3Z" stroke="none" stroke-width="0" fill="#f0f020" stroke-linejoin="round"/>
<path d="M333.2 249.9 L329.6 248.2 L329.6 251.6Z" stroke="none" stroke-width="0" fill="#f0f020" stroke-linejoin="round"/>
<path d="M344.2 257.6 L340.6 255.9 L340.6 259.3Z" stroke="none" stroke-width="0" fill="#f0f020" stroke-linejoin="round"/>
<path d="M355.1 248.7 L351.6 247 L351.6 250.4Z" stroke="none" stroke-width="0" fill="#f0f020" stroke-linejoin="round"/>
<path d="M366.1 250.8 L362.5 249.1 L362.5 252.5Z" stroke="none" stroke-width="0" fill="#f0f020" stroke-linejoin="round"/>
<path d="M377.1 254.5 L373.5 252.8 L373.5 256.2Z" stroke="none" stroke-width="0" fill="#f0f020" stroke-linejoin="round"/>
<path d="M388 258 L384.5 256.3 L384.5 259.7Z" stroke="none" stroke-width="0" fill="#f0f020" stroke-linejoin="round"/>
<path d="M254.4 355.7L254.4 359.6M252.8 355.7L256 355.7M252.8 359.6L256 359.6M265.4 352.7L265.4 357.5M263.8 352.7L267 352.7M263.8 357.5L267 357.5M276.3 338.6L276.3 347.1M274.7 338.6L277.9 338.6M274.7 347.1L277.9 347.1M287.3 296.1L287.3 315.7M285.7 296.1L288.9 296.1M285.7 315.7L288.9 315.7M298.3 255.2L298.3 278M296.7 255.2L299.9 255.2M296.7 278L299.9 278M309.2 236.7L309.2 259.5M307.6 236.7L310.8 236.7M307.6 259.5L310.8 259.5M320.2 239.8L320.2 262.6M318.6 239.8L321.8 239.8M318.6 262.6L321.8 262.6M331.2 233.8L331.2 256.6M329.6 233.8L332.8 233.8M329.6 256.6L332.8 256.6M342.1 238.3L342.1 261.1M340.5 238.3L343.7 238.3M340.5 261.1L343.7 261.1M353.1 231.9L353.1 254.6M351.5 231.9L354.7 231.9M351.5 254.6L354.7 254.6M364.1 232.6L364.1 255.4M362.5 232.6L365.7 232.6M362.5 255.4L365.7 255.4M375 242.8L375 265.6M373.4 242.8L376.6 242.8M373.4 265.6L376.6 265.6M386 242.3L386 265.1M384.4 242.3L387.6 242.3M384.4 265.1L387.6 265.1" stroke="#ff30ff" stroke-width="0.7" fill="none"/>
<path d="M252.4 357.7 L255.9 356 L255.9 359.4Z" stroke="none" stroke-width="0" fill="#ff30ff" stroke-linejoin="round"/>
<path d="M263.3 355.1 L266.9 353.4 L266.9 356.8Z" stroke="none" stroke-width="0" fill="#ff30ff" stroke-linejoin="round"/>
<path d="M274.3 342.8 L277.9 341.1 L277.9 344.5Z" stroke="none" stroke-width="0" fill="#ff30ff" stroke-linejoin="round"/>
<path d="M285.3 305.9 L288.8 304.2 L288.8 307.6Z" stroke="none" stroke-width="0" fill="#ff30ff" stroke-linejoin="round"/>
<path d="M296.2 266.6 L299.8 264.9 L299.8 268.3Z" stroke="none" stroke-width="0" fill="#ff30ff" stroke-linejoin="round"/>
<path d="M307.2 248.1 L310.8 246.4 L310.8 249.8Z" stroke="none" stroke-width="0" fill="#ff30ff" stroke-linejoin="round"/>
<path d="M318.2 251.2 L321.7 249.5 L321.7 252.9Z" stroke="none" stroke-width="0" fill="#ff30ff" stroke-linejoin="round"/>
<path d="M329.1 245.2 L332.7 243.5 L332.7 246.9Z" stroke="none" stroke-width="0" fill="#ff30ff" stroke-linejoin="round"/>
<path d="M340.1 249.7 L343.7 248 L343.7 251.4Z" stroke="none" stroke-width="0" fill="#ff30ff" stroke-linejoin="round"/>
<path d="M351.1 243.2 L354.6 241.5 L354.6 244.9Z" stroke="none" stroke-width="0" fill="#ff30ff" stroke-linejoin="round"/>
<path d="M362 244 L365.6 242.3 L365.6 245.7Z" stroke="none" stroke-width="0" fill="#ff30ff" stroke-linejoin="round"/>
<path d="M373 254.2 L376.6 252.5 L376.6 255.9Z" stroke="none" stroke-width="0" fill="#ff30ff" stroke-linejoin="round"/>
<path d="M384 253.7 L387.5 252 L387.5 255.4Z" stroke="none" stroke-width="0" fill="#ff30ff" stroke-linejoin="round"/>
<path d="M254.4 355.7L254.4 359.7M252.8 355.7L256 355.7M252.8 359.7L256 359.7M265.4 352.7L265.4 357.5M263.8 352.7L267 352.7M263.8 357.5L267 357.5M276.3 340L276.3 348.1M274.7 340L277.9 340M274.7 348.1L277.9 348.1M287.3 300.5L287.3 318.9M285.7 300.5L288.9 300.5M285.7 318.9L288.9 318.9M298.3 263.6L298.3 286.4M296.7 263.6L299.9 263.6M296.7 286.4L299.9 286.4M309.2 246.6L309.2 269.4M307.6 246.6L310.8 246.6M307.6 269.4L310.8 269.4M320.2 244.7L320.2 267.5M318.6 244.7L321.8 244.7M318.6 267.5L321.8 267.5M331.2 244.5L331.2 267.3M329.6 244.5L332.8 244.5M329.6 267.3L332.8 267.3M342.1 241.5L342.1 264.2M340.5 241.5L343.7 241.5M340.5 264.2L343.7 264.2M353.1 241.5L353.1 264.2M351.5 241.5L354.7 241.5M351.5 264.2L354.7 264.2M364.1 237.4L364.1 260.2M362.5 237.4L365.7 237.4M362.5 260.2L365.7 260.2M375 240.2L375 263M373.4 240.2L376.6 240.2M373.4 263L376.6 263M386 237.1L386 259.9M384.4 237.1L387.6 237.1M384.4 259.9L387.6 259.9" stroke="#70f0ff" stroke-width="0.7" fill="none"/>
<path d="M254.4 355.5 L256.6 357.7 L254.4 359.9 L252.2 357.7Z" stroke="none" stroke-width="0" fill="#70f0ff" stroke-linejoin="round"/>
<path d="M265.4 352.9 L267.6 355.1 L265.4 357.3 L263.2 355.1Z" stroke="none" stroke-width="0" fill="#70f0ff" stroke-linejoin="round"/>
<path d="M276.3 341.8 L278.5 344 L276.3 346.2 L274.1 344Z" stroke="none" stroke-width="0" fill="#70f0ff" stroke-linejoin="round"/>
<path d="M287.3 307.5 L289.5 309.7 L287.3 311.9 L285.1 309.7Z" stroke="none" stroke-width="0" fill="#70f0ff" stroke-linejoin="round"/>
<path d="M298.3 272.8 L300.5 275 L298.3 277.2 L296.1 275Z" stroke="none" stroke-width="0" fill="#70f0ff" stroke-linejoin="round"/>
<path d="M309.2 255.8 L311.4 258 L309.2 260.2 L307 258Z" stroke="none" stroke-width="0" fill="#70f0ff" stroke-linejoin="round"/>
<path d="M320.2 253.9 L322.4 256.1 L320.2 258.3 L318 256.1Z" stroke="none" stroke-width="0" fill="#70f0ff" stroke-linejoin="round"/>
<path d="M331.2 253.7 L333.4 255.9 L331.2 258.1 L329 255.9Z" stroke="none" stroke-width="0" fill="#70f0ff" stroke-linejoin="round"/>
<path d="M342.1 250.7 L344.3 252.9 L342.1 255.1 L339.9 252.9Z" stroke="none" stroke-width="0" fill="#70f0ff" stroke-linejoin="round"/>
<path d="M353.1 250.6 L355.3 252.8 L353.1 255 L350.9 252.8Z" stroke="none" stroke-width="0" fill="#70f0ff" stroke-linejoin="round"/>
<path d="M364.1 246.6 L366.3 248.8 L364.1 251 L361.9 248.8Z" stroke="none" stroke-width="0" fill="#70f0ff" stroke-linejoin="round"/>
<path d="M375 249.4 L377.2 251.6 L375 253.8 L372.8 251.6Z" stroke="none" stroke-width="0" fill="#70f0ff" stroke-linejoin="round"/>
<path d="M386 246.3 L388.2 248.5 L386 250.7 L383.8 248.5Z" stroke="none" stroke-width="0" fill="#70f0ff" stroke-linejoin="round"/>
<path d="M254.4 355.8L254.4 359.8M252.8 355.8L256 355.8M252.8 359.8L256 359.8M265.4 353.3L265.4 357.9M263.8 353.3L267 353.3M263.8 357.9L267 357.9M276.3 342.1L276.3 349.6M274.7 342.1L277.9 342.1M274.7 349.6L277.9 349.6M287.3 309.2L287.3 325.3M285.7 309.2L288.9 309.2M285.7 325.3L288.9 325.3M298.3 262.3L298.3 285.1M296.7 262.3L299.9 262.3M296.7 285.1L299.9 285.1M309.2 243.8L309.2 266.6M307.6 243.8L310.8 243.8M307.6 266.6L310.8 266.6M320.2 240.4L320.2 263.2M318.6 240.4L321.8 240.4M318.6 263.2L321.8 263.2M331.2 243.7L331.2 266.5M329.6 243.7L332.8 243.7M329.6 266.5L332.8 266.5M342.1 241.8L342.1 264.6M340.5 241.8L343.7 241.8M340.5 264.6L343.7 264.6M353.1 248L353.1 270.7M351.5 248L354.7 248M351.5 270.7L354.7 270.7M364.1 240.3L364.1 263.1M362.5 240.3L365.7 240.3M362.5 263.1L365.7 263.1M375 243.5L375 266.3M373.4 243.5L376.6 243.5M373.4 266.3L376.6 266.3M386 247L386 269.8M384.4 247L387.6 247M384.4 269.8L387.6 269.8" stroke="#0000ff" stroke-width="0.7" fill="none"/>
<path d="M254.4 359.8 L252.7 356.3 L256.1 356.3Z" stroke="none" stroke-width="0" fill="#0000ff" stroke-linejoin="round"/>
<path d="M265.4 357.6 L263.7 354.1 L267.1 354.1Z" stroke="none" stroke-width="0" fill="#0000ff" stroke-linejoin="round"/>
<path d="M276.3 347.9 L274.6 344.3 L278 344.3Z" stroke="none" stroke-width="0" fill="#0000ff" stroke-linejoin="round"/>
<path d="M287.3 319.3 L285.6 315.7 L289 315.7Z" stroke="none" stroke-width="0" fill="#0000ff" stroke-linejoin="round"/>
<path d="M298.3 275.7 L296.6 272.1 L300 272.1Z" stroke="none" stroke-width="0" fill="#0000ff" stroke-linejoin="round"/>
<path d="M309.2 257.2 L307.5 253.7 L310.9 253.7Z" stroke="none" stroke-width="0" fill="#0000ff" stroke-linejoin="round"/>
<path d="M320.2 253.8 L318.5 250.3 L321.9 250.3Z" stroke="none" stroke-width="0" fill="#0000ff" stroke-linejoin="round"/>
<path d="M331.2 257.2 L329.5 253.6 L332.9 253.6Z" stroke="none" stroke-width="0" fill="#0000ff" stroke-linejoin="round"/>
<path d="M342.1 255.2 L340.4 251.7 L343.8 251.7Z" stroke="none" stroke-width="0" fill="#0000ff" stroke-linejoin="round"/>
<path d="M353.1 261.4 L351.4 257.8 L354.8 257.8Z" stroke="none" stroke-width="0" fill="#0000ff" stroke-linejoin="round"/>
<path d="M364.1 253.7 L362.4 250.2 L365.8 250.2Z" stroke="none" stroke-width="0" fill="#0000ff" stroke-linejoin="round"/>
<path d="M375 256.9 L373.3 253.4 L376.7 253.4Z" stroke="none" stroke-width="0" fill="#0000ff" stroke-linejoin="round"/>
<path d="M386 260.5 L384.3 256.9 L387.7 256.9Z" stroke="none" stroke-width="0" fill="#0000ff" stroke-linejoin="round"/>
<path d="M254.4 355.9L254.4 359.9M252.8 355.9L256 355.9M252.8 359.9L256 359.9M265.4 353.8L265.4 358.3M263.8 353.8L267 353.8M263.8 358.3L267 358.3M276.3 343.5L276.3 350.6M274.7 343.5L277.9 343.5M274.7 350.6L277.9 350.6M287.3 313.8L287.3 328.7M285.7 313.8L288.9 313.8M285.7 328.7L288.9 328.7M298.3 265.3L298.3 288.1M296.7 265.3L299.9 265.3M296.7 288.1L299.9 288.1M309.2 250.4L309.2 273.2M307.6 250.4L310.8 250.4M307.6 273.2L310.8 273.2M320.2 249.1L320.2 271.8M318.6 249.1L321.8 249.1M318.6 271.8L321.8 271.8M331.2 246.4L331.2 269.2M329.6 246.4L332.8 246.4M329.6 269.2L332.8 269.2M342.1 240.4L342.1 263.1M340.5 240.4L343.7 240.4M340.5 263.1L343.7 263.1M353.1 239L353.1 261.8M351.5 239L354.7 239M351.5 261.8L354.7 261.8M364.1 249.3L364.1 272.1M362.5 249.3L365.7 249.3M362.5 272.1L365.7 272.1M375 242.2L375 265M373.4 242.2L376.6 242.2M373.4 265L376.6 265M386 249.3L386 272.1M384.4 249.3L387.6 249.3M384.4 272.1L387.6 272.1" stroke="#33f033" stroke-width="0.7" fill="none"/>
<path d="M254.4 355.9 L252.7 359.4 L256.1 359.4Z" stroke="none" stroke-width="0" fill="#33f033" stroke-linejoin="round"/>
<path d="M265.4 354 L263.7 357.5 L267.1 357.5Z" stroke="none" stroke-width="0" fill="#33f033" stroke-linejoin="round"/>
<path d="M276.3 345 L274.6 348.6 L278 348.6Z" stroke="none" stroke-width="0" fill="#33f033" stroke-linejoin="round"/>
<path d="M287.3 319.2 L285.6 322.8 L289 322.8Z" stroke="none" stroke-width="0" fill="#33f033" stroke-linejoin="round"/>
<path d="M298.3 274.7 L296.6 278.2 L300 278.2Z" stroke="none" stroke-width="0" fill="#33f033" stroke-linejoin="round"/>
<path d="M309.2 259.8 L307.5 263.3 L310.9 263.3Z" stroke="none" stroke-width="0" fill="#33f033" stroke-linejoin="round"/>
<path d="M320.2 258.4 L318.5 262 L321.9 262Z" stroke="none" stroke-width="0" fill="#33f033" stroke-linejoin="round"/>
<path d="M331.2 255.8 L329.5 259.3 L332.9 259.3Z" stroke="none" stroke-width="0" fill="#33f033" stroke-linejoin="round"/>
<path d="M342.1 249.7 L340.4 253.3 L343.8 253.3Z" stroke="none" stroke-width="0" fill="#33f033" stroke-linejoin="round"/>
<path d="M353.1 248.4 L351.4 251.9 L354.8 251.9Z" stroke="none" stroke-width="0" fill="#33f033" stroke-linejoin="round"/>
<path d="M364.1 258.7 L362.4 262.2 L365.8 262.2Z" stroke="none" stroke-width="0" fill="#33f033" stroke-linejoin="round"/>
<path d="M375 251.6 L373.3 255.1 L376.7 255.1Z" stroke="none" stroke-width="0" fill="#33f033" stroke-linejoin="round"/>
<path d="M386 258.6 L384.3 262.2 L387.7 262.2Z" stroke="none" stroke-width="0" fill="#33f033" stroke-linejoin="round"/>
<path d="M254.4 356L254.4 359.9M252.8 356L256 356M252.8 359.9L256 359.9M265.4 354.7L265.4 358.9M263.8 354.7L267 354.7M263.8 358.9L267 358.9M276.3 345.5L276.3 352.1M274.7 345.5L277.9 345.5M274.7 352.1L277.9 352.1M287.3 319.3L287.3 332.8M285.7 319.3L288.9 319.3M285.7 332.8L288.9 332.8M298.3 288.4L298.3 307.4M296.7 288.4L299.9 288.4M296.7 307.4L299.9 307.4M309.2 266.4L309.2 285.4M307.6 266.4L310.8 266.4M307.6 285.4L310.8 285.4M320.2 257.7L320.2 276.7M318.6 257.7L321.8 257.7M318.6 276.7L321.8 276.7M331.2 256.5L331.2 275.5M329.6 256.5L332.8 256.5M329.6 275.5L332.8 275.5M342.1 256.9L342.1 275.9M340.5 256.9L343.7 256.9M340.5 275.9L343.7 275.9M353.1 256.5L353.1 275.5M351.5 256.5L354.7 256.5M351.5 275.5L354.7 275.5M364.1 256.5L364.1 275.5M362.5 256.5L365.7 256.5M362.5 275.5L365.7 275.5M375 257.7L375 276.7M373.4 257.7L376.6 257.7M373.4 276.7L376.6 276.7M386 256.9L386 275.9M384.4 256.9L387.6 256.9M384.4 275.9L387.6 275.9" stroke="#ff1d0d" stroke-width="0.7" fill="none"/>
<circle cx="254.4" cy="357.9" r="2" fill="#ff1d0d" stroke="none"/>
<circle cx="265.4" cy="356.8" r="2" fill="#ff1d0d" stroke="none"/>
<circle cx="276.3" cy="348.8" r="2" fill="#ff1d0d" stroke="none"/>
<circle cx="287.3" cy="326" r="2" fill="#ff1d0d" stroke="none"/>
<circle cx="298.3" cy="297.9" r="2" fill="#ff1d0d" stroke="none"/>
<circle cx="309.2" cy="275.9" r="2" fill="#ff1d0d" stroke="none"/>
<circle cx="320.2" cy="267.2" r="2" fill="#ff1d0d" stroke="none"/>
<circle cx="331.2" cy="266" r="2" fill="#ff1d0d" stroke="none"/>
<circle cx="342.1" cy="266.4" r="2" fill="#ff1d0d" stroke="none"/>
<circle cx="353.1" cy="266" r="2" fill="#ff1d0d" stroke="none"/>
<circle cx="364.1" cy="266" r="2" fill="#ff1d0d" stroke="none"/>
<circle cx="375" cy="267.2" r="2" fill="#ff1d0d" stroke="none"/>
<circle cx="386" cy="266.4" r="2" fill="#ff1d0d" stroke="none"/>
<path d="M254.4 356.4L254.4 360.2M252.8 356.4L256 356.4M252.8 360.2L256 360.2M265.4 356.4L265.4 360.2M263.8 356.4L267 356.4M263.8 360.2L267 360.2M276.3 354.7L276.3 358.9M274.7 354.7L277.9 354.7M274.7 358.9L277.9 358.9M287.3 337.4L287.3 345M285.7 337.4L288.9 337.4M285.7 345L288.9 345M298.3 314.6L298.3 322.2M296.7 314.6L299.9 314.6M296.7 322.2L299.9 322.2M309.2 295.7L309.2 303.2M307.6 295.7L310.8 295.7M307.6 303.2L310.8 303.2M320.2 287.7L320.2 295.3M318.6 287.7L321.8 287.7M318.6 295.3L321.8 295.3M331.2 285.4L331.2 293M329.6 285.4L332.8 285.4M329.6 293L332.8 293M342.1 284.3L342.1 291.9M340.5 284.3L343.7 284.3M340.5 291.9L343.7 291.9M353.1 286.2L353.1 293.8M351.5 286.2L354.7 286.2M351.5 293.8L354.7 293.8M364.1 286.2L364.1 293.8M362.5 286.2L365.7 286.2M362.5 293.8L365.7 293.8M375 286.2L375 293.8M373.4 286.2L376.6 286.2M373.4 293.8L376.6 293.8M386 286.9L386 294.5M384.4 286.9L387.6 286.9M384.4 294.5L387.6 294.5" stroke="#000" stroke-width="0.7" fill="none"/>
<rect x="252.7" y="356.6" width="3.4" height="3.4" fill="#000"/>
<rect x="263.7" y="356.6" width="3.4" height="3.4" fill="#000"/>
<rect x="274.6" y="355.1" width="3.4" height="3.4" fill="#000"/>
<rect x="285.6" y="339.5" width="3.4" height="3.4" fill="#000"/>
<rect x="296.6" y="316.7" width="3.4" height="3.4" fill="#000"/>
<rect x="307.5" y="297.8" width="3.4" height="3.4" fill="#000"/>
<rect x="318.5" y="289.8" width="3.4" height="3.4" fill="#000"/>
<rect x="329.5" y="287.5" width="3.4" height="3.4" fill="#000"/>
<rect x="340.4" y="286.4" width="3.4" height="3.4" fill="#000"/>
<rect x="351.4" y="288.3" width="3.4" height="3.4" fill="#000"/>
<rect x="362.4" y="288.3" width="3.4" height="3.4" fill="#000"/>
<rect x="373.3" y="288.3" width="3.4" height="3.4" fill="#000"/>
<rect x="384.3" y="289" width="3.4" height="3.4" fill="#000"/>
<text x="320.3" y="325" font-size="9.6" text-anchor="middle" fill="#000" transform="rotate(-90 320.3 325)"><tspan font-style="italic">I</tspan> (µA)</text>
<text x="368.7" y="380" font-size="9.4" text-anchor="middle" fill="#000">voltage (mV)</text>
<text x="235.7" y="253.6" font-size="8.55" text-anchor="start" fill="#000">[Gentisic acid]</text>
<rect x="231.5" y="259.7" width="5" height="5" fill="#000"/>
<text x="243.6" y="265.4" font-size="8.9" text-anchor="start" fill="#000">0</text>
<circle cx="234" cy="272.9" r="2.8" fill="#ff1d0d" stroke="none"/>
<text x="243.6" y="276.1" font-size="8.9" text-anchor="start" fill="#000">1 nM</text>
<path d="M234 280.2 L230.7 286.7 L237.3 286.7Z" stroke="none" stroke-width="0" fill="#33f033" stroke-linejoin="round"/>
<text x="243.6" y="286.9" font-size="8.9" text-anchor="start" fill="#000">10 nM</text>
<path d="M234 297.9 L230.7 291.4 L237.3 291.4Z" stroke="none" stroke-width="0" fill="#0000ff" stroke-linejoin="round"/>
<text x="243.6" y="297.6" font-size="8.9" text-anchor="start" fill="#000">&#160;100 nM</text>
<path d="M234 301.4 L237.8 305.2 L234 309 L230.2 305.2Z" stroke="none" stroke-width="0" fill="#70f0ff" stroke-linejoin="round"/>
<text x="243.6" y="308.4" font-size="8.9" text-anchor="start" fill="#000">1 µM</text>
<path d="M230.5 315.9 L237 312.6 L237 319.2Z" stroke="none" stroke-width="0" fill="#ff30ff" stroke-linejoin="round"/>
<text x="243.6" y="319.1" font-size="8.9" text-anchor="start" fill="#000">10 µM</text>
<path d="M237.5 326.6 L231 323.3 L231 329.9Z" stroke="none" stroke-width="0" fill="#f0f020" stroke-linejoin="round"/>
<text x="243.6" y="329.8" font-size="8.9" text-anchor="start" fill="#000">100 µM</text>
<circle cx="234" cy="337.4" r="2.8" fill="#808020" stroke="none"/>
<text x="243.6" y="340.6" font-size="8.9" text-anchor="start" fill="#000">1 mM</text>
<text x="398.5" y="238" font-size="18.8" text-anchor="start" fill="#000">f</text>
<path d="M433.2 357.6L540 357.6M433.2 357.6L433.2 242.6M436.9 357.6L436.9 360.2M440.9 357.6L440.9 359.1M443.3 357.6L443.3 359.1M445 357.6L445 359.1M446.3 357.6L446.3 359.1M447.3 357.6L447.3 359.1M448.2 357.6L448.2 359.1M449 357.6L449 359.1M449.7 357.6L449.7 359.1M450.3 357.6L450.3 360.2M454.3 357.6L454.3 359.1M456.7 357.6L456.7 359.1M458.4 357.6L458.4 359.1M459.7 357.6L459.7 359.1M460.7 357.6L460.7 359.1M461.6 357.6L461.6 359.1M462.4 357.6L462.4 359.1M463.1 357.6L463.1 359.1M463.7 357.6L463.7 360.2M467.8 357.6L467.8 359.1M470.1 357.6L470.1 359.1M471.8 357.6L471.8 359.1M473.1 357.6L473.1 359.1M474.2 357.6L474.2 359.1M475.1 357.6L475.1 359.1M475.8 357.6L475.8 359.1M476.5 357.6L476.5 359.1M477.1 357.6L477.1 360.2M481.2 357.6L481.2 359.1M483.5 357.6L483.5 359.1M485.2 357.6L485.2 359.1M486.5 357.6L486.5 359.1M487.6 357.6L487.6 359.1M488.5 357.6L488.5 359.1M489.3 357.6L489.3 359.1M489.9 357.6L489.9 359.1M490.6 357.6L490.6 360.2M494.6 357.6L494.6 359.1M497 357.6L497 359.1M498.6 357.6L498.6 359.1M499.9 357.6L499.9 359.1M501 357.6L501 359.1M501.9 357.6L501.9 359.1M502.7 357.6L502.7 359.1M503.4 357.6L503.4 359.1M504 357.6L504 360.2M508 357.6L508 359.1M510.4 357.6L510.4 359.1M512.1 357.6L512.1 359.1M513.4 357.6L513.4 359.1M514.4 357.6L514.4 359.1M515.3 357.6L515.3 359.1M516.1 357.6L516.1 359.1M516.8 357.6L516.8 359.1M517.4 357.6L517.4 360.2M521.4 357.6L521.4 359.1M523.8 357.6L523.8 359.1M525.5 357.6L525.5 359.1M526.8 357.6L526.8 359.1M527.8 357.6L527.8 359.1M528.7 357.6L528.7 359.1M529.5 357.6L529.5 359.1M530.2 357.6L530.2 359.1M530.8 357.6L530.8 360.2M534.9 357.6L534.9 359.1M537.2 357.6L537.2 359.1M538.9 357.6L538.9 359.1M433.2 357.6L430.6 357.6" stroke="#222" stroke-width="0.9" fill="none"/>
<text x="428.4" y="360.8" font-size="9.2" text-anchor="end" fill="#000">0</text>
<path d="M433.2 351.5L431.7 351.5M433.2 345.5L430.6 345.5" stroke="#222" stroke-width="0.9" fill="none"/>
<text x="428.4" y="348.7" font-size="9.2" text-anchor="end" fill="#000">1</text>
<path d="M433.2 339.4L431.7 339.4M433.2 333.3L430.6 333.3" stroke="#222" stroke-width="0.9" fill="none"/>
<text x="428.4" y="336.5" font-size="9.2" text-anchor="end" fill="#000">2</text>
<path d="M433.2 327.3L431.7 327.3M433.2 321.2L430.6 321.2" stroke="#222" stroke-width="0.9" fill="none"/>
<text x="428.4" y="324.4" font-size="9.2" text-anchor="end" fill="#000">3</text>
<path d="M433.2 315.1L431.7 315.1M433.2 309L430.6 309" stroke="#222" stroke-width="0.9" fill="none"/>
<text x="428.4" y="312.2" font-size="9.2" text-anchor="end" fill="#000">4</text>
<path d="M433.2 303L431.7 303M433.2 296.9L430.6 296.9" stroke="#222" stroke-width="0.9" fill="none"/>
<text x="428.4" y="300.1" font-size="9.2" text-anchor="end" fill="#000">5</text>
<path d="M433.2 290.8L431.7 290.8M433.2 284.8L430.6 284.8" stroke="#222" stroke-width="0.9" fill="none"/>
<text x="428.4" y="288" font-size="9.2" text-anchor="end" fill="#000">6</text>
<path d="M433.2 278.7L431.7 278.7M433.2 272.6L430.6 272.6" stroke="#222" stroke-width="0.9" fill="none"/>
<text x="428.4" y="275.8" font-size="9.2" text-anchor="end" fill="#000">7</text>
<path d="M433.2 266.6L431.7 266.6M433.2 260.5L430.6 260.5" stroke="#222" stroke-width="0.9" fill="none"/>
<text x="428.4" y="263.7" font-size="9.2" text-anchor="end" fill="#000">8</text>
<path d="M433.2 254.4L431.7 254.4M433.2 248.3L430.6 248.3" stroke="#222" stroke-width="0.9" fill="none"/>
<text x="428.4" y="251.5" font-size="9.2" text-anchor="end" fill="#000">9</text>
<text x="430.7" y="370.4" font-size="9.0" text-anchor="start" fill="#000">1 x10<tspan dy="-3.6" font-size="5.4">-9</tspan></text>
<text x="477.4" y="370.4" font-size="9.0" text-anchor="middle" fill="#000">10<tspan dy="-3.6" font-size="5.4">-7</tspan></text>
<text x="503.4" y="370.4" font-size="9.0" text-anchor="middle" fill="#000">10<tspan dy="-3.6" font-size="5.4">-5</tspan></text>
<text x="530.8" y="370.4" font-size="9.0" text-anchor="middle" fill="#000">10<tspan dy="-3.6" font-size="5.4">-3</tspan></text>
<path d="M433.3 333.6 L434.9 332.5 L436.5 331.3 L438.1 330.1 L439.8 328.8 L441.4 327.4 L443 325.9 L444.6 324.3 L446.3 322.7 L447.9 321 L449.5 319.2 L451.1 317.3 L452.8 315.4 L454.4 313.5 L456 311.5 L457.6 309.4 L459.3 307.4 L460.9 305.3 L462.5 303.2 L464.2 301.1 L465.8 299 L467.4 297 L469 294.9 L470.7 292.9 L472.3 291 L473.9 289.1 L475.5 287.3 L477.2 285.5 L478.8 283.8 L480.4 282.2 L482 280.6 L483.7 279.2 L485.3 277.8 L486.9 276.5 L488.5 275.2 L490.2 274.1 L491.8 273 L493.4 272 L495 271.1 L496.7 270.2 L498.3 269.4 L499.9 268.6 L501.6 267.9 L503.2 267.3 L504.8 266.7 L506.4 266.2 L508.1 265.7 L509.7 265.2 L511.3 264.8 L512.9 264.4 L514.6 264.1 L516.2 263.7 L517.8 263.4 L519.4 263.2 L521.1 262.9 L522.7 262.7 L524.3 262.5 L525.9 262.3 L527.6 262.2 L529.2 262 L530.8 261.9" stroke="#000" stroke-width="0.9" fill="none" stroke-linejoin="round"/>
<rect x="448" y="320.1" width="4.6" height="4.6" fill="#000"/>
<rect x="461.4" y="295.2" width="4.6" height="4.6" fill="#000"/>
<rect x="474.8" y="289.7" width="4.6" height="4.6" fill="#000"/>
<rect x="488.3" y="277.6" width="4.6" height="4.6" fill="#000"/>
<rect x="501.7" y="267.3" width="4.6" height="4.6" fill="#000"/>
<rect x="515.1" y="264.2" width="4.6" height="4.6" fill="#000"/>
<rect x="528.5" y="253.3" width="4.6" height="4.6" fill="#000"/>
<text x="420.5" y="298" font-size="10.5" text-anchor="middle" fill="#000" transform="rotate(-90 420.5 298)">current fold-increase (-60 mV)</text>
<text x="492.4" y="380.6" font-size="9.5" text-anchor="middle" fill="#000">gentisic acid (M)</text>
<text x="542.2" y="238.7" font-size="18.8" text-anchor="start" fill="#000">g</text>
<path d="M576 357.8L681 357.8M576 357.8L576 236.2M576.5 357.8L576.5 360.4M580.1 357.8L580.1 359.3M582.2 357.8L582.2 359.3M583.7 357.8L583.7 359.3M584.9 357.8L584.9 359.3M585.9 357.8L585.9 359.3M586.7 357.8L586.7 359.3M587.4 357.8L587.4 359.3M588 357.8L588 359.3M588.5 357.8L588.5 360.4M592.2 357.8L592.2 359.3M594.3 357.8L594.3 359.3M595.8 357.8L595.8 359.3M597 357.8L597 359.3M597.9 357.8L597.9 359.3M598.7 357.8L598.7 359.3M599.4 357.8L599.4 359.3M600 357.8L600 359.3M600.6 357.8L600.6 360.4M604.2 357.8L604.2 359.3M606.4 357.8L606.4 359.3M607.9 357.8L607.9 359.3M609 357.8L609 359.3M610 357.8L610 359.3M610.8 357.8L610.8 359.3M611.5 357.8L611.5 359.3M612.1 357.8L612.1 359.3M612.7 357.8L612.7 360.4M616.3 357.8L616.3 359.3M618.4 357.8L618.4 359.3M619.9 357.8L619.9 359.3M621.1 357.8L621.1 359.3M622.1 357.8L622.1 359.3M622.9 357.8L622.9 359.3M623.6 357.8L623.6 359.3M624.2 357.8L624.2 359.3M624.7 357.8L624.7 360.4M628.4 357.8L628.4 359.3M630.5 357.8L630.5 359.3M632 357.8L632 359.3M633.2 357.8L633.2 359.3M634.1 357.8L634.1 359.3M634.9 357.8L634.9 359.3M635.6 357.8L635.6 359.3M636.3 357.8L636.3 359.3M636.8 357.8L636.8 360.4M640.4 357.8L640.4 359.3M642.6 357.8L642.6 359.3M644.1 357.8L644.1 359.3M645.2 357.8L645.2 359.3M646.2 357.8L646.2 359.3M647 357.8L647 359.3M647.7 357.8L647.7 359.3M648.3 357.8L648.3 359.3M648.9 357.8L648.9 360.4M652.5 357.8L652.5 359.3M654.6 357.8L654.6 359.3M656.1 357.8L656.1 359.3M657.3 357.8L657.3 359.3M658.3 357.8L658.3 359.3M659.1 357.8L659.1 359.3M659.8 357.8L659.8 359.3M660.4 357.8L660.4 359.3M661 357.8L661 360.4M664.6 357.8L664.6 359.3M666.7 357.8L666.7 359.3M668.2 357.8L668.2 359.3M669.4 357.8L669.4 359.3M670.3 357.8L670.3 359.3M671.2 357.8L671.2 359.3M671.9 357.8L671.9 359.3M672.5 357.8L672.5 359.3M673 357.8L673 360.4M676.7 357.8L676.7 359.3M678.8 357.8L678.8 359.3M680.3 357.8L680.3 359.3M576 236.8L573.4 236.8" stroke="#222" stroke-width="0.9" fill="none"/>
<text x="572.6" y="240" font-size="8.8" text-anchor="end" fill="#000">0</text>
<path d="M576 245.5L574.5 245.5M576 254.2L573.4 254.2" stroke="#222" stroke-width="0.9" fill="none"/>
<text x="572.6" y="257.4" font-size="8.8" text-anchor="end" fill="#000">-2</text>
<path d="M576 262.8L574.5 262.8M576 271.5L573.4 271.5" stroke="#222" stroke-width="0.9" fill="none"/>
<text x="572.6" y="274.7" font-size="8.8" text-anchor="end" fill="#000">-4</text>
<path d="M576 280.2L574.5 280.2M576 288.9L573.4 288.9" stroke="#222" stroke-width="0.9" fill="none"/>
<text x="572.6" y="292.1" font-size="8.8" text-anchor="end" fill="#000">-6</text>
<path d="M576 297.6L574.5 297.6M576 306.2L573.4 306.2" stroke="#222" stroke-width="0.9" fill="none"/>
<text x="572.6" y="309.4" font-size="8.8" text-anchor="end" fill="#000">-8</text>
<path d="M576 314.9L574.5 314.9M576 323.6L573.4 323.6" stroke="#222" stroke-width="0.9" fill="none"/>
<text x="572.6" y="326.8" font-size="8.8" text-anchor="end" fill="#000">-10</text>
<path d="M576 332.3L574.5 332.3M576 341L573.4 341" stroke="#222" stroke-width="0.9" fill="none"/>
<text x="572.6" y="344.2" font-size="8.8" text-anchor="end" fill="#000">-12</text>
<path d="M576 349.6L574.5 349.6M576 358.3L573.4 358.3" stroke="#222" stroke-width="0.9" fill="none"/>
<text x="572.6" y="361.5" font-size="8.8" text-anchor="end" fill="#000">-14</text>
<text x="579.9" y="370.1" font-size="9.0" text-anchor="start" fill="#000">1 x10<tspan dy="-3.6" font-size="5.4">-9</tspan></text>
<text x="624.7" y="370.1" font-size="9.0" text-anchor="middle" fill="#000">10<tspan dy="-3.6" font-size="5.4">-7</tspan></text>
<text x="648.4" y="370.1" font-size="9.0" text-anchor="middle" fill="#000">10<tspan dy="-3.6" font-size="5.4">-5</tspan></text>
<text x="673" y="370.1" font-size="9.0" text-anchor="middle" fill="#000">10<tspan dy="-3.6" font-size="5.4">-3</tspan></text>
<path d="M576 245.4 L577.6 246.8 L579.2 248.2 L580.8 249.7 L582.4 251.3 L584.1 252.9 L585.7 254.7 L587.3 256.4 L588.9 258.3 L590.5 260.2 L592.2 262.2 L593.8 264.2 L595.4 266.3 L597 268.4 L598.6 270.5 L600.2 272.7 L601.9 274.8 L603.5 277 L605.1 279.1 L606.7 281.3 L608.3 283.4 L609.9 285.4 L611.6 287.5 L613.2 289.4 L614.8 291.4 L616.4 293.2 L618 295 L619.6 296.7 L621.3 298.4 L622.9 299.9 L624.5 301.4 L626.1 302.8 L627.7 304.2 L629.4 305.4 L631 306.6 L632.6 307.8 L634.2 308.8 L635.8 309.8 L637.4 310.7 L639.1 311.5 L640.7 312.3 L642.3 313.1 L643.9 313.7 L645.5 314.4 L647.1 314.9 L648.8 315.5 L650.4 316 L652 316.4 L653.6 316.9 L655.2 317.2 L656.8 317.6 L658.5 317.9 L660.1 318.2 L661.7 318.5 L663.3 318.7 L664.9 319 L666.6 319.2 L668.2 319.4 L669.8 319.6 L671.4 319.7 L673 319.9" stroke="#000" stroke-width="0.9" fill="none" stroke-linejoin="round"/>
<path d="M576 242.5 L577.6 243.5 L579.2 244.5 L580.8 245.7 L582.4 246.9 L584.1 248.3 L585.7 249.8 L587.3 251.4 L588.9 253.1 L590.5 255 L592.2 256.9 L593.8 259 L595.4 261.2 L597 263.4 L598.6 265.7 L600.2 268.1 L601.9 270.5 L603.5 273 L605.1 275.4 L606.7 277.9 L608.3 280.3 L609.9 282.7 L611.6 285 L613.2 287.3 L614.8 289.4 L616.4 291.5 L618 293.4 L619.6 295.2 L621.3 297 L622.9 298.6 L624.5 300 L626.1 301.4 L627.7 302.7 L629.4 303.8 L631 304.9 L632.6 305.8 L634.2 306.7 L635.8 307.5 L637.4 308.2 L639.1 308.8 L640.7 309.4 L642.3 309.9 L643.9 310.4 L645.5 310.8 L647.1 311.1 L648.8 311.5 L650.4 311.8 L652 312 L653.6 312.3 L655.2 312.5 L656.8 312.6 L658.5 312.8 L660.1 312.9 L661.7 313.1 L663.3 313.2 L664.9 313.3 L666.6 313.4 L668.2 313.4 L669.8 313.5 L671.4 313.6 L673 313.6" stroke="#ff1d0d" stroke-width="0.9" fill="none" stroke-linejoin="round"/>
<path d="M600.9 259.8L600.9 288.4M599.4 259.8L602.4 259.8M599.4 288.4L602.4 288.4M613 278.5L613 306.2M611.5 278.5L614.5 278.5M611.5 306.2L614.5 306.2M625 286.7L625 317.1M623.5 286.7L626.5 286.7M623.5 317.1L626.5 317.1M637.1 294.1L637.1 325.3M635.6 294.1L638.6 294.1M635.6 325.3L638.6 325.3M649.2 298.9L649.2 331.8M647.7 298.9L650.7 298.9M647.7 331.8L650.7 331.8M661.2 302.8L661.2 335.8M659.8 302.8L662.8 302.8M659.8 335.8L662.8 335.8M673.3 311.4L673.3 344.4M671.8 311.4L674.8 311.4M671.8 344.4L674.8 344.4" stroke="#222" stroke-width="0.7" fill="none"/>
<path d="M600.3 249.4L600.3 278.9M598.8 249.4L601.8 249.4M598.8 278.9L601.8 278.9M612.4 276.7L612.4 306.2M610.9 276.7L613.9 276.7M610.9 306.2L613.9 306.2M624.4 283.2L624.4 313.6M622.9 283.2L625.9 283.2M622.9 313.6L625.9 313.6M636.5 284.5L636.5 319.3M635 284.5L638 284.5M635 319.3L638 319.3M648.6 291.9L648.6 328.4M647.1 291.9L650.1 291.9M647.1 328.4L650.1 328.4M660.7 295.4L660.7 335.3M659.2 295.4L662.2 295.4M659.2 335.3L662.2 335.3M672.7 299.7L672.7 347.5M671.2 299.7L674.2 299.7M671.2 347.5L674.2 347.5" stroke="#ff1d0d" stroke-width="0.7" fill="none"/>
<rect x="598.4" y="271.9" width="4.4" height="4.4" fill="#000"/>
<rect x="610.5" y="290.2" width="4.4" height="4.4" fill="#000"/>
<rect x="622.5" y="299.7" width="4.4" height="4.4" fill="#000"/>
<rect x="634.6" y="307.5" width="4.4" height="4.4" fill="#000"/>
<rect x="646.7" y="313.2" width="4.4" height="4.4" fill="#000"/>
<rect x="658.8" y="317.1" width="4.4" height="4.4" fill="#000"/>
<rect x="670.8" y="325.7" width="4.4" height="4.4" fill="#000"/>
<circle cx="600.6" cy="264.1" r="2.5" fill="#ff1d0d" stroke="none"/>
<circle cx="612.7" cy="291.5" r="2.5" fill="#ff1d0d" stroke="none"/>
<circle cx="624.7" cy="298.4" r="2.5" fill="#ff1d0d" stroke="none"/>
<circle cx="636.8" cy="301.9" r="2.5" fill="#ff1d0d" stroke="none"/>
<circle cx="648.9" cy="310.1" r="2.5" fill="#ff1d0d" stroke="none"/>
<circle cx="661" cy="315.4" r="2.5" fill="#ff1d0d" stroke="none"/>
<circle cx="673" cy="323.6" r="2.5" fill="#ff1d0d" stroke="none"/>
<path d="M619.7 254.7L643 254.7" stroke="#000" stroke-width="0.9" fill="none"/>
<rect x="628.8" y="251.9" width="5.6" height="5.6" fill="#000"/>
<text x="647.7" y="258.4" font-size="10.5" text-anchor="start" fill="#000"><tspan font-style="italic">E</tspan><tspan font-size="7.5">M</tspan></text>
<path d="M619.7 267.9L643 267.9" stroke="#ff1d0d" stroke-width="0.9" fill="none"/>
<circle cx="631.6" cy="267.9" r="3.4" fill="#ff1d0d" stroke="none"/>
<text x="647.7" y="271.6" font-size="10.5" text-anchor="start" fill="#ff1d0d">V<tspan font-size="7.5">0.5act</tspan></text>
<text x="555.5" y="294.7" font-size="9.6" text-anchor="middle" fill="#000" transform="rotate(-90 555.5 294.7)">GA-induced shift (mV)</text>
<text x="627" y="381" font-size="9.5" text-anchor="middle" fill="#000">gentisic acid (M)</text>
<text x="10.7" y="415.9" font-size="18.8" text-anchor="start" fill="#000">h</text>
<text x="13.6" y="473.5" font-size="17.3" text-anchor="middle" fill="#000" transform="rotate(-90 13.6 473.5)" textLength="40.8" lengthAdjust="spacingAndGlyphs">Kv7.2</text>
<text x="75.9" y="420" font-size="9.4" text-anchor="start" fill="#000" transform="translate(75.9 420) scale(1 1.16) translate(-75.9 -420)">Control</text>
<text x="198.1" y="420.2" font-size="9.4" text-anchor="start" fill="#ff1d0d" transform="translate(198.1 420.2) scale(1 1.16) translate(-198.1 -420.2)">100 µM GA</text>
<path d="M50 504.2L161 504.2M170 504.3L292 504.3" stroke="#222" stroke-width="1.0" fill="none" stroke-dasharray="1.4 1.9"/>
<path d="M48.8 505.9L116.2 505.9" stroke="#000" stroke-width="2.2" fill="none"/>
<path d="M56.6 422L56.6 505.2" stroke="#000" stroke-width="0.9" fill="none"/>
<path d="M56.6 505.2 L58.7 459.2 L60.9 441.7 L63 435 L65.1 432.5 L67.2 431.5 L69.4 431.1 L71.5 430.9 L73.6 430.9 L75.8 430.8 L77.9 430.8 L80 430.8 L82.1 430.7 L84.3 430.7 L86.4 430.7 L88.5 430.7 L90.7 430.7 L92.8 430.6 L94.9 430.6 L97 430.6 L99.2 430.6 L101.3 430.5 L103.4 430.5 L105.6 430.5 L107.7 430.5 L109.8 430.5 L111.9 430.4 L114.1 430.4 L116.2 430.4" stroke="#000" stroke-width="1.4300000000000002" fill="none" stroke-linejoin="round"/>
<path d="M56.6 505.2 L58.7 462.3 L60.9 445.2 L63 438.4 L65.1 435.7 L67.2 434.6 L69.4 434.1 L71.5 433.9 L73.6 433.9 L75.8 433.8 L77.9 433.8 L80 433.8 L82.1 433.7 L84.3 433.7 L86.4 433.7 L88.5 433.7 L90.7 433.6 L92.8 433.6 L94.9 433.6 L97 433.6 L99.2 433.6 L101.3 433.5 L103.4 433.5 L105.6 433.5 L107.7 433.5 L109.8 433.5 L111.9 433.4 L114.1 433.4 L116.2 433.4" stroke="#000" stroke-width="1.4300000000000002" fill="none" stroke-linejoin="round"/>
<path d="M56.6 505.2 L58.7 468.1 L60.9 451.5 L63 444.2 L65.1 440.9 L67.2 439.4 L69.4 438.7 L71.5 438.4 L73.6 438.3 L75.8 438.2 L77.9 438.2 L80 438.1 L82.1 438.1 L84.3 438.1 L86.4 438.1 L88.5 438.1 L90.7 438 L92.8 438 L94.9 438 L97 438 L99.2 438 L101.3 437.9 L103.4 437.9 L105.6 437.9 L107.7 437.9 L109.8 437.9 L111.9 437.8 L114.1 437.8 L116.2 437.8" stroke="#000" stroke-width="1.4300000000000002" fill="none" stroke-linejoin="round"/>
<path d="M56.6 505.2 L58.7 474.5 L60.9 459 L63 451.2 L65.1 447.2 L67.2 445.2 L69.4 444.1 L71.5 443.6 L73.6 443.3 L75.8 443.2 L77.9 443.1 L80 443 L82.1 443 L84.3 443 L86.4 443 L88.5 442.9 L90.7 442.9 L92.8 442.9 L94.9 442.9 L97 442.9 L99.2 442.8 L101.3 442.8 L103.4 442.8 L105.6 442.8 L107.7 442.8 L109.8 442.8 L111.9 442.7 L114.1 442.7 L116.2 442.7" stroke="#000" stroke-width="1.4300000000000002" fill="none" stroke-linejoin="round"/>
<path d="M56.6 505.2 L58.7 481 L60.9 467.2 L63 459.3 L65.1 454.8 L67.2 452.1 L69.4 450.6 L71.5 449.8 L73.6 449.3 L75.8 449 L77.9 448.8 L80 448.7 L82.1 448.6 L84.3 448.6 L86.4 448.6 L88.5 448.5 L90.7 448.5 L92.8 448.5 L94.9 448.5 L97 448.4 L99.2 448.4 L101.3 448.4 L103.4 448.4 L105.6 448.4 L107.7 448.4 L109.8 448.3 L111.9 448.3 L114.1 448.3 L116.2 448.3" stroke="#000" stroke-width="1.4300000000000002" fill="none" stroke-linejoin="round"/>
<path d="M56.6 505.2 L58.7 488.9 L60.9 478.2 L63 471.1 L65.1 466.4 L67.2 463.3 L69.4 461.3 L71.5 459.9 L73.6 459 L75.8 458.4 L77.9 458 L80 457.7 L82.1 457.5 L84.3 457.4 L86.4 457.3 L88.5 457.3 L90.7 457.2 L92.8 457.2 L94.9 457.2 L97 457.1 L99.2 457.1 L101.3 457.1 L103.4 457.1 L105.6 457.1 L107.7 457.1 L109.8 457 L111.9 457 L114.1 457 L116.2 457" stroke="#000" stroke-width="1.4300000000000002" fill="none" stroke-linejoin="round"/>
<path d="M56.6 505.2 L58.7 494.5 L60.9 486.8 L63 481.1 L65.1 477 L67.2 474 L69.4 471.8 L71.5 470.3 L73.6 469.1 L75.8 468.2 L77.9 467.6 L80 467.2 L82.1 466.8 L84.3 466.6 L86.4 466.4 L88.5 466.3 L90.7 466.2 L92.8 466.1 L94.9 466 L97 466 L99.2 466 L101.3 465.9 L103.4 465.9 L105.6 465.9 L107.7 465.9 L109.8 465.8 L111.9 465.8 L114.1 465.8 L116.2 465.8" stroke="#000" stroke-width="1.4300000000000002" fill="none" stroke-linejoin="round"/>
<path d="M56.6 505.2 L58.7 498.7 L60.9 493.7 L63 489.7 L65.1 486.6 L67.2 484.2 L69.4 482.3 L71.5 480.8 L73.6 479.7 L75.8 478.8 L77.9 478 L80 477.5 L82.1 477 L84.3 476.7 L86.4 476.4 L88.5 476.2 L90.7 476 L92.8 475.9 L94.9 475.8 L97 475.7 L99.2 475.7 L101.3 475.6 L103.4 475.6 L105.6 475.5 L107.7 475.5 L109.8 475.5 L111.9 475.4 L114.1 475.4 L116.2 475.4" stroke="#000" stroke-width="1.4300000000000002" fill="none" stroke-linejoin="round"/>
<path d="M56.6 505.2 L58.7 502 L60.9 499.4 L63 497.2 L65.1 495.4 L67.2 493.9 L69.4 492.7 L71.5 491.7 L73.6 490.8 L75.8 490.1 L77.9 489.6 L80 489.1 L82.1 488.7 L84.3 488.4 L86.4 488.1 L88.5 487.8 L90.7 487.7 L92.8 487.5 L94.9 487.4 L97 487.3 L99.2 487.2 L101.3 487.1 L103.4 487 L105.6 487 L107.7 486.9 L109.8 486.9 L111.9 486.9 L114.1 486.8 L116.2 486.8" stroke="#000" stroke-width="1.4300000000000002" fill="none" stroke-linejoin="round"/>
<path d="M56.6 505.2 L58.7 504.1 L60.9 503.1 L63 502.3 L65.1 501.5 L67.2 500.9 L69.4 500.4 L71.5 500 L73.6 499.6 L75.8 499.2 L77.9 498.9 L80 498.7 L82.1 498.5 L84.3 498.3 L86.4 498.2 L88.5 498 L90.7 497.9 L92.8 497.8 L94.9 497.7 L97 497.6 L99.2 497.6 L101.3 497.5 L103.4 497.5 L105.6 497.4 L107.7 497.4 L109.8 497.4 L111.9 497.3 L114.1 497.3 L116.2 497.3" stroke="#000" stroke-width="1.4300000000000002" fill="none" stroke-linejoin="round"/>
<path d="M56.6 505.2 L58.7 504.7 L60.9 504.3 L63 504 L65.1 503.7 L67.2 503.4 L69.4 503.2 L71.5 503 L73.6 502.8 L75.8 502.6 L77.9 502.5 L80 502.4 L82.1 502.3 L84.3 502.2 L86.4 502.1 L88.5 502.1 L90.7 502 L92.8 502 L94.9 501.9 L97 501.9 L99.2 501.8 L101.3 501.8 L103.4 501.8 L105.6 501.8 L107.7 501.8 L109.8 501.7 L111.9 501.7 L114.1 501.7 L116.2 501.7" stroke="#000" stroke-width="1.4300000000000002" fill="none" stroke-linejoin="round"/>
<path d="M56.6 505.2 L58.7 505 L60.9 504.8 L63 504.6 L65.1 504.5 L67.2 504.3 L69.4 504.2 L71.5 504.1 L73.6 504 L75.8 504 L77.9 503.9 L80 503.9 L82.1 503.8 L84.3 503.8 L86.4 503.7 L88.5 503.7 L90.7 503.7 L92.8 503.6 L94.9 503.6 L97 503.6 L99.2 503.6 L101.3 503.6 L103.4 503.6 L105.6 503.5 L107.7 503.5 L109.8 503.5 L111.9 503.5 L114.1 503.5 L116.2 503.5" stroke="#000" stroke-width="1.4300000000000002" fill="none" stroke-linejoin="round"/>
<path d="M56.6 505.2 L58.7 505.2 L60.9 505.2 L63 505.1 L65.1 505.1 L67.2 505.1 L69.4 505.1 L71.5 505.1 L73.6 505.1 L75.8 505.1 L77.9 505 L80 505 L82.1 505 L84.3 505 L86.4 505 L88.5 505 L90.7 505 L92.8 505 L94.9 505 L97 505 L99.2 505 L101.3 505 L103.4 505 L105.6 505 L107.7 505 L109.8 505 L111.9 505 L114.1 505 L116.2 505" stroke="#000" stroke-width="1.4300000000000002" fill="none" stroke-linejoin="round"/>
<path d="M116.2 470.3 L117.6 471.7 L119 472.5 L120.4 473 L121.9 473.4 L123.3 473.6 L124.7 473.7 L126.1 473.8 L127.5 473.8 L128.9 473.8 L130.3 473.9 L131.8 473.9 L133.2 473.9 L134.6 473.9 L136 473.9 L136 478.5 L134.6 478.5 L133.2 478.5 L131.8 478.5 L130.3 478.5 L128.9 478.5 L127.5 478.4 L126.1 478.4 L124.7 478.3 L123.3 478.2 L121.9 478 L120.4 477.7 L119 477.2 L117.6 476.4 L116.2 475.2Z" stroke="#000" stroke-width="0.6" fill="#000" stroke-linejoin="round"/>
<path d="M116.2 481.8 L117.4 479.7 L118.7 478.3 L119.9 477.3 L121.2 476.7 L122.4 476.3 L123.6 476 L124.9 475.9 L126.1 475.7 L127.3 475.7 L128.6 475.6 L129.8 475.6 L131.1 475.5 L132.3 475.5 L133.5 475.5 L134.8 475.5 L136 475.5" stroke="#000" stroke-width="1.5210000000000001" fill="none" stroke-linejoin="round"/>
<path d="M116.2 493.4 L117.4 490.7 L118.7 487.5 L119.9 484.7 L121.2 482.6 L122.4 481 L123.6 479.9 L124.9 479 L126.1 478.4 L127.3 478 L128.6 477.7 L129.8 477.5 L131.1 477.4 L132.3 477.2 L133.5 477.2 L134.8 477.1 L136 477.1" stroke="#000" stroke-width="1.638" fill="none" stroke-linejoin="round"/>
<path d="M116.2 503.5 L117.4 501.7 L118.7 498 L119.9 494 L121.2 490.4 L122.4 487.4 L123.6 485 L124.9 483.1 L126.1 481.7 L127.3 480.6 L128.6 479.8 L129.8 479.2 L131.1 478.8 L132.3 478.4 L133.5 478.2 L134.8 478 L136 477.9" stroke="#000" stroke-width="1.7550000000000001" fill="none" stroke-linejoin="round"/>
<path d="M116.2 503.5 L117.4 502 L118.7 499 L119.9 495.5 L121.2 492.3 L122.4 489.4 L123.6 487 L124.9 485.1 L126.1 483.6 L127.3 482.4 L128.6 481.4 L129.8 480.7 L131.1 480.1 L132.3 479.7 L133.5 479.4 L134.8 479.1 L136 478.9" stroke="#000" stroke-width="1.7550000000000001" fill="none" stroke-linejoin="round"/>
<path d="M116.2 430L116.2 514.9" stroke="#555" stroke-width="0.8" fill="none"/>
<path d="M136 475L136 521" stroke="#555" stroke-width="0.9" fill="none"/>
<path d="M136 506.4 L136.8 506.2 L137.6 506 L138.4 505.9 L139.2 505.8 L139.9 505.7 L140.7 505.6 L141.5 505.6 L142.3 505.5 L143.1 505.5 L143.9 505.4 L144.7 505.4 L145.4 505.4 L146.2 505.3 L147 505.3 L147.8 505.3 L148.6 505.3 L148.6 505.5 L147.8 505.6 L147 505.7 L146.2 505.8 L145.4 506 L144.7 506.2 L143.9 506.5 L143.1 506.8 L142.3 507.2 L141.5 507.7 L140.7 508.3 L139.9 509.1 L139.2 510.1 L138.4 511.3 L137.6 512.9 L136.8 514.8 L136 517.2Z" stroke="#000" stroke-width="0.6" fill="#000" stroke-linejoin="round"/>
<path d="M178.4 505.2L246.2 505.2" stroke="#ff1d0d" stroke-width="2.2" fill="none"/>
<path d="M186.6 421.7L186.6 504.7" stroke="#ff1d0d" stroke-width="0.9" fill="none"/>
<path d="M186.6 504.7 L188.7 457.6 L190.9 439.6 L193 432.8 L195.1 430.2 L197.2 429.2 L199.4 428.8 L201.5 428.6 L203.6 428.6 L205.8 428.5 L207.9 428.5 L210 428.5 L212.1 428.5 L214.3 428.4 L216.4 428.4 L218.5 428.4 L220.7 428.4 L222.8 428.3 L224.9 428.3 L227 428.3 L229.2 428.3 L231.3 428.3 L233.4 428.2 L235.6 428.2 L237.7 428.2 L239.8 428.2 L241.9 428.1 L244.1 428.1 L246.2 428.1" stroke="#ff1d0d" stroke-width="1.4300000000000002" fill="none" stroke-linejoin="round"/>
<path d="M186.6 504.7 L188.7 459.9 L190.9 442.3 L193 435.4 L195.1 432.6 L197.2 431.6 L199.4 431.1 L201.5 431 L203.6 430.9 L205.8 430.8 L207.9 430.8 L210 430.8 L212.1 430.7 L214.3 430.7 L216.4 430.7 L218.5 430.7 L220.7 430.7 L222.8 430.6 L224.9 430.6 L227 430.6 L229.2 430.6 L231.3 430.5 L233.4 430.5 L235.6 430.5 L237.7 430.5 L239.8 430.5 L241.9 430.4 L244.1 430.4 L246.2 430.4" stroke="#ff1d0d" stroke-width="1.4300000000000002" fill="none" stroke-linejoin="round"/>
<path d="M186.6 504.7 L188.7 462.5 L190.9 445.1 L193 438 L195.1 435 L197.2 433.8 L199.4 433.3 L201.5 433.1 L203.6 433 L205.8 432.9 L207.9 432.9 L210 432.9 L212.1 432.8 L214.3 432.8 L216.4 432.8 L218.5 432.8 L220.7 432.7 L222.8 432.7 L224.9 432.7 L227 432.7 L229.2 432.7 L231.3 432.6 L233.4 432.6 L235.6 432.6 L237.7 432.6 L239.8 432.6 L241.9 432.5 L244.1 432.5 L246.2 432.5" stroke="#ff1d0d" stroke-width="1.4300000000000002" fill="none" stroke-linejoin="round"/>
<path d="M186.6 504.7 L188.7 465.2 L190.9 448.1 L193 440.7 L195.1 437.5 L197.2 436.1 L199.4 435.5 L201.5 435.2 L203.6 435.1 L205.8 435 L207.9 435 L210 434.9 L212.1 434.9 L214.3 434.9 L216.4 434.9 L218.5 434.9 L220.7 434.8 L222.8 434.8 L224.9 434.8 L227 434.8 L229.2 434.8 L231.3 434.7 L233.4 434.7 L235.6 434.7 L237.7 434.7 L239.8 434.7 L241.9 434.6 L244.1 434.6 L246.2 434.6" stroke="#ff1d0d" stroke-width="1.4300000000000002" fill="none" stroke-linejoin="round"/>
<path d="M186.6 504.7 L188.7 471.8 L190.9 455.6 L193 447.6 L195.1 443.7 L197.2 441.8 L199.4 440.8 L201.5 440.3 L203.6 440.1 L205.8 440 L207.9 439.9 L210 439.8 L212.1 439.8 L214.3 439.8 L216.4 439.8 L218.5 439.7 L220.7 439.7 L222.8 439.7 L224.9 439.7 L227 439.7 L229.2 439.6 L231.3 439.6 L233.4 439.6 L235.6 439.6 L237.7 439.6 L239.8 439.6 L241.9 439.5 L244.1 439.5 L246.2 439.5" stroke="#ff1d0d" stroke-width="1.4300000000000002" fill="none" stroke-linejoin="round"/>
<path d="M186.6 504.7 L188.7 479.7 L190.9 465.5 L193 457.4 L195.1 452.7 L197.2 450.1 L199.4 448.6 L201.5 447.7 L203.6 447.2 L205.8 446.9 L207.9 446.7 L210 446.6 L212.1 446.5 L214.3 446.5 L216.4 446.5 L218.5 446.4 L220.7 446.4 L222.8 446.4 L224.9 446.4 L227 446.4 L229.2 446.3 L231.3 446.3 L233.4 446.3 L235.6 446.3 L237.7 446.3 L239.8 446.3 L241.9 446.2 L244.1 446.2 L246.2 446.2" stroke="#ff1d0d" stroke-width="1.4300000000000002" fill="none" stroke-linejoin="round"/>
<path d="M186.6 504.7 L188.7 485.4 L190.9 473.3 L193 465.6 L195.1 460.7 L197.2 457.7 L199.4 455.7 L201.5 454.5 L203.6 453.7 L205.8 453.2 L207.9 452.9 L210 452.7 L212.1 452.5 L214.3 452.5 L216.4 452.4 L218.5 452.3 L220.7 452.3 L222.8 452.3 L224.9 452.3 L227 452.2 L229.2 452.2 L231.3 452.2 L233.4 452.2 L235.6 452.2 L237.7 452.2 L239.8 452.1 L241.9 452.1 L244.1 452.1 L246.2 452.1" stroke="#ff1d0d" stroke-width="1.4300000000000002" fill="none" stroke-linejoin="round"/>
<path d="M186.6 504.7 L188.7 491.8 L190.9 482.8 L193 476.4 L195.1 471.9 L197.2 468.7 L199.4 466.5 L201.5 464.9 L203.6 463.8 L205.8 463 L207.9 462.4 L210 462 L212.1 461.7 L214.3 461.5 L216.4 461.4 L218.5 461.3 L220.7 461.2 L222.8 461.1 L224.9 461.1 L227 461.1 L229.2 461 L231.3 461 L233.4 461 L235.6 461 L237.7 461 L239.8 460.9 L241.9 460.9 L244.1 460.9 L246.2 460.9" stroke="#ff1d0d" stroke-width="1.4300000000000002" fill="none" stroke-linejoin="round"/>
<path d="M186.6 504.7 L188.7 497 L190.9 491.1 L193 486.6 L195.1 483.1 L197.2 480.4 L199.4 478.4 L201.5 476.8 L203.6 475.6 L205.8 474.6 L207.9 473.9 L210 473.4 L212.1 472.9 L214.3 472.6 L216.4 472.3 L218.5 472.1 L220.7 472 L222.8 471.9 L224.9 471.8 L227 471.7 L229.2 471.6 L231.3 471.6 L233.4 471.5 L235.6 471.5 L237.7 471.5 L239.8 471.5 L241.9 471.4 L244.1 471.4 L246.2 471.4" stroke="#ff1d0d" stroke-width="1.4300000000000002" fill="none" stroke-linejoin="round"/>
<path d="M186.6 504.7 L188.7 500.6 L190.9 497.3 L193 494.5 L195.1 492.3 L197.2 490.5 L199.4 489 L201.5 487.8 L203.6 486.8 L205.8 486 L207.9 485.3 L210 484.8 L212.1 484.3 L214.3 484 L216.4 483.7 L218.5 483.5 L220.7 483.3 L222.8 483.1 L224.9 483 L227 482.8 L229.2 482.8 L231.3 482.7 L233.4 482.6 L235.6 482.6 L237.7 482.5 L239.8 482.5 L241.9 482.4 L244.1 482.4 L246.2 482.4" stroke="#ff1d0d" stroke-width="1.4300000000000002" fill="none" stroke-linejoin="round"/>
<path d="M186.6 504.7 L188.7 503.5 L190.9 502.5 L193 501.6 L195.1 500.9 L197.2 500.3 L199.4 499.7 L201.5 499.2 L203.6 498.8 L205.8 498.5 L207.9 498.2 L210 497.9 L212.1 497.7 L214.3 497.5 L216.4 497.4 L218.5 497.2 L220.7 497.1 L222.8 497 L224.9 496.9 L227 496.9 L229.2 496.8 L231.3 496.7 L233.4 496.7 L235.6 496.6 L237.7 496.6 L239.8 496.6 L241.9 496.5 L244.1 496.5 L246.2 496.5" stroke="#ff1d0d" stroke-width="1.4300000000000002" fill="none" stroke-linejoin="round"/>
<path d="M186.6 504.7 L188.7 504.4 L190.9 504.2 L193 504 L195.1 503.8 L197.2 503.6 L199.4 503.5 L201.5 503.4 L203.6 503.3 L205.8 503.2 L207.9 503.1 L210 503 L212.1 503 L214.3 502.9 L216.4 502.9 L218.5 502.8 L220.7 502.8 L222.8 502.8 L224.9 502.7 L227 502.7 L229.2 502.7 L231.3 502.7 L233.4 502.7 L235.6 502.6 L237.7 502.6 L239.8 502.6 L241.9 502.6 L244.1 502.6 L246.2 502.6" stroke="#ff1d0d" stroke-width="1.4300000000000002" fill="none" stroke-linejoin="round"/>
<path d="M186.6 504.7 L188.7 504.6 L190.9 504.6 L193 504.6 L195.1 504.5 L197.2 504.5 L199.4 504.5 L201.5 504.5 L203.6 504.4 L205.8 504.4 L207.9 504.4 L210 504.4 L212.1 504.4 L214.3 504.4 L216.4 504.4 L218.5 504.3 L220.7 504.3 L222.8 504.3 L224.9 504.3 L227 504.3 L229.2 504.3 L231.3 504.3 L233.4 504.3 L235.6 504.3 L237.7 504.3 L239.8 504.3 L241.9 504.3 L244.1 504.3 L246.2 504.3" stroke="#ff1d0d" stroke-width="1.4300000000000002" fill="none" stroke-linejoin="round"/>
<path d="M246.2 465.5 L247.6 466.8 L249 467.6 L250.4 468.1 L251.9 468.5 L253.3 468.7 L254.7 468.8 L256.1 468.9 L257.5 468.9 L258.9 468.9 L260.3 469 L261.8 469 L263.2 469 L264.6 469 L266 469 L266 473.5 L264.6 473.5 L263.2 473.5 L261.8 473.5 L260.3 473.5 L258.9 473.5 L257.5 473.4 L256.1 473.4 L254.7 473.3 L253.3 473.2 L251.9 473 L250.4 472.8 L249 472.3 L247.6 471.6 L246.2 470.5Z" stroke="#ff1d0d" stroke-width="0.6" fill="#ff1d0d" stroke-linejoin="round"/>
<path d="M246.2 477 L247.4 474.8 L248.7 473.3 L249.9 472.4 L251.1 471.7 L252.4 471.3 L253.6 471 L254.9 470.9 L256.1 470.7 L257.3 470.7 L258.6 470.6 L259.8 470.6 L261.1 470.5 L262.3 470.5 L263.5 470.5 L264.8 470.5 L266 470.5" stroke="#ff1d0d" stroke-width="1.5210000000000001" fill="none" stroke-linejoin="round"/>
<path d="M246.2 489 L247.4 486.2 L248.7 482.9 L249.9 480 L251.1 477.8 L252.4 476.2 L253.6 475 L254.9 474.1 L256.1 473.5 L257.3 473 L258.6 472.7 L259.8 472.5 L261.1 472.4 L262.3 472.3 L263.5 472.2 L264.8 472.1 L266 472.1" stroke="#ff1d0d" stroke-width="1.638" fill="none" stroke-linejoin="round"/>
<path d="M246.2 503 L247.4 500.8 L248.7 496.5 L249.9 491.8 L251.1 487.6 L252.4 484.1 L253.6 481.3 L254.9 479.1 L256.1 477.4 L257.3 476.2 L258.6 475.2 L259.8 474.5 L261.1 474 L262.3 473.6 L263.5 473.3 L264.8 473.1 L266 472.9" stroke="#ff1d0d" stroke-width="1.7550000000000001" fill="none" stroke-linejoin="round"/>
<path d="M246.2 503 L247.4 501.3 L248.7 497.7 L249.9 493.6 L251.1 489.8 L252.4 486.4 L253.6 483.6 L254.9 481.3 L256.1 479.5 L257.3 478.1 L258.6 477 L259.8 476.1 L261.1 475.5 L262.3 474.9 L263.5 474.6 L264.8 474.3 L266 474" stroke="#ff1d0d" stroke-width="1.7550000000000001" fill="none" stroke-linejoin="round"/>
<path d="M246.2 428L246.2 514" stroke="#ff7060" stroke-width="0.8" fill="none"/>
<path d="M266 470L266 520.1" stroke="#ff7060" stroke-width="0.9" fill="none"/>
<path d="M266 505.9 L266.8 505.7 L267.6 505.5 L268.4 505.4 L269.1 505.3 L269.9 505.2 L270.7 505.1 L271.5 505.1 L272.3 505 L273.1 505 L273.9 504.9 L274.7 504.9 L275.5 504.9 L276.2 504.8 L277 504.8 L277.8 504.8 L278.6 504.8 L278.6 505 L277.8 505.1 L277 505.2 L276.2 505.3 L275.5 505.4 L274.7 505.6 L273.9 505.9 L273.1 506.2 L272.3 506.5 L271.5 507 L270.7 507.6 L269.9 508.3 L269.1 509.2 L268.4 510.3 L267.6 511.7 L266.8 513.5 L266 515.7Z" stroke="#ff1d0d" stroke-width="0.6" fill="#ff1d0d" stroke-linejoin="round"/>
<rect x="120.5" y="396.2" width="40.4" height="67.8" stroke="#88d2f4" stroke-width="1.5" fill="none"/>
<path d="M127.7 458.4L154.8 458.4" stroke="#333" stroke-width="0.8" fill="none" stroke-dasharray="1.2 1.6"/>
<path d="M124.8 406 L125.8 407.1 L126.9 408 L127.9 408.8 L128.9 409.4 L130 409.9 L131 410.3 L132.1 410.6 L133.1 410.9 L134.1 411.1 L135.2 411.2 L136.2 411.4 L137.2 411.5 L138.3 411.6 L139.3 411.7 L140.3 411.7 L141.4 411.8 L142.4 411.8 L143.5 411.9 L144.5 411.9 L145.5 411.9 L146.6 411.9 L147.6 411.9 L148.6 411.9 L149.7 412 L150.7 412 L151.8 412 L152.8 412 L153.8 412 L154.9 412 L155.9 412 L155.9 418.8 L154.9 418.8 L153.8 418.8 L152.8 418.8 L151.8 418.7 L150.7 418.7 L149.7 418.7 L148.6 418.7 L147.6 418.7 L146.6 418.7 L145.5 418.6 L144.5 418.6 L143.5 418.6 L142.4 418.5 L141.4 418.5 L140.3 418.4 L139.3 418.3 L138.3 418.2 L137.2 418.1 L136.2 418 L135.2 417.9 L134.1 417.7 L133.1 417.5 L132.1 417.2 L131 416.9 L130 416.6 L128.9 416.1 L127.9 415.6 L126.9 415 L125.8 414.3 L124.8 413.5Z" stroke="#000" stroke-width="0.6" fill="#000" stroke-linejoin="round"/>
<path d="M124.8 413.9 L126.2 414 L127.6 414.1 L129 414.1 L130.5 414.2 L131.9 414.3 L133.3 414.3 L134.7 414.3 L136.1 414.4 L137.5 414.4 L138.9 414.4 L140.3 414.4 L141.8 414.4 L143.2 414.4 L144.6 414.4 L146 414.5 L147.4 414.5 L148.8 414.5 L150.2 414.5 L151.7 414.5 L153.1 414.5 L154.5 414.5 L155.9 414.5" stroke="#000" stroke-width="1.8199999999999998" fill="none" stroke-linejoin="round"/>
<path d="M124.8 424.3 L126.2 422.7 L127.6 421.4 L129 420.3 L130.5 419.5 L131.9 418.9 L133.3 418.4 L134.7 418 L136.1 417.7 L137.5 417.4 L138.9 417.2 L140.3 417.1 L141.8 417 L143.2 416.9 L144.6 416.8 L146 416.7 L147.4 416.7 L148.8 416.6 L150.2 416.6 L151.7 416.6 L153.1 416.6 L154.5 416.6 L155.9 416.5" stroke="#000" stroke-width="1.8199999999999998" fill="none" stroke-linejoin="round"/>
<path d="M124.8 444.4 L126.2 439.4 L127.6 435.4 L129 432.1 L130.5 429.4 L131.9 427.2 L133.3 425.4 L134.7 423.9 L136.1 422.7 L137.5 421.7 L138.9 420.9 L140.3 420.2 L141.8 419.7 L143.2 419.3 L144.6 418.9 L146 418.6 L147.4 418.4 L148.8 418.2 L150.2 418 L151.7 417.9 L153.1 417.8 L154.5 417.7 L155.9 417.6" stroke="#000" stroke-width="1.9500000000000002" fill="none" stroke-linejoin="round"/>
<path d="M124.8 458.9 L126.2 456.4 L127.6 451.2 L129 445.4 L130.5 439.9 L131.9 435.2 L133.3 431.3 L134.7 428.2 L136.1 425.7 L137.5 423.7 L138.9 422.3 L140.3 421.1 L141.8 420.2 L143.2 419.6 L144.6 419.1 L146 418.7 L147.4 418.4 L148.8 418.2 L150.2 418 L151.7 417.9 L153.1 417.8 L154.5 417.7 L155.9 417.7" stroke="#000" stroke-width="2.08" fill="none" stroke-linejoin="round"/>
<path d="M124.8 458.9 L126.2 456.8 L127.6 452.3 L129 447.2 L130.5 442.1 L131.9 437.7 L133.3 433.8 L134.7 430.6 L136.1 428 L137.5 425.9 L138.9 424.3 L140.3 423 L141.8 421.9 L143.2 421.1 L144.6 420.5 L146 420 L147.4 419.6 L148.8 419.3 L150.2 419.1 L151.7 418.9 L153.1 418.8 L154.5 418.7 L155.9 418.6" stroke="#000" stroke-width="2.08" fill="none" stroke-linejoin="round"/>
<path d="M124.8 458.9 L126.2 457.1 L127.6 453.3 L129 448.7 L130.5 444 L131.9 439.8 L133.3 436.1 L134.7 432.9 L136.1 430.2 L137.5 428 L138.9 426.2 L140.3 424.8 L141.8 423.6 L143.2 422.6 L144.6 421.9 L146 421.3 L147.4 420.8 L148.8 420.4 L150.2 420.1 L151.7 419.9 L153.1 419.7 L154.5 419.6 L155.9 419.4" stroke="#000" stroke-width="2.08" fill="none" stroke-linejoin="round"/>
<path d="M124.8 406L124.8 459.7" stroke="#666" stroke-width="1.0" fill="none"/>
<path d="M155.9 413L155.9 420" stroke="#000" stroke-width="1.2" fill="none"/>
<rect x="250.7" y="396.2" width="40.5" height="67.8" stroke="#88d2f4" stroke-width="1.5" fill="none"/>
<path d="M257 458.4L286 458.4" stroke="#333" stroke-width="0.8" fill="none" stroke-dasharray="1.2 1.6"/>
<path d="M255.5 400.3 L256.5 401.1 L257.6 401.7 L258.6 402.3 L259.7 402.7 L260.7 403 L261.8 403.3 L262.8 403.5 L263.8 403.7 L264.9 403.9 L265.9 404 L267 404.1 L268 404.2 L269.1 404.2 L270.1 404.3 L271.1 404.3 L272.2 404.4 L273.2 404.4 L274.3 404.4 L275.3 404.4 L276.4 404.4 L277.4 404.4 L278.5 404.5 L279.5 404.5 L280.5 404.5 L281.6 404.5 L282.6 404.5 L283.7 404.5 L284.7 404.5 L285.8 404.5 L286.8 404.5 L286.8 412 L285.8 412 L284.7 412 L283.7 411.9 L282.6 411.9 L281.6 411.9 L280.5 411.9 L279.5 411.9 L278.5 411.9 L277.4 411.8 L276.4 411.8 L275.3 411.8 L274.3 411.7 L273.2 411.7 L272.2 411.6 L271.1 411.6 L270.1 411.5 L269.1 411.4 L268 411.3 L267 411.1 L265.9 410.9 L264.9 410.7 L263.8 410.5 L262.8 410.2 L261.8 409.9 L260.7 409.5 L259.7 409 L258.6 408.4 L257.6 407.8 L256.5 407 L255.5 406Z" stroke="#ff1d0d" stroke-width="0.6" fill="#ff1d0d" stroke-linejoin="round"/>
<path d="M255.5 404.2 L256.9 404.8 L258.3 405.3 L259.8 405.8 L261.2 406.1 L262.6 406.4 L264 406.7 L265.5 406.9 L266.9 407.1 L268.3 407.2 L269.7 407.4 L271.1 407.5 L272.6 407.6 L274 407.6 L275.4 407.7 L276.8 407.7 L278.3 407.8 L279.7 407.8 L281.1 407.8 L282.5 407.9 L284 407.9 L285.4 407.9 L286.8 407.9" stroke="#ff1d0d" stroke-width="1.8199999999999998" fill="none" stroke-linejoin="round"/>
<path d="M255.5 416 L256.9 414.7 L258.3 413.7 L259.8 412.9 L261.2 412.3 L262.6 411.8 L264 411.4 L265.5 411.1 L266.9 410.9 L268.3 410.7 L269.7 410.6 L271.1 410.4 L272.6 410.3 L274 410.3 L275.4 410.2 L276.8 410.2 L278.3 410.1 L279.7 410.1 L281.1 410.1 L282.5 410.1 L284 410.1 L285.4 410 L286.8 410" stroke="#ff1d0d" stroke-width="1.9500000000000002" fill="none" stroke-linejoin="round"/>
<path d="M255.5 438.3 L256.9 433.3 L258.3 429.2 L259.8 425.8 L261.2 423.1 L262.6 420.9 L264 419.1 L265.5 417.6 L266.9 416.4 L268.3 415.4 L269.7 414.6 L271.1 413.9 L272.6 413.4 L274 412.9 L275.4 412.6 L276.8 412.3 L278.3 412.1 L279.7 411.9 L281.1 411.7 L282.5 411.6 L284 411.5 L285.4 411.4 L286.8 411.3" stroke="#ff1d0d" stroke-width="1.9500000000000002" fill="none" stroke-linejoin="round"/>
<path d="M255.5 459.3 L256.9 456.3 L258.3 450.1 L259.8 443.2 L261.2 436.8 L262.6 431.2 L264 426.6 L265.5 422.9 L266.9 420 L268.3 417.7 L269.7 416 L271.1 414.7 L272.6 413.7 L274 412.9 L275.4 412.3 L276.8 411.9 L278.3 411.5 L279.7 411.3 L281.1 411.1 L282.5 410.9 L284 410.8 L285.4 410.7 L286.8 410.7" stroke="#ff1d0d" stroke-width="2.21" fill="none" stroke-linejoin="round"/>
<path d="M255.5 459.3 L256.9 456.8 L258.3 451.5 L259.8 445.4 L261.2 439.4 L262.6 434.1 L264 429.6 L265.5 425.9 L266.9 422.8 L268.3 420.4 L269.7 418.4 L271.1 416.9 L272.6 415.7 L274 414.8 L275.4 414 L276.8 413.5 L278.3 413 L279.7 412.7 L281.1 412.4 L282.5 412.2 L284 412 L285.4 411.9 L286.8 411.8" stroke="#ff1d0d" stroke-width="2.21" fill="none" stroke-linejoin="round"/>
<path d="M255.5 459.3 L256.9 457.2 L258.3 452.6 L259.8 447.2 L261.2 441.7 L262.6 436.7 L264 432.3 L265.5 428.6 L266.9 425.5 L268.3 422.9 L269.7 420.8 L271.1 419.1 L272.6 417.8 L274 416.7 L275.4 415.8 L276.8 415.1 L278.3 414.6 L279.7 414.1 L281.1 413.8 L282.5 413.5 L284 413.3 L285.4 413.1 L286.8 413" stroke="#ff1d0d" stroke-width="2.21" fill="none" stroke-linejoin="round"/>
<path d="M255.5 400.3L255.5 460.2" stroke="#ff1d0d" stroke-width="1.1" fill="none"/>
<path d="M286.8 406.5L286.8 413.5" stroke="#ff1d0d" stroke-width="1.2" fill="none"/>
<path d="M43.2 477.2L43.2 510.5M43.2 510.5L63.7 510.5" stroke="#8a8a8a" stroke-width="1.0" fill="none"/>
<text x="39.8" y="493.7" font-size="10" text-anchor="middle" fill="#000" transform="rotate(-90 39.8 493.7)">2 µA</text>
<text x="46.8" y="520" font-size="10" text-anchor="start" fill="#000">1 s</text>
<text x="13.6" y="622.2" font-size="17.3" text-anchor="middle" fill="#000" transform="rotate(-90 13.6 622.2)" textLength="40.7" lengthAdjust="spacingAndGlyphs">Kv7.2</text>
<text x="75.9" y="567.2" font-size="9.4" text-anchor="start" fill="#000" transform="translate(75.9 567.2) scale(1 1.16) translate(-75.9 -567.2)">Control</text>
<text x="198.2" y="567.5" font-size="9.4" text-anchor="start" fill="#ff1d0d" transform="translate(198.2 567.5) scale(1 1.16) translate(-198.2 -567.5)">100 µM PA</text>
<path d="M50 654.3L161 654.3M165 654.3L292 654.3" stroke="#222" stroke-width="1.0" fill="none" stroke-dasharray="1.4 1.9"/>
<path d="M47.9 655.8L115.7 655.8" stroke="#000" stroke-width="2.2" fill="none"/>
<path d="M55.8 571.7L55.8 655.5" stroke="#000" stroke-width="0.9" fill="none"/>
<path d="M55.8 655.5 L57.9 608.5 L60.1 590.8 L62.2 584 L64.4 581.5 L66.5 580.5 L68.6 580.1 L70.8 579.9 L72.9 579.9 L75.1 579.8 L77.2 579.8 L79.3 579.8 L81.5 579.7 L83.6 579.7 L85.8 579.7 L87.9 579.7 L90 579.7 L92.2 579.6 L94.3 579.6 L96.4 579.6 L98.6 579.6 L100.7 579.6 L102.9 579.5 L105 579.5 L107.1 579.5 L109.3 579.5 L111.4 579.4 L113.6 579.4 L115.7 579.4" stroke="#000" stroke-width="1.4300000000000002" fill="none" stroke-linejoin="round"/>
<path d="M55.8 655.5 L57.9 611.2 L60.1 593.8 L62.2 586.9 L64.4 584.2 L66.5 583.2 L68.6 582.7 L70.8 582.5 L72.9 582.5 L75.1 582.4 L77.2 582.4 L79.3 582.4 L81.5 582.3 L83.6 582.3 L85.8 582.3 L87.9 582.3 L90 582.3 L92.2 582.2 L94.3 582.2 L96.4 582.2 L98.6 582.2 L100.7 582.1 L102.9 582.1 L105 582.1 L107.1 582.1 L109.3 582.1 L111.4 582 L113.6 582 L115.7 582" stroke="#000" stroke-width="1.4300000000000002" fill="none" stroke-linejoin="round"/>
<path d="M55.8 655.5 L57.9 614.1 L60.1 596.9 L62.2 589.8 L64.4 586.9 L66.5 585.6 L68.6 585.1 L70.8 584.9 L72.9 584.8 L75.1 584.7 L77.2 584.7 L79.3 584.7 L81.5 584.6 L83.6 584.6 L85.8 584.6 L87.9 584.6 L90 584.5 L92.2 584.5 L94.3 584.5 L96.4 584.5 L98.6 584.5 L100.7 584.4 L102.9 584.4 L105 584.4 L107.1 584.4 L109.3 584.4 L111.4 584.3 L113.6 584.3 L115.7 584.3" stroke="#000" stroke-width="1.4300000000000002" fill="none" stroke-linejoin="round"/>
<path d="M55.8 655.5 L57.9 618.2 L60.1 601.5 L62.2 594 L64.4 590.6 L66.5 589.1 L68.6 588.4 L70.8 588.1 L72.9 587.9 L75.1 587.8 L77.2 587.8 L79.3 587.7 L81.5 587.7 L83.6 587.7 L85.8 587.7 L87.9 587.7 L90 587.6 L92.2 587.6 L94.3 587.6 L96.4 587.6 L98.6 587.6 L100.7 587.5 L102.9 587.5 L105 587.5 L107.1 587.5 L109.3 587.5 L111.4 587.4 L113.6 587.4 L115.7 587.4" stroke="#000" stroke-width="1.4300000000000002" fill="none" stroke-linejoin="round"/>
<path d="M55.8 655.5 L57.9 625.2 L60.1 609.6 L62.2 601.6 L64.4 597.5 L66.5 595.3 L68.6 594.2 L70.8 593.7 L72.9 593.4 L75.1 593.2 L77.2 593.1 L79.3 593 L81.5 593 L83.6 593 L85.8 593 L87.9 592.9 L90 592.9 L92.2 592.9 L94.3 592.9 L96.4 592.9 L98.6 592.8 L100.7 592.8 L102.9 592.8 L105 592.8 L107.1 592.8 L109.3 592.8 L111.4 592.7 L113.6 592.7 L115.7 592.7" stroke="#000" stroke-width="1.4300000000000002" fill="none" stroke-linejoin="round"/>
<path d="M55.8 655.5 L57.9 631.9 L60.1 618.1 L62.2 610.1 L64.4 605.5 L66.5 602.7 L68.6 601.1 L70.8 600.2 L72.9 599.7 L75.1 599.3 L77.2 599.1 L79.3 599 L81.5 598.9 L83.6 598.9 L85.8 598.9 L87.9 598.8 L90 598.8 L92.2 598.8 L94.3 598.8 L96.4 598.7 L98.6 598.7 L100.7 598.7 L102.9 598.7 L105 598.7 L107.1 598.7 L109.3 598.6 L111.4 598.6 L113.6 598.6 L115.7 598.6" stroke="#000" stroke-width="1.4300000000000002" fill="none" stroke-linejoin="round"/>
<path d="M55.8 655.5 L57.9 638.2 L60.1 627 L62.2 619.6 L64.4 614.8 L66.5 611.7 L68.6 609.7 L70.8 608.4 L72.9 607.5 L75.1 606.9 L77.2 606.5 L79.3 606.3 L81.5 606.1 L83.6 606 L85.8 605.9 L87.9 605.9 L90 605.8 L92.2 605.8 L94.3 605.8 L96.4 605.7 L98.6 605.7 L100.7 605.7 L102.9 605.7 L105 605.7 L107.1 605.7 L109.3 605.6 L111.4 605.6 L113.6 605.6 L115.7 605.6" stroke="#000" stroke-width="1.4300000000000002" fill="none" stroke-linejoin="round"/>
<path d="M55.8 655.5 L57.9 644.3 L60.1 636.3 L62.2 630.4 L64.4 626.2 L66.5 623.1 L68.6 620.9 L70.8 619.3 L72.9 618.1 L75.1 617.3 L77.2 616.7 L79.3 616.2 L81.5 615.9 L83.6 615.7 L85.8 615.5 L87.9 615.4 L90 615.3 L92.2 615.2 L94.3 615.1 L96.4 615.1 L98.6 615 L100.7 615 L102.9 615 L105 615 L107.1 615 L109.3 614.9 L111.4 614.9 L113.6 614.9 L115.7 614.9" stroke="#000" stroke-width="1.4300000000000002" fill="none" stroke-linejoin="round"/>
<path d="M55.8 655.5 L57.9 649 L60.1 643.9 L62.2 639.9 L64.4 636.7 L66.5 634.3 L68.6 632.4 L70.8 630.9 L72.9 629.7 L75.1 628.8 L77.2 628.1 L79.3 627.5 L81.5 627.1 L83.6 626.7 L85.8 626.4 L87.9 626.2 L90 626.1 L92.2 625.9 L94.3 625.8 L96.4 625.7 L98.6 625.7 L100.7 625.6 L102.9 625.6 L105 625.5 L107.1 625.5 L109.3 625.5 L111.4 625.4 L113.6 625.4 L115.7 625.4" stroke="#000" stroke-width="1.4300000000000002" fill="none" stroke-linejoin="round"/>
<path d="M55.8 655.5 L57.9 652.3 L60.1 649.6 L62.2 647.4 L64.4 645.5 L66.5 644 L68.6 642.8 L70.8 641.7 L72.9 640.9 L75.1 640.2 L77.2 639.6 L79.3 639.1 L81.5 638.7 L83.6 638.4 L85.8 638.1 L87.9 637.9 L90 637.7 L92.2 637.5 L94.3 637.4 L96.4 637.3 L98.6 637.2 L100.7 637.1 L102.9 637 L105 637 L107.1 636.9 L109.3 636.9 L111.4 636.9 L113.6 636.8 L115.7 636.8" stroke="#000" stroke-width="1.4300000000000002" fill="none" stroke-linejoin="round"/>
<path d="M55.8 655.5 L57.9 654.5 L60.1 653.7 L62.2 653 L64.4 652.4 L66.5 651.9 L68.6 651.4 L70.8 651 L72.9 650.7 L75.1 650.4 L77.2 650.2 L79.3 649.9 L81.5 649.8 L83.6 649.6 L85.8 649.5 L87.9 649.3 L90 649.2 L92.2 649.1 L94.3 649.1 L96.4 649 L98.6 649 L100.7 648.9 L102.9 648.9 L105 648.8 L107.1 648.8 L109.3 648.8 L111.4 648.7 L113.6 648.7 L115.7 648.7" stroke="#000" stroke-width="1.4300000000000002" fill="none" stroke-linejoin="round"/>
<path d="M55.8 655.5 L57.9 655.2 L60.1 655 L62.2 654.8 L64.4 654.6 L66.5 654.5 L68.6 654.4 L70.8 654.2 L72.9 654.1 L75.1 654.1 L77.2 654 L79.3 653.9 L81.5 653.9 L83.6 653.8 L85.8 653.8 L87.9 653.7 L90 653.7 L92.2 653.7 L94.3 653.6 L96.4 653.6 L98.6 653.6 L100.7 653.6 L102.9 653.6 L105 653.5 L107.1 653.5 L109.3 653.5 L111.4 653.5 L113.6 653.5 L115.7 653.5" stroke="#000" stroke-width="1.4300000000000002" fill="none" stroke-linejoin="round"/>
<path d="M55.8 655.5 L57.9 655.5 L60.1 655.4 L62.2 655.4 L64.4 655.4 L66.5 655.4 L68.6 655.3 L70.8 655.3 L72.9 655.3 L75.1 655.3 L77.2 655.3 L79.3 655.3 L81.5 655.3 L83.6 655.2 L85.8 655.2 L87.9 655.2 L90 655.2 L92.2 655.2 L94.3 655.2 L96.4 655.2 L98.6 655.2 L100.7 655.2 L102.9 655.2 L105 655.2 L107.1 655.2 L109.3 655.2 L111.4 655.2 L113.6 655.2 L115.7 655.2" stroke="#000" stroke-width="1.4300000000000002" fill="none" stroke-linejoin="round"/>
<path d="M115.7 619.5 L117.1 620.8 L118.5 621.6 L119.9 622.1 L121.4 622.5 L122.8 622.7 L124.2 622.8 L125.6 622.9 L127 622.9 L128.4 622.9 L129.8 623 L131.3 623 L132.7 623 L134.1 623 L135.5 623 L135.5 627.5 L134.1 627.5 L132.7 627.5 L131.3 627.5 L129.8 627.5 L128.4 627.5 L127 627.4 L125.6 627.4 L124.2 627.3 L122.8 627.2 L121.4 627 L119.9 626.8 L118.5 626.3 L117.1 625.6 L115.7 624.5Z" stroke="#000" stroke-width="0.6" fill="#000" stroke-linejoin="round"/>
<path d="M115.7 631 L116.9 628.8 L118.2 627.3 L119.4 626.4 L120.7 625.7 L121.9 625.3 L123.1 625 L124.4 624.9 L125.6 624.7 L126.8 624.7 L128.1 624.6 L129.3 624.6 L130.6 624.5 L131.8 624.5 L133 624.5 L134.3 624.5 L135.5 624.5" stroke="#000" stroke-width="1.5210000000000001" fill="none" stroke-linejoin="round"/>
<path d="M115.7 643 L116.9 640.2 L118.2 636.9 L119.4 634 L120.7 631.8 L121.9 630.2 L123.1 629 L124.4 628.1 L125.6 627.5 L126.8 627 L128.1 626.7 L129.3 626.5 L130.6 626.4 L131.8 626.3 L133 626.2 L134.3 626.1 L135.5 626.1" stroke="#000" stroke-width="1.638" fill="none" stroke-linejoin="round"/>
<path d="M115.7 654 L116.9 652.1 L118.2 648.1 L119.4 643.9 L120.7 640.1 L121.9 637 L123.1 634.4 L124.4 632.4 L125.6 630.9 L126.8 629.8 L128.1 628.9 L129.3 628.3 L130.6 627.8 L131.8 627.5 L133 627.2 L134.3 627 L135.5 626.9" stroke="#000" stroke-width="1.7550000000000001" fill="none" stroke-linejoin="round"/>
<path d="M115.7 654 L116.9 652.5 L118.2 649.2 L119.4 645.6 L120.7 642.1 L121.9 639.1 L123.1 636.6 L124.4 634.5 L125.6 632.9 L126.8 631.6 L128.1 630.6 L129.3 629.8 L130.6 629.2 L131.8 628.8 L133 628.4 L134.3 628.2 L135.5 628" stroke="#000" stroke-width="1.7550000000000001" fill="none" stroke-linejoin="round"/>
<path d="M115.7 579L115.7 664" stroke="#555" stroke-width="0.8" fill="none"/>
<path d="M135.5 623L135.5 670.1" stroke="#555" stroke-width="0.9" fill="none"/>
<path d="M135.5 656.7 L136.3 656.5 L137 656.4 L137.8 656.2 L138.6 656.1 L139.3 656 L140.1 655.9 L140.8 655.9 L141.6 655.8 L142.4 655.8 L143.1 655.7 L143.9 655.7 L144.6 655.7 L145.4 655.6 L146.2 655.6 L146.9 655.6 L147.7 655.6 L147.7 655.9 L146.9 656 L146.2 656.1 L145.4 656.2 L144.6 656.4 L143.9 656.6 L143.1 656.9 L142.4 657.2 L141.6 657.6 L140.8 658.1 L140.1 658.7 L139.3 659.5 L138.6 660.5 L137.8 661.7 L137 663.3 L136.3 665.2 L135.5 667.5Z" stroke="#000" stroke-width="0.6" fill="#000" stroke-linejoin="round"/>
<path d="M177.9 656.6L245.7 656.6" stroke="#ff1d0d" stroke-width="2.8" fill="none"/>
<path d="M186.1 572L186.1 655.2" stroke="#ff1d0d" stroke-width="0.9" fill="none"/>
<path d="M186.1 655.2 L188.2 606.4 L190.4 587.8 L192.5 580.8 L194.6 578.1 L196.7 577 L198.9 576.6 L201 576.5 L203.1 576.4 L205.3 576.3 L207.4 576.3 L209.5 576.3 L211.6 576.3 L213.8 576.2 L215.9 576.2 L218 576.2 L220.2 576.2 L222.3 576.1 L224.4 576.1 L226.5 576.1 L228.7 576.1 L230.8 576.1 L232.9 576 L235.1 576 L237.2 576 L239.3 576 L241.4 575.9 L243.6 575.9 L245.7 575.9" stroke="#ff1d0d" stroke-width="1.4300000000000002" fill="none" stroke-linejoin="round"/>
<path d="M186.1 655.2 L188.2 608.6 L190.4 590.3 L192.5 583.2 L194.6 580.4 L196.7 579.3 L198.9 578.9 L201 578.7 L203.1 578.6 L205.3 578.5 L207.4 578.5 L209.5 578.5 L211.6 578.5 L213.8 578.4 L215.9 578.4 L218 578.4 L220.2 578.4 L222.3 578.3 L224.4 578.3 L226.5 578.3 L228.7 578.3 L230.8 578.3 L232.9 578.2 L235.1 578.2 L237.2 578.2 L239.3 578.2 L241.4 578.1 L243.6 578.1 L245.7 578.1" stroke="#ff1d0d" stroke-width="1.4300000000000002" fill="none" stroke-linejoin="round"/>
<path d="M186.1 655.2 L188.2 611.4 L190.4 593.4 L192.5 586 L194.6 583 L196.7 581.7 L198.9 581.2 L201 581 L203.1 580.9 L205.3 580.8 L207.4 580.8 L209.5 580.8 L211.6 580.7 L213.8 580.7 L215.9 580.7 L218 580.7 L220.2 580.7 L222.3 580.6 L224.4 580.6 L226.5 580.6 L228.7 580.6 L230.8 580.5 L232.9 580.5 L235.1 580.5 L237.2 580.5 L239.3 580.5 L241.4 580.4 L243.6 580.4 L245.7 580.4" stroke="#ff1d0d" stroke-width="1.4300000000000002" fill="none" stroke-linejoin="round"/>
<path d="M186.1 655.2 L188.2 614.2 L190.4 596.5 L192.5 588.8 L194.6 585.5 L196.7 584.1 L198.9 583.4 L201 583.1 L203.1 583 L205.3 582.9 L207.4 582.9 L209.5 582.9 L211.6 582.8 L213.8 582.8 L215.9 582.8 L218 582.8 L220.2 582.7 L222.3 582.7 L224.4 582.7 L226.5 582.7 L228.7 582.7 L230.8 582.6 L232.9 582.6 L235.1 582.6 L237.2 582.6 L239.3 582.6 L241.4 582.5 L243.6 582.5 L245.7 582.5" stroke="#ff1d0d" stroke-width="1.4300000000000002" fill="none" stroke-linejoin="round"/>
<path d="M186.1 655.2 L188.2 618.5 L190.4 601.3 L192.5 593.2 L194.6 589.5 L196.7 587.7 L198.9 586.9 L201 586.5 L203.1 586.3 L205.3 586.2 L207.4 586.1 L209.5 586.1 L211.6 586 L213.8 586 L215.9 586 L218 586 L220.2 585.9 L222.3 585.9 L224.4 585.9 L226.5 585.9 L228.7 585.9 L230.8 585.8 L232.9 585.8 L235.1 585.8 L237.2 585.8 L239.3 585.8 L241.4 585.7 L243.6 585.7 L245.7 585.7" stroke="#ff1d0d" stroke-width="1.4300000000000002" fill="none" stroke-linejoin="round"/>
<path d="M186.1 655.2 L188.2 624.5 L190.4 608.4 L192.5 600 L194.6 595.6 L196.7 593.3 L198.9 592.1 L201 591.5 L203.1 591.1 L205.3 590.9 L207.4 590.8 L209.5 590.8 L211.6 590.7 L213.8 590.7 L215.9 590.7 L218 590.6 L220.2 590.6 L222.3 590.6 L224.4 590.6 L226.5 590.6 L228.7 590.5 L230.8 590.5 L232.9 590.5 L235.1 590.5 L237.2 590.5 L239.3 590.5 L241.4 590.4 L243.6 590.4 L245.7 590.4" stroke="#ff1d0d" stroke-width="1.4300000000000002" fill="none" stroke-linejoin="round"/>
<path d="M186.1 655.2 L188.2 631.7 L190.4 617.7 L192.5 609.4 L194.6 604.5 L196.7 601.5 L198.9 599.8 L201 598.8 L203.1 598.1 L205.3 597.7 L207.4 597.5 L209.5 597.4 L211.6 597.3 L213.8 597.2 L215.9 597.2 L218 597.1 L220.2 597.1 L222.3 597.1 L224.4 597.1 L226.5 597.1 L228.7 597 L230.8 597 L232.9 597 L235.1 597 L237.2 597 L239.3 597 L241.4 596.9 L243.6 596.9 L245.7 596.9" stroke="#ff1d0d" stroke-width="1.4300000000000002" fill="none" stroke-linejoin="round"/>
<path d="M186.1 655.2 L188.2 638.2 L190.4 626.9 L192.5 619.4 L194.6 614.5 L196.7 611.2 L198.9 609 L201 607.5 L203.1 606.6 L205.3 605.9 L207.4 605.5 L209.5 605.2 L211.6 605 L213.8 604.9 L215.9 604.8 L218 604.7 L220.2 604.6 L222.3 604.6 L224.4 604.6 L226.5 604.6 L228.7 604.5 L230.8 604.5 L232.9 604.5 L235.1 604.5 L237.2 604.5 L239.3 604.4 L241.4 604.4 L243.6 604.4 L245.7 604.4" stroke="#ff1d0d" stroke-width="1.4300000000000002" fill="none" stroke-linejoin="round"/>
<path d="M186.1 655.2 L188.2 643.8 L190.4 635.5 L192.5 629.4 L194.6 625.1 L196.7 621.9 L198.9 619.6 L201 617.9 L203.1 616.7 L205.3 615.8 L207.4 615.1 L209.5 614.6 L211.6 614.3 L213.8 614 L215.9 613.8 L218 613.7 L220.2 613.6 L222.3 613.5 L224.4 613.4 L226.5 613.4 L228.7 613.4 L230.8 613.3 L232.9 613.3 L235.1 613.3 L237.2 613.3 L239.3 613.2 L241.4 613.2 L243.6 613.2 L245.7 613.2" stroke="#ff1d0d" stroke-width="1.4300000000000002" fill="none" stroke-linejoin="round"/>
<path d="M186.1 655.2 L188.2 648.7 L190.4 643.6 L192.5 639.5 L194.6 636.4 L196.7 633.9 L198.9 631.9 L201 630.4 L203.1 629.2 L205.3 628.2 L207.4 627.5 L209.5 626.9 L211.6 626.4 L213.8 626 L215.9 625.7 L218 625.5 L220.2 625.3 L222.3 625.2 L224.4 625.1 L226.5 625 L228.7 624.9 L230.8 624.8 L232.9 624.8 L235.1 624.7 L237.2 624.7 L239.3 624.7 L241.4 624.6 L243.6 624.6 L245.7 624.6" stroke="#ff1d0d" stroke-width="1.4300000000000002" fill="none" stroke-linejoin="round"/>
<path d="M186.1 655.2 L188.2 652.1 L190.4 649.5 L192.5 647.4 L194.6 645.6 L196.7 644.1 L198.9 642.9 L201 641.8 L203.1 641 L205.3 640.3 L207.4 639.7 L209.5 639.2 L211.6 638.8 L213.8 638.4 L215.9 638.1 L218 637.9 L220.2 637.7 L222.3 637.5 L224.4 637.4 L226.5 637.3 L228.7 637.2 L230.8 637.1 L232.9 637 L235.1 637 L237.2 636.9 L239.3 636.9 L241.4 636.9 L243.6 636.8 L245.7 636.8" stroke="#ff1d0d" stroke-width="1.4300000000000002" fill="none" stroke-linejoin="round"/>
<path d="M186.1 655.2 L188.2 654.5 L190.4 653.9 L192.5 653.3 L194.6 652.9 L196.7 652.5 L198.9 652.1 L201 651.8 L203.1 651.6 L205.3 651.4 L207.4 651.2 L209.5 651 L211.6 650.9 L213.8 650.7 L215.9 650.6 L218 650.5 L220.2 650.4 L222.3 650.4 L224.4 650.3 L226.5 650.3 L228.7 650.2 L230.8 650.2 L232.9 650.1 L235.1 650.1 L237.2 650.1 L239.3 650.1 L241.4 650 L243.6 650 L245.7 650" stroke="#ff1d0d" stroke-width="1.4300000000000002" fill="none" stroke-linejoin="round"/>
<path d="M186.1 655.2 L188.2 655.1 L190.4 655 L192.5 654.9 L194.6 654.9 L196.7 654.8 L198.9 654.7 L201 654.7 L203.1 654.7 L205.3 654.6 L207.4 654.6 L209.5 654.6 L211.6 654.5 L213.8 654.5 L215.9 654.5 L218 654.5 L220.2 654.5 L222.3 654.5 L224.4 654.5 L226.5 654.4 L228.7 654.4 L230.8 654.4 L232.9 654.4 L235.1 654.4 L237.2 654.4 L239.3 654.4 L241.4 654.4 L243.6 654.4 L245.7 654.4" stroke="#ff1d0d" stroke-width="1.4300000000000002" fill="none" stroke-linejoin="round"/>
<path d="M245.7 619 L247.1 620.1 L248.5 620.8 L249.9 621.3 L251.4 621.5 L252.8 621.7 L254.2 621.8 L255.6 621.9 L257 621.9 L258.4 622 L259.8 622 L261.3 622 L262.7 622 L264.1 622 L265.5 622 L265.5 626.5 L264.1 626.5 L262.7 626.5 L261.3 626.5 L259.8 626.5 L258.4 626.5 L257 626.4 L255.6 626.4 L254.2 626.3 L252.8 626.2 L251.4 626 L249.9 625.8 L248.5 625.3 L247.1 624.6 L245.7 623.5Z" stroke="#ff1d0d" stroke-width="0.6" fill="#ff1d0d" stroke-linejoin="round"/>
<path d="M245.7 630 L246.9 627.8 L248.2 626.3 L249.4 625.4 L250.6 624.7 L251.9 624.3 L253.1 624 L254.4 623.9 L255.6 623.7 L256.8 623.7 L258.1 623.6 L259.3 623.6 L260.6 623.5 L261.8 623.5 L263 623.5 L264.3 623.5 L265.5 623.5" stroke="#ff1d0d" stroke-width="1.5210000000000001" fill="none" stroke-linejoin="round"/>
<path d="M245.7 642 L246.9 639.2 L248.2 635.9 L249.4 633 L250.6 630.8 L251.9 629.2 L253.1 628 L254.4 627.1 L255.6 626.5 L256.8 626 L258.1 625.7 L259.3 625.5 L260.6 625.4 L261.8 625.3 L263 625.2 L264.3 625.1 L265.5 625.1" stroke="#ff1d0d" stroke-width="1.638" fill="none" stroke-linejoin="round"/>
<path d="M245.7 654 L246.9 652 L248.2 647.9 L249.4 643.6 L250.6 639.6 L251.9 636.3 L253.1 633.7 L254.4 631.7 L255.6 630.1 L256.8 628.9 L258.1 628 L259.3 627.4 L260.6 626.9 L261.8 626.5 L263 626.2 L264.3 626 L265.5 625.9" stroke="#ff1d0d" stroke-width="1.7550000000000001" fill="none" stroke-linejoin="round"/>
<path d="M245.7 654 L246.9 652.4 L248.2 649 L249.4 645.3 L250.6 641.7 L251.9 638.5 L253.1 635.9 L254.4 633.8 L255.6 632.1 L256.8 630.8 L258.1 629.7 L259.3 628.9 L260.6 628.3 L261.8 627.8 L263 627.5 L264.3 627.2 L265.5 627" stroke="#ff1d0d" stroke-width="1.7550000000000001" fill="none" stroke-linejoin="round"/>
<path d="M245.7 576L245.7 661" stroke="#ff7060" stroke-width="0.8" fill="none"/>
<path d="M265.5 623L265.5 670.1" stroke="#ff7060" stroke-width="0.9" fill="none"/>
<path d="M265.5 656.4 L266.3 656.2 L267 656.1 L267.8 655.9 L268.6 655.8 L269.3 655.7 L270.1 655.6 L270.8 655.6 L271.6 655.5 L272.4 655.5 L273.1 655.4 L273.9 655.4 L274.6 655.4 L275.4 655.3 L276.2 655.3 L276.9 655.3 L277.7 655.3 L277.7 655.6 L276.9 655.7 L276.2 655.8 L275.4 655.9 L274.6 656.1 L273.9 656.3 L273.1 656.6 L272.4 656.9 L271.6 657.3 L270.8 657.8 L270.1 658.4 L269.3 659.2 L268.6 660.2 L267.8 661.4 L267 663 L266.3 664.9 L265.5 667.2Z" stroke="#ff1d0d" stroke-width="0.6" fill="#ff1d0d" stroke-linejoin="round"/>
<rect x="120.6" y="545.6" width="40.7" height="67" stroke="#88d2f4" stroke-width="1.5" fill="none"/>
<path d="M126.5 607.5L153.5 607.5" stroke="#333" stroke-width="0.8" fill="none" stroke-dasharray="1.2 1.6"/>
<path d="M125 551 L126.1 552 L127.2 552.8 L128.3 553.4 L129.5 553.9 L130.6 554.4 L131.7 554.7 L132.8 554.9 L133.9 555.2 L135 555.3 L136.1 555.5 L137.2 555.6 L138.4 555.7 L139.5 555.7 L140.6 555.8 L141.7 555.8 L142.8 555.9 L143.9 555.9 L145 555.9 L146.2 555.9 L147.3 555.9 L148.4 556 L149.5 556 L150.6 556 L151.7 556 L152.8 556 L153.9 556 L155.1 556 L156.2 556 L157.3 556 L158.4 556 L158.4 562 L157.3 562 L156.2 562 L155.1 562 L153.9 562 L152.8 562 L151.7 562 L150.6 562 L149.5 561.9 L148.4 561.9 L147.3 561.9 L146.2 561.9 L145 561.9 L143.9 561.9 L142.8 561.8 L141.7 561.8 L140.6 561.8 L139.5 561.7 L138.4 561.7 L137.2 561.6 L136.1 561.5 L135 561.4 L133.9 561.3 L132.8 561.2 L131.7 561 L130.6 560.8 L129.5 560.6 L128.3 560.3 L127.2 559.9 L126.1 559.5 L125 559Z" stroke="#000" stroke-width="0.6" fill="#000" stroke-linejoin="round"/>
<path d="M125 562 L126.5 561.8 L128 561.7 L129.6 561.6 L131.1 561.5 L132.6 561.4 L134.1 561.3 L135.6 561.3 L137.1 561.2 L138.7 561.2 L140.2 561.1 L141.7 561.1 L143.2 561.1 L144.7 561.1 L146.3 561.1 L147.8 561.1 L149.3 561 L150.8 561 L152.3 561 L153.8 561 L155.4 561 L156.9 561 L158.4 561" stroke="#000" stroke-width="1.8199999999999998" fill="none" stroke-linejoin="round"/>
<path d="M125 573 L126.5 570.7 L128 568.8 L129.6 567.4 L131.1 566.3 L132.6 565.5 L134.1 564.8 L135.6 564.3 L137.1 563.9 L138.7 563.6 L140.2 563.3 L141.7 563.1 L143.2 563 L144.7 562.9 L146.3 562.8 L147.8 562.7 L149.3 562.7 L150.8 562.6 L152.3 562.6 L153.8 562.6 L155.4 562.6 L156.9 562.6 L158.4 562.5" stroke="#000" stroke-width="1.8199999999999998" fill="none" stroke-linejoin="round"/>
<path d="M125 594 L126.5 588.1 L128 583.3 L129.6 579.4 L131.1 576.3 L132.6 573.8 L134.1 571.8 L135.6 570.2 L137.1 568.9 L138.7 567.8 L140.2 567 L141.7 566.3 L143.2 565.8 L144.7 565.3 L146.3 565 L147.8 564.7 L149.3 564.4 L150.8 564.3 L152.3 564.1 L153.8 564 L155.4 563.9 L156.9 563.8 L158.4 563.8" stroke="#000" stroke-width="1.9500000000000002" fill="none" stroke-linejoin="round"/>
<path d="M125 608 L126.5 604.9 L128 598.8 L129.6 592.1 L131.1 586 L132.6 580.9 L134.1 576.7 L135.6 573.5 L137.1 571 L138.7 569.1 L140.2 567.7 L141.7 566.6 L143.2 565.8 L144.7 565.2 L146.3 564.8 L147.8 564.4 L149.3 564.2 L150.8 564 L152.3 563.9 L153.8 563.8 L155.4 563.7 L156.9 563.7 L158.4 563.6" stroke="#000" stroke-width="2.08" fill="none" stroke-linejoin="round"/>
<path d="M125 608 L126.5 605.5 L128 600.1 L129.6 594.1 L131.1 588.5 L132.6 583.5 L134.1 579.4 L135.6 576 L137.1 573.4 L138.7 571.3 L140.2 569.7 L141.7 568.4 L143.2 567.4 L144.7 566.7 L146.3 566.1 L147.8 565.7 L149.3 565.3 L150.8 565.1 L152.3 564.9 L153.8 564.8 L155.4 564.6 L156.9 564.6 L158.4 564.5" stroke="#000" stroke-width="2.08" fill="none" stroke-linejoin="round"/>
<path d="M125 608 L126.5 605.9 L128 601.2 L129.6 595.8 L131.1 590.6 L132.6 585.8 L134.1 581.8 L135.6 578.4 L137.1 575.6 L138.7 573.4 L140.2 571.6 L141.7 570.2 L143.2 569 L144.7 568.1 L146.3 567.5 L147.8 566.9 L149.3 566.5 L150.8 566.2 L152.3 565.9 L153.8 565.7 L155.4 565.5 L156.9 565.4 L158.4 565.3" stroke="#000" stroke-width="2.08" fill="none" stroke-linejoin="round"/>
<path d="M125 551L125 608.8" stroke="#666" stroke-width="1.0" fill="none"/>
<path d="M158.4 559.5L158.4 566" stroke="#000" stroke-width="1.2" fill="none"/>
<rect x="251.1" y="545.6" width="40.2" height="67" stroke="#88d2f4" stroke-width="1.5" fill="none"/>
<path d="M257 607.5L286 607.5" stroke="#333" stroke-width="0.8" fill="none" stroke-dasharray="1.2 1.6"/>
<path d="M254.8 550.5 L255.9 551.4 L257 552.1 L258.2 552.7 L259.3 553.2 L260.4 553.5 L261.5 553.8 L262.6 554.1 L263.8 554.3 L264.9 554.4 L266 554.5 L267.1 554.6 L268.2 554.7 L269.4 554.8 L270.5 554.8 L271.6 554.8 L272.7 554.9 L273.8 554.9 L275 554.9 L276.1 554.9 L277.2 554.9 L278.3 555 L279.4 555 L280.6 555 L281.7 555 L282.8 555 L283.9 555 L285 555 L286.2 555 L287.3 555 L288.4 555 L288.4 561 L287.3 561 L286.2 561 L285 561 L283.9 561 L282.8 561 L281.7 561 L280.6 561 L279.4 561 L278.3 560.9 L277.2 560.9 L276.1 560.9 L275 560.9 L273.8 560.9 L272.7 560.8 L271.6 560.8 L270.5 560.8 L269.4 560.7 L268.2 560.7 L267.1 560.6 L266 560.5 L264.9 560.4 L263.8 560.3 L262.6 560.2 L261.5 560 L260.4 559.8 L259.3 559.6 L258.2 559.3 L257 558.9 L255.9 558.5 L254.8 558Z" stroke="#ff1d0d" stroke-width="0.6" fill="#ff1d0d" stroke-linejoin="round"/>
<path d="M254.8 561 L256.3 560.8 L257.9 560.7 L259.4 560.6 L260.9 560.5 L262.4 560.4 L264 560.3 L265.5 560.3 L267 560.2 L268.5 560.2 L270.1 560.1 L271.6 560.1 L273.1 560.1 L274.7 560.1 L276.2 560.1 L277.7 560.1 L279.2 560 L280.8 560 L282.3 560 L283.8 560 L285.3 560 L286.9 560 L288.4 560" stroke="#ff1d0d" stroke-width="1.8199999999999998" fill="none" stroke-linejoin="round"/>
<path d="M254.8 572 L256.3 569.6 L257.9 567.8 L259.4 566.4 L260.9 565.3 L262.4 564.4 L264 563.8 L265.5 563.3 L267 562.9 L268.5 562.6 L270.1 562.3 L271.6 562.1 L273.1 562 L274.7 561.9 L276.2 561.8 L277.7 561.7 L279.2 561.7 L280.8 561.6 L282.3 561.6 L283.8 561.6 L285.3 561.6 L286.9 561.6 L288.4 561.5" stroke="#ff1d0d" stroke-width="1.9500000000000002" fill="none" stroke-linejoin="round"/>
<path d="M254.8 594 L256.3 587.8 L257.9 582.9 L259.4 578.9 L260.9 575.7 L262.4 573.1 L264 571 L265.5 569.3 L267 568 L268.5 566.9 L270.1 566.1 L271.6 565.4 L273.1 564.8 L274.7 564.3 L276.2 564 L277.7 563.7 L279.2 563.5 L280.8 563.3 L282.3 563.1 L283.8 563 L285.3 562.9 L286.9 562.8 L288.4 562.8" stroke="#ff1d0d" stroke-width="1.9500000000000002" fill="none" stroke-linejoin="round"/>
<path d="M254.8 609 L256.3 605.8 L257.9 599.3 L259.4 592.3 L260.9 585.9 L262.4 580.5 L264 576.2 L265.5 572.8 L267 570.2 L268.5 568.3 L270.1 566.8 L271.6 565.7 L273.1 564.8 L274.7 564.2 L276.2 563.8 L277.7 563.4 L279.2 563.2 L280.8 563 L282.3 562.9 L283.8 562.8 L285.3 562.7 L286.9 562.7 L288.4 562.6" stroke="#ff1d0d" stroke-width="2.21" fill="none" stroke-linejoin="round"/>
<path d="M254.8 609 L256.3 606.3 L257.9 600.7 L259.4 594.4 L260.9 588.4 L262.4 583.3 L264 578.9 L265.5 575.4 L267 572.7 L268.5 570.5 L270.1 568.8 L271.6 567.5 L273.1 566.5 L274.7 565.7 L276.2 565.2 L277.7 564.7 L279.2 564.4 L280.8 564.1 L282.3 563.9 L283.8 563.8 L285.3 563.7 L286.9 563.6 L288.4 563.5" stroke="#ff1d0d" stroke-width="2.21" fill="none" stroke-linejoin="round"/>
<path d="M254.8 609 L256.3 606.7 L257.9 601.8 L259.4 596.2 L260.9 590.6 L262.4 585.7 L264 581.4 L265.5 577.9 L267 575 L268.5 572.6 L270.1 570.8 L271.6 569.3 L273.1 568.1 L274.7 567.2 L276.2 566.5 L277.7 566 L279.2 565.5 L280.8 565.2 L282.3 564.9 L283.8 564.7 L285.3 564.6 L286.9 564.4 L288.4 564.3" stroke="#ff1d0d" stroke-width="2.21" fill="none" stroke-linejoin="round"/>
<path d="M254.8 550.5L254.8 609.6" stroke="#ff1d0d" stroke-width="1.1" fill="none"/>
<path d="M288.4 558.5L288.4 565" stroke="#ff1d0d" stroke-width="1.2" fill="none"/>
<path d="M41.8 626.3L41.8 659.6M41.8 659.6L60.7 659.6" stroke="#8a8a8a" stroke-width="1.0" fill="none"/>
<text x="38.4" y="644" font-size="10" text-anchor="middle" fill="#000" transform="rotate(-90 38.4 644)">2 µA</text>
<text x="44.3" y="670.8" font-size="10.5" text-anchor="start" fill="#000">1 s</text>
<text x="315.1" y="416.3" font-size="18.8" text-anchor="start" fill="#000">i</text>
<path d="M325.1 519.1L461.6 519.1M412.8 519.1L412.8 408.6M335.2 519.1L335.2 521.7" stroke="#222" stroke-width="0.9" fill="none"/>
<text x="333.7" y="531.2" font-size="9.2" text-anchor="middle" fill="#000">-80</text>
<path d="M354.6 519.1L354.6 521.7" stroke="#222" stroke-width="0.9" fill="none"/>
<text x="353.1" y="531.2" font-size="9.2" text-anchor="middle" fill="#000">-60</text>
<path d="M374 519.1L374 521.7" stroke="#222" stroke-width="0.9" fill="none"/>
<text x="372.5" y="531.2" font-size="9.2" text-anchor="middle" fill="#000">-40</text>
<path d="M393.4 519.1L393.4 521.7" stroke="#222" stroke-width="0.9" fill="none"/>
<text x="391.9" y="531.2" font-size="9.2" text-anchor="middle" fill="#000">-20</text>
<path d="M412.8 519.1L412.8 521.7" stroke="#222" stroke-width="0.9" fill="none"/>
<text x="412.8" y="531.2" font-size="9.2" text-anchor="middle" fill="#000">0</text>
<path d="M432.2 519.1L432.2 521.7" stroke="#222" stroke-width="0.9" fill="none"/>
<text x="432.2" y="531.2" font-size="9.2" text-anchor="middle" fill="#000">20</text>
<path d="M451.6 519.1L451.6 521.7" stroke="#222" stroke-width="0.9" fill="none"/>
<text x="451.6" y="531.2" font-size="9.2" text-anchor="middle" fill="#000">40</text>
<path d="M344.9 519.1L344.9 520.6M364.3 519.1L364.3 520.6M383.7 519.1L383.7 520.6M403.1 519.1L403.1 520.6M422.5 519.1L422.5 520.6M441.9 519.1L441.9 520.6M412.8 507.4L410.2 507.4" stroke="#222" stroke-width="0.9" fill="none"/>
<text x="409.5" y="510.7" font-size="9.2" text-anchor="end" fill="#000">0.2</text>
<path d="M412.8 495.4L410.2 495.4" stroke="#222" stroke-width="0.9" fill="none"/>
<text x="409.5" y="498.7" font-size="9.2" text-anchor="end" fill="#000">0.4</text>
<path d="M412.8 483.3L410.2 483.3" stroke="#222" stroke-width="0.9" fill="none"/>
<text x="409.5" y="486.6" font-size="9.2" text-anchor="end" fill="#000">0.6</text>
<path d="M412.8 471.2L410.2 471.2" stroke="#222" stroke-width="0.9" fill="none"/>
<text x="409.5" y="474.5" font-size="9.2" text-anchor="end" fill="#000">0.8</text>
<path d="M412.8 459.2L410.2 459.2" stroke="#222" stroke-width="0.9" fill="none"/>
<text x="409.5" y="462.5" font-size="9.2" text-anchor="end" fill="#000">1.0</text>
<path d="M412.8 447.1L410.2 447.1" stroke="#222" stroke-width="0.9" fill="none"/>
<text x="409.5" y="450.4" font-size="9.2" text-anchor="end" fill="#000">1.2</text>
<path d="M412.8 435L410.2 435" stroke="#222" stroke-width="0.9" fill="none"/>
<text x="409.5" y="438.3" font-size="9.2" text-anchor="end" fill="#000">1.4</text>
<path d="M412.8 423L410.2 423" stroke="#222" stroke-width="0.9" fill="none"/>
<text x="409.5" y="426.3" font-size="9.2" text-anchor="end" fill="#000">1.6</text>
<path d="M412.8 410.9L410.2 410.9" stroke="#222" stroke-width="0.9" fill="none"/>
<text x="409.5" y="414.2" font-size="9.2" text-anchor="end" fill="#000">1.8</text>
<path d="M412.8 513.5L411.3 513.5M412.8 501.4L411.3 501.4M412.8 489.3L411.3 489.3M412.8 477.3L411.3 477.3M412.8 465.2L411.3 465.2M412.8 453.1L411.3 453.1M412.8 441.1L411.3 441.1M412.8 429L411.3 429M412.8 416.9L411.3 416.9" stroke="#222" stroke-width="0.9" fill="none"/>
<path d="M335.2 519.4 L337.1 519.3 L339.1 519.2 L341 519.1 L343 518.9 L344.9 518.6 L346.8 518.2 L348.8 517.7 L350.7 516.9 L352.7 515.9 L354.6 514.4 L356.5 512.3 L358.5 509.6 L360.4 505.9 L362.4 501.3 L364.3 495.6 L366.2 489 L368.2 481.6 L370.1 474.1 L372.1 466.8 L374 460.2 L375.9 454.5 L377.9 449.8 L379.8 446.2 L381.8 443.4 L383.7 441.4 L385.6 439.9 L387.6 438.8 L389.5 438 L391.5 437.5 L393.4 437.1 L395.3 436.8 L397.3 436.7 L399.2 436.5 L401.2 436.4 L403.1 436.4 L405 436.3 L407 436.3 L408.9 436.3 L410.9 436.3 L412.8 436.3 L414.7 436.3 L416.7 436.3 L418.6 436.2 L420.6 436.2 L422.5 436.2 L424.4 436.2 L426.4 436.2 L428.3 436.2 L430.3 436.2 L432.2 436.2 L434.1 436.2 L436.1 436.2 L438 436.2 L440 436.2 L441.9 436.2 L443.8 436.2 L445.8 436.2 L447.7 436.2 L449.7 436.2 L451.6 436.2" stroke="#000" stroke-width="0.8" fill="none" stroke-linejoin="round"/>
<path d="M335.2 519.4 L337.1 519.4 L339.1 519.3 L341 519.3 L343 519.2 L344.9 519 L346.8 518.8 L348.8 518.4 L350.7 517.9 L352.7 517.1 L354.6 515.9 L356.5 514.2 L358.5 511.9 L360.4 508.6 L362.4 504.1 L364.3 498.3 L366.2 491.1 L368.2 482.7 L370.1 473.6 L372.1 464.6 L374 456.2 L375.9 449 L377.9 443.2 L379.8 438.7 L381.8 435.4 L383.7 433.1 L385.6 431.4 L387.6 430.2 L389.5 429.4 L391.5 428.9 L393.4 428.5 L395.3 428.3 L397.3 428.1 L399.2 428 L401.2 427.9 L403.1 427.9 L405 427.9 L407 427.8 L408.9 427.8 L410.9 427.8 L412.8 427.8 L414.7 427.8 L416.7 427.8 L418.6 427.8 L420.6 427.8 L422.5 427.8 L424.4 427.8 L426.4 427.8 L428.3 427.8 L430.3 427.8 L432.2 427.8 L434.1 427.8 L436.1 427.8 L438 427.8 L440 427.8 L441.9 427.8 L443.8 427.8 L445.8 427.8 L447.7 427.8 L449.7 427.8 L451.6 427.8" stroke="#ff1d0d" stroke-width="0.8" fill="none" stroke-linejoin="round"/>
<path d="M354.6 517.7L354.6 518.9M353.2 517.7L356 517.7M353.2 518.9L356 518.9M364.3 489.3L364.3 495.4M362.9 489.3L365.7 489.3M362.9 495.4L365.7 495.4M374 454.9L374 467M372.6 454.9L375.4 454.9M372.6 467L375.4 467M383.7 438L383.7 452.5M382.3 438L385.1 438M382.3 452.5L385.1 452.5M393.4 429L393.4 447.1M392 429L394.8 429M392 447.1L394.8 447.1M403.1 425.4L403.1 443.5M401.7 425.4L404.5 425.4M401.7 443.5L404.5 443.5M412.8 424.8L412.8 444.1M411.4 424.8L414.2 424.8M411.4 444.1L414.2 444.1M422.5 425.4L422.5 443.5M421.1 425.4L423.9 425.4M421.1 443.5L423.9 443.5M432.2 425.4L432.2 444.7M430.8 425.4L433.6 425.4M430.8 444.7L433.6 444.7M441.9 426L441.9 445.3M440.5 426L443.3 426M440.5 445.3L443.3 445.3M451.6 426L451.6 445.3M450.2 426L453 426M450.2 445.3L453 445.3" stroke="#000" stroke-width="0.7" fill="none"/>
<rect x="333.4" y="517.8" width="3.5" height="3.5" fill="#000"/>
<rect x="343.1" y="517.8" width="3.5" height="3.5" fill="#000"/>
<rect x="352.9" y="516.5" width="3.5" height="3.5" fill="#000"/>
<rect x="362.6" y="490.6" width="3.5" height="3.5" fill="#000"/>
<rect x="372.2" y="459.2" width="3.5" height="3.5" fill="#000"/>
<rect x="381.9" y="443.5" width="3.5" height="3.5" fill="#000"/>
<rect x="391.6" y="436.3" width="3.5" height="3.5" fill="#000"/>
<rect x="401.4" y="432.7" width="3.5" height="3.5" fill="#000"/>
<rect x="411.1" y="432.7" width="3.5" height="3.5" fill="#000"/>
<rect x="420.8" y="432.7" width="3.5" height="3.5" fill="#000"/>
<rect x="430.5" y="433.3" width="3.5" height="3.5" fill="#000"/>
<rect x="440.2" y="433.9" width="3.5" height="3.5" fill="#000"/>
<rect x="449.9" y="433.9" width="3.5" height="3.5" fill="#000"/>
<path d="M354.6 515.9L354.6 517.1M353.2 515.9L356 515.9M353.2 517.1L356 517.1M364.3 489.9L364.3 496M362.9 489.9L365.7 489.9M362.9 496L365.7 496M374 451.9L374 464M372.6 451.9L375.4 451.9M372.6 464L375.4 464M383.7 429L383.7 443.5M382.3 429L385.1 429M382.3 443.5L385.1 443.5M393.4 418.1L393.4 438.7M392 418.1L394.8 418.1M392 438.7L394.8 438.7M403.1 415.1L403.1 435.6M401.7 415.1L404.5 415.1M401.7 435.6L404.5 435.6M412.8 414.5L412.8 436.2M411.4 414.5L414.2 414.5M411.4 436.2L414.2 436.2M422.5 415.7L422.5 435M421.1 415.7L423.9 415.7M421.1 435L423.9 435M432.2 416.3L432.2 435.6M430.8 416.3L433.6 416.3M430.8 435.6L433.6 435.6M441.9 417.5L441.9 436.8M440.5 417.5L443.3 417.5M440.5 436.8L443.3 436.8M451.6 417.5L451.6 436.8M450.2 417.5L453 417.5M450.2 436.8L453 436.8" stroke="#ff1d0d" stroke-width="0.7" fill="none"/>
<circle cx="335.2" cy="519.5" r="2" fill="#ff1d0d" stroke="none"/>
<circle cx="344.9" cy="519.5" r="2" fill="#ff1d0d" stroke="none"/>
<circle cx="354.6" cy="516.5" r="2" fill="#ff1d0d" stroke="none"/>
<circle cx="364.3" cy="493" r="2" fill="#ff1d0d" stroke="none"/>
<circle cx="374" cy="458" r="2" fill="#ff1d0d" stroke="none"/>
<circle cx="383.7" cy="436.2" r="2" fill="#ff1d0d" stroke="none"/>
<circle cx="393.4" cy="428.4" r="2" fill="#ff1d0d" stroke="none"/>
<circle cx="403.1" cy="425.4" r="2" fill="#ff1d0d" stroke="none"/>
<circle cx="412.8" cy="425.4" r="2" fill="#ff1d0d" stroke="none"/>
<circle cx="422.5" cy="425.4" r="2" fill="#ff1d0d" stroke="none"/>
<circle cx="432.2" cy="426" r="2" fill="#ff1d0d" stroke="none"/>
<circle cx="441.9" cy="427.2" r="2" fill="#ff1d0d" stroke="none"/>
<circle cx="451.6" cy="427.2" r="2" fill="#ff1d0d" stroke="none"/>
<text x="391.5" y="484.7" font-size="9.4" text-anchor="middle" fill="#000" transform="rotate(-90 391.5 484.7)"><tspan font-style="italic">I</tspan> (µA)</text>
<text x="437.5" y="540.2" font-size="9.4" text-anchor="middle" fill="#000">voltage (mV)</text>
<path d="M446.6 465.7L468.6 465.7" stroke="#000" stroke-width="0.9" fill="none"/>
<rect x="454.9" y="462.9" width="5.5" height="5.5" fill="#000"/>
<text x="477" y="469" font-size="9.4" text-anchor="start" fill="#000">Control</text>
<path d="M446.6 478.2L468.6 478.2" stroke="#ff1d0d" stroke-width="0.9" fill="none"/>
<circle cx="457.6" cy="478.2" r="3.3" fill="#ff1d0d" stroke="none"/>
<text x="477" y="481.5" font-size="9.4" text-anchor="start" fill="#000">100 µM</text>
<text x="477" y="493.1" font-size="9.4" text-anchor="start" fill="#000">gentisic acid</text>
<path d="M531.6 518.5L671.3 518.5M621.5 518.5L621.5 408.4M541.2 518.5L541.2 521.1" stroke="#222" stroke-width="0.9" fill="none"/>
<text x="539.7" y="530.5" font-size="9.2" text-anchor="middle" fill="#000">-80</text>
<path d="M561.3 518.5L561.3 521.1" stroke="#222" stroke-width="0.9" fill="none"/>
<text x="559.8" y="530.5" font-size="9.2" text-anchor="middle" fill="#000">-60</text>
<path d="M581.3 518.5L581.3 521.1" stroke="#222" stroke-width="0.9" fill="none"/>
<text x="579.8" y="530.5" font-size="9.2" text-anchor="middle" fill="#000">-40</text>
<path d="M601.4 518.5L601.4 521.1" stroke="#222" stroke-width="0.9" fill="none"/>
<text x="599.9" y="530.5" font-size="9.2" text-anchor="middle" fill="#000">-20</text>
<path d="M621.5 518.5L621.5 521.1" stroke="#222" stroke-width="0.9" fill="none"/>
<text x="621.5" y="530.5" font-size="9.2" text-anchor="middle" fill="#000">0</text>
<path d="M641.5 518.5L641.5 521.1" stroke="#222" stroke-width="0.9" fill="none"/>
<text x="641.5" y="530.5" font-size="9.2" text-anchor="middle" fill="#000">20</text>
<path d="M661.6 518.5L661.6 521.1" stroke="#222" stroke-width="0.9" fill="none"/>
<text x="661.6" y="530.5" font-size="9.2" text-anchor="middle" fill="#000">40</text>
<path d="M551.2 518.5L551.2 520M571.3 518.5L571.3 520M591.4 518.5L591.4 520M611.4 518.5L611.4 520M631.5 518.5L631.5 520M651.6 518.5L651.6 520M621.5 497.6L618.9 497.6" stroke="#222" stroke-width="0.9" fill="none"/>
<text x="617.5" y="500.9" font-size="9.2" text-anchor="end" fill="#000">0.2</text>
<path d="M621.5 476.7L618.9 476.7" stroke="#222" stroke-width="0.9" fill="none"/>
<text x="617.5" y="480" font-size="9.2" text-anchor="end" fill="#000">0.4</text>
<path d="M621.5 455.8L618.9 455.8" stroke="#222" stroke-width="0.9" fill="none"/>
<text x="617.5" y="459.1" font-size="9.2" text-anchor="end" fill="#000">0.6</text>
<path d="M621.5 434.9L618.9 434.9" stroke="#222" stroke-width="0.9" fill="none"/>
<text x="617.5" y="438.2" font-size="9.2" text-anchor="end" fill="#000">0.8</text>
<path d="M621.5 414L618.9 414" stroke="#222" stroke-width="0.9" fill="none"/>
<text x="617.5" y="417.3" font-size="9.2" text-anchor="end" fill="#000">1.0</text>
<path d="M621.5 508.1L620 508.1M621.5 487.1L620 487.1M621.5 466.2L620 466.2M621.5 445.4L620 445.4M621.5 424.4L620 424.4" stroke="#222" stroke-width="0.9" fill="none"/>
<path d="M541.2 518.2 L543.2 518.1 L545.2 517.9 L547.2 517.7 L549.2 517.4 L551.2 516.9 L553.2 516.4 L555.2 515.6 L557.3 514.5 L559.3 513.1 L561.3 511.1 L563.3 508.6 L565.3 505.3 L567.3 501.1 L569.3 495.9 L571.3 489.7 L573.3 482.5 L575.3 474.6 L577.3 466.2 L579.3 457.9 L581.3 450 L583.3 442.8 L585.3 436.6 L587.4 431.4 L589.4 427.2 L591.4 423.9 L593.4 421.4 L595.4 419.4 L597.4 418 L599.4 416.9 L601.4 416.1 L603.4 415.6 L605.4 415.1 L607.4 414.8 L609.4 414.6 L611.4 414.4 L613.4 414.3 L615.4 414.2 L617.5 414.2 L619.5 414.1 L621.5 414.1 L623.5 414.1 L625.5 414 L627.5 414 L629.5 414 L631.5 414 L633.5 414 L635.5 414 L637.5 414 L639.5 414 L641.5 414 L643.5 414 L645.5 414 L647.6 414 L649.6 414 L651.6 414 L653.6 414 L655.6 414 L657.6 414 L659.6 414 L661.6 414" stroke="#000" stroke-width="0.8" fill="none" stroke-linejoin="round"/>
<path d="M541.2 518.2 L543.2 518.1 L545.2 517.9 L547.2 517.7 L549.2 517.4 L551.2 517 L553.2 516.4 L555.2 515.6 L557.3 514.6 L559.3 513.1 L561.3 511.3 L563.3 508.8 L565.3 505.5 L567.3 501.4 L569.3 496.3 L571.3 490.2 L573.3 483.1 L575.3 475.3 L577.3 467 L579.3 458.8 L581.3 451 L583.3 443.9 L585.3 437.8 L587.4 432.7 L589.4 428.6 L591.4 425.3 L593.4 422.8 L595.4 420.9 L597.4 419.5 L599.4 418.4 L601.4 417.7 L603.4 417.1 L605.4 416.7 L607.4 416.4 L609.4 416.2 L611.4 416 L613.4 415.9 L615.4 415.8 L617.5 415.7 L619.5 415.7 L621.5 415.7 L623.5 415.6 L625.5 415.6 L627.5 415.6 L629.5 415.6 L631.5 415.6 L633.5 415.6 L635.5 415.6 L637.5 415.6 L639.5 415.6 L641.5 415.6 L643.5 415.6 L645.5 415.6 L647.6 415.6 L649.6 415.6 L651.6 415.6 L653.6 415.6 L655.6 415.6 L657.6 415.6 L659.6 415.6 L661.6 415.6" stroke="#ff1d0d" stroke-width="0.8" fill="none" stroke-linejoin="round"/>
<rect x="539.5" y="516.8" width="3.5" height="3.5" fill="#000"/>
<rect x="549.5" y="516.8" width="3.5" height="3.5" fill="#000"/>
<rect x="559.5" y="511.5" width="3.5" height="3.5" fill="#000"/>
<rect x="569.6" y="483.3" width="3.5" height="3.5" fill="#000"/>
<rect x="579.6" y="446.7" width="3.5" height="3.5" fill="#000"/>
<rect x="589.6" y="425.8" width="3.5" height="3.5" fill="#000"/>
<rect x="599.6" y="417.5" width="3.5" height="3.5" fill="#000"/>
<rect x="609.7" y="413.3" width="3.5" height="3.5" fill="#000"/>
<rect x="619.7" y="412.2" width="3.5" height="3.5" fill="#000"/>
<rect x="629.8" y="412.2" width="3.5" height="3.5" fill="#000"/>
<rect x="639.8" y="412.2" width="3.5" height="3.5" fill="#000"/>
<rect x="649.8" y="412.2" width="3.5" height="3.5" fill="#000"/>
<rect x="659.9" y="412.2" width="3.5" height="3.5" fill="#000"/>
<circle cx="541.2" cy="518.5" r="2" fill="#ff1d0d" stroke="none"/>
<circle cx="551.2" cy="518.5" r="2" fill="#ff1d0d" stroke="none"/>
<circle cx="561.3" cy="515.4" r="2" fill="#ff1d0d" stroke="none"/>
<circle cx="571.3" cy="489.2" r="2" fill="#ff1d0d" stroke="none"/>
<circle cx="581.3" cy="452.7" r="2" fill="#ff1d0d" stroke="none"/>
<circle cx="591.4" cy="428.6" r="2" fill="#ff1d0d" stroke="none"/>
<circle cx="601.4" cy="419.2" r="2" fill="#ff1d0d" stroke="none"/>
<circle cx="611.4" cy="416.1" r="2" fill="#ff1d0d" stroke="none"/>
<circle cx="621.5" cy="416.1" r="2" fill="#ff1d0d" stroke="none"/>
<circle cx="631.5" cy="416.1" r="2" fill="#ff1d0d" stroke="none"/>
<circle cx="641.5" cy="416.1" r="2" fill="#ff1d0d" stroke="none"/>
<circle cx="651.6" cy="417.1" r="2" fill="#ff1d0d" stroke="none"/>
<circle cx="661.6" cy="417.1" r="2" fill="#ff1d0d" stroke="none"/>
<text x="601.5" y="467.4" font-size="9.4" text-anchor="middle" fill="#000" transform="rotate(-90 601.5 467.4)">G/Gmax</text>
<text x="650.2" y="540.2" font-size="9.4" text-anchor="middle" fill="#000">voltage (mV)</text>
<path d="M324.9 668.6L461.9 668.6M412.8 668.6L412.8 555.5M334.3 668.6L334.3 671.2" stroke="#222" stroke-width="0.9" fill="none"/>
<text x="332.8" y="680.5" font-size="9.2" text-anchor="middle" fill="#000">-80</text>
<path d="M353.9 668.6L353.9 671.2" stroke="#222" stroke-width="0.9" fill="none"/>
<text x="352.4" y="680.5" font-size="9.2" text-anchor="middle" fill="#000">-60</text>
<path d="M373.5 668.6L373.5 671.2" stroke="#222" stroke-width="0.9" fill="none"/>
<text x="372" y="680.5" font-size="9.2" text-anchor="middle" fill="#000">-40</text>
<path d="M393.1 668.6L393.1 671.2" stroke="#222" stroke-width="0.9" fill="none"/>
<text x="391.6" y="680.5" font-size="9.2" text-anchor="middle" fill="#000">-20</text>
<path d="M412.8 668.6L412.8 671.2" stroke="#222" stroke-width="0.9" fill="none"/>
<text x="412.8" y="680.5" font-size="9.2" text-anchor="middle" fill="#000">0</text>
<path d="M432.4 668.6L432.4 671.2" stroke="#222" stroke-width="0.9" fill="none"/>
<text x="432.4" y="680.5" font-size="9.2" text-anchor="middle" fill="#000">20</text>
<path d="M452 668.6L452 671.2" stroke="#222" stroke-width="0.9" fill="none"/>
<text x="452" y="680.5" font-size="9.2" text-anchor="middle" fill="#000">40</text>
<path d="M344.1 668.6L344.1 670.1M363.7 668.6L363.7 670.1M383.3 668.6L383.3 670.1M403 668.6L403 670.1M422.6 668.6L422.6 670.1M442.2 668.6L442.2 670.1M412.8 656.2L410.2 656.2" stroke="#222" stroke-width="0.9" fill="none"/>
<text x="409.5" y="659.5" font-size="9.2" text-anchor="end" fill="#000">0.2</text>
<path d="M412.8 644L410.2 644" stroke="#222" stroke-width="0.9" fill="none"/>
<text x="409.5" y="647.3" font-size="9.2" text-anchor="end" fill="#000">0.4</text>
<path d="M412.8 631.8L410.2 631.8" stroke="#222" stroke-width="0.9" fill="none"/>
<text x="409.5" y="635.1" font-size="9.2" text-anchor="end" fill="#000">0.6</text>
<path d="M412.8 619.6L410.2 619.6" stroke="#222" stroke-width="0.9" fill="none"/>
<text x="409.5" y="623" font-size="9.2" text-anchor="end" fill="#000">0.8</text>
<path d="M412.8 607.5L410.2 607.5" stroke="#222" stroke-width="0.9" fill="none"/>
<text x="409.5" y="610.8" font-size="9.2" text-anchor="end" fill="#000">1.0</text>
<path d="M412.8 595.3L410.2 595.3" stroke="#222" stroke-width="0.9" fill="none"/>
<text x="409.5" y="598.6" font-size="9.2" text-anchor="end" fill="#000">1.2</text>
<path d="M412.8 583.1L410.2 583.1" stroke="#222" stroke-width="0.9" fill="none"/>
<text x="409.5" y="586.4" font-size="9.2" text-anchor="end" fill="#000">1.4</text>
<path d="M412.8 570.9L410.2 570.9" stroke="#222" stroke-width="0.9" fill="none"/>
<text x="409.5" y="574.2" font-size="9.2" text-anchor="end" fill="#000">1.6</text>
<path d="M412.8 558.7L410.2 558.7" stroke="#222" stroke-width="0.9" fill="none"/>
<text x="409.5" y="562" font-size="9.2" text-anchor="end" fill="#000">1.8</text>
<path d="M412.8 662.3L411.3 662.3M412.8 650.1L411.3 650.1M412.8 637.9L411.3 637.9M412.8 625.7L411.3 625.7M412.8 613.5L411.3 613.5M412.8 601.4L411.3 601.4M412.8 589.2L411.3 589.2M412.8 577L411.3 577M412.8 564.8L411.3 564.8" stroke="#222" stroke-width="0.9" fill="none"/>
<path d="M334.3 668.3 L336.3 668.2 L338.2 668.1 L340.2 668 L342.1 667.8 L344.1 667.5 L346.1 667.1 L348 666.5 L350 665.7 L352 664.6 L353.9 663.1 L355.9 661 L357.8 658.1 L359.8 654.3 L361.8 649.5 L363.7 643.5 L365.7 636.6 L367.6 629.1 L369.6 621.2 L371.6 613.6 L373.5 606.7 L375.5 600.8 L377.5 596 L379.4 592.2 L381.4 589.3 L383.3 587.2 L385.3 585.6 L387.3 584.5 L389.2 583.7 L391.2 583.2 L393.1 582.8 L395.1 582.5 L397.1 582.3 L399 582.2 L401 582.1 L403 582 L404.9 582 L406.9 581.9 L408.8 581.9 L410.8 581.9 L412.8 581.9 L414.7 581.9 L416.7 581.9 L418.7 581.9 L420.6 581.9 L422.6 581.9 L424.5 581.9 L426.5 581.9 L428.5 581.9 L430.4 581.9 L432.4 581.9 L434.3 581.9 L436.3 581.9 L438.3 581.9 L440.2 581.9 L442.2 581.9 L444.2 581.9 L446.1 581.9 L448.1 581.9 L450 581.9 L452 581.9" stroke="#000" stroke-width="0.8" fill="none" stroke-linejoin="round"/>
<path d="M334.3 668.3 L336.3 668.3 L338.2 668.2 L340.2 668.1 L342.1 668 L344.1 667.7 L346.1 667.4 L348 666.9 L350 666.2 L352 665.2 L353.9 663.7 L355.9 661.6 L357.8 658.6 L359.8 654.5 L361.8 649.1 L363.7 642.3 L365.7 634.3 L367.6 625.6 L369.6 616.6 L371.6 608.1 L373.5 600.7 L375.5 594.7 L377.5 589.9 L379.4 586.4 L381.4 583.9 L383.3 582.1 L385.3 580.8 L387.3 580 L389.2 579.4 L391.2 579 L393.1 578.7 L395.1 578.6 L397.1 578.4 L399 578.4 L401 578.3 L403 578.3 L404.9 578.3 L406.9 578.2 L408.8 578.2 L410.8 578.2 L412.8 578.2 L414.7 578.2 L416.7 578.2 L418.7 578.2 L420.6 578.2 L422.6 578.2 L424.5 578.2 L426.5 578.2 L428.5 578.2 L430.4 578.2 L432.4 578.2 L434.3 578.2 L436.3 578.2 L438.3 578.2 L440.2 578.2 L442.2 578.2 L444.2 578.2 L446.1 578.2 L448.1 578.2 L450 578.2 L452 578.2" stroke="#ff1d0d" stroke-width="0.8" fill="none" stroke-linejoin="round"/>
<path d="M353.9 664.1L353.9 665.4M352.5 664.1L355.3 664.1M352.5 665.4L355.3 665.4M363.7 641L363.7 645.9M362.3 641L365.1 641M362.3 645.9L365.1 645.9M373.5 605.6L373.5 617.8M372.1 605.6L374.9 605.6M372.1 617.8L374.9 617.8M383.3 585.5L383.3 600.1M381.9 585.5L384.7 585.5M381.9 600.1L384.7 600.1M393.1 573.9L393.1 593.4M391.8 573.9L394.5 573.9M391.8 593.4L394.5 593.4M403 569.7L403 590.4M401.6 569.7L404.4 569.7M401.6 590.4L404.4 590.4M412.8 569.7L412.8 590.4M411.4 569.7L414.2 569.7M411.4 590.4L414.2 590.4M422.6 568.5L422.6 590.4M421.2 568.5L424 568.5M421.2 590.4L424 590.4M432.4 569.1L432.4 591M431 569.1L433.8 569.1M431 591L433.8 591M442.2 570.3L442.2 592.2M440.8 570.3L443.6 570.3M440.8 592.2L443.6 592.2M452 570.9L452 592.8M450.6 570.9L453.4 570.9M450.6 592.8L453.4 592.8" stroke="#000" stroke-width="0.7" fill="none"/>
<rect x="332.6" y="666.6" width="3.5" height="3.5" fill="#000"/>
<rect x="342.4" y="666" width="3.5" height="3.5" fill="#000"/>
<rect x="352.2" y="663" width="3.5" height="3.5" fill="#000"/>
<rect x="362" y="641.7" width="3.5" height="3.5" fill="#000"/>
<rect x="371.8" y="610" width="3.5" height="3.5" fill="#000"/>
<rect x="381.6" y="591.1" width="3.5" height="3.5" fill="#000"/>
<rect x="391.4" y="581.9" width="3.5" height="3.5" fill="#000"/>
<rect x="401.2" y="578.3" width="3.5" height="3.5" fill="#000"/>
<rect x="411" y="578.3" width="3.5" height="3.5" fill="#000"/>
<rect x="420.8" y="577.7" width="3.5" height="3.5" fill="#000"/>
<rect x="430.6" y="578.3" width="3.5" height="3.5" fill="#000"/>
<rect x="440.4" y="579.5" width="3.5" height="3.5" fill="#000"/>
<rect x="450.2" y="580.1" width="3.5" height="3.5" fill="#000"/>
<path d="M353.9 664.1L353.9 665.4M352.5 664.1L355.3 664.1M352.5 665.4L355.3 665.4M363.7 640.4L363.7 645.2M362.3 640.4L365.1 640.4M362.3 645.2L365.1 645.2M373.5 602L373.5 614.2M372.1 602L374.9 602M372.1 614.2L374.9 614.2M383.3 580L383.3 595.9M381.9 580L384.7 580M381.9 595.9L384.7 595.9M393.1 567.2L393.1 589.2M391.8 567.2L394.5 567.2M391.8 589.2L394.5 589.2M403 561.7L403 584.9M401.6 561.7L404.4 561.7M401.6 584.9L404.4 584.9M412.8 564.8L412.8 586.7M411.4 564.8L414.2 564.8M411.4 586.7L414.2 586.7M422.6 564.8L422.6 586.7M421.2 564.8L424 564.8M421.2 586.7L424 586.7M432.4 564.2L432.4 586.1M431 564.2L433.8 564.2M431 586.1L433.8 586.1M442.2 565.4L442.2 587.3M440.8 565.4L443.6 565.4M440.8 587.3L443.6 587.3M452 566L452 588M450.6 566L453.4 566M450.6 588L453.4 588" stroke="#ff1d0d" stroke-width="0.7" fill="none"/>
<circle cx="334.3" cy="668.4" r="2" fill="#ff1d0d" stroke="none"/>
<circle cx="344.1" cy="667.8" r="2" fill="#ff1d0d" stroke="none"/>
<circle cx="353.9" cy="664.7" r="2" fill="#ff1d0d" stroke="none"/>
<circle cx="363.7" cy="642.8" r="2" fill="#ff1d0d" stroke="none"/>
<circle cx="373.5" cy="608.1" r="2" fill="#ff1d0d" stroke="none"/>
<circle cx="383.3" cy="588" r="2" fill="#ff1d0d" stroke="none"/>
<circle cx="393.1" cy="578.2" r="2" fill="#ff1d0d" stroke="none"/>
<circle cx="403" cy="573.3" r="2" fill="#ff1d0d" stroke="none"/>
<circle cx="412.8" cy="575.8" r="2" fill="#ff1d0d" stroke="none"/>
<circle cx="422.6" cy="575.8" r="2" fill="#ff1d0d" stroke="none"/>
<circle cx="432.4" cy="575.2" r="2" fill="#ff1d0d" stroke="none"/>
<circle cx="442.2" cy="576.4" r="2" fill="#ff1d0d" stroke="none"/>
<circle cx="452" cy="577" r="2" fill="#ff1d0d" stroke="none"/>
<text x="392.5" y="635.6" font-size="9.4" text-anchor="middle" fill="#000" transform="rotate(-90 392.5 635.6)"><tspan font-style="italic">I</tspan> (µA)</text>
<text x="437.2" y="691" font-size="9.4" text-anchor="middle" fill="#000">voltage (mV)</text>
<path d="M446.5 617.4L470.4 617.4" stroke="#000" stroke-width="0.9" fill="none"/>
<rect x="455.6" y="614.6" width="5.5" height="5.5" fill="#000"/>
<text x="477.6" y="620.8" font-size="9.4" text-anchor="start" fill="#000">Control</text>
<path d="M446.5 629.4L470.4 629.4" stroke="#ff1d0d" stroke-width="0.9" fill="none"/>
<circle cx="458.4" cy="629.4" r="3.3" fill="#ff1d0d" stroke="none"/>
<text x="477.6" y="632.8" font-size="9.4" text-anchor="start" fill="#000">100 µM</text>
<text x="446.4" y="645.3" font-size="9.4" text-anchor="start" fill="#000">protocatechuic acid</text>
<path d="M526.7 668L673 668M621.2 668L621.2 556M536.9 668L536.9 670.6" stroke="#222" stroke-width="0.9" fill="none"/>
<text x="535.4" y="679.8" font-size="9.2" text-anchor="middle" fill="#000">-80</text>
<path d="M558 668L558 670.6" stroke="#222" stroke-width="0.9" fill="none"/>
<text x="556.5" y="679.8" font-size="9.2" text-anchor="middle" fill="#000">-60</text>
<path d="M579 668L579 670.6" stroke="#222" stroke-width="0.9" fill="none"/>
<text x="577.5" y="679.8" font-size="9.2" text-anchor="middle" fill="#000">-40</text>
<path d="M600.1 668L600.1 670.6" stroke="#222" stroke-width="0.9" fill="none"/>
<text x="598.6" y="679.8" font-size="9.2" text-anchor="middle" fill="#000">-20</text>
<path d="M621.2 668L621.2 670.6" stroke="#222" stroke-width="0.9" fill="none"/>
<text x="621.2" y="679.8" font-size="9.2" text-anchor="middle" fill="#000">0</text>
<path d="M642.2 668L642.2 670.6" stroke="#222" stroke-width="0.9" fill="none"/>
<text x="642.2" y="679.8" font-size="9.2" text-anchor="middle" fill="#000">20</text>
<path d="M663.3 668L663.3 670.6" stroke="#222" stroke-width="0.9" fill="none"/>
<text x="663.3" y="679.8" font-size="9.2" text-anchor="middle" fill="#000">40</text>
<path d="M547.4 668L547.4 669.5M568.5 668L568.5 669.5M589.6 668L589.6 669.5M610.6 668L610.6 669.5M631.7 668L631.7 669.5M652.8 668L652.8 669.5M621.2 645.8L618.6 645.8" stroke="#222" stroke-width="0.9" fill="none"/>
<text x="617.5" y="649.2" font-size="9.2" text-anchor="end" fill="#000">0.2</text>
<path d="M621.2 624L618.6 624" stroke="#222" stroke-width="0.9" fill="none"/>
<text x="617.5" y="627.3" font-size="9.2" text-anchor="end" fill="#000">0.4</text>
<path d="M621.2 602.1L618.6 602.1" stroke="#222" stroke-width="0.9" fill="none"/>
<text x="617.5" y="605.4" font-size="9.2" text-anchor="end" fill="#000">0.6</text>
<path d="M621.2 580.3L618.6 580.3" stroke="#222" stroke-width="0.9" fill="none"/>
<text x="617.5" y="583.6" font-size="9.2" text-anchor="end" fill="#000">0.8</text>
<path d="M621.2 558.4L618.6 558.4" stroke="#222" stroke-width="0.9" fill="none"/>
<text x="617.5" y="561.7" font-size="9.2" text-anchor="end" fill="#000">1.0</text>
<path d="M621.2 656.8L619.7 656.8M621.2 634.9L619.7 634.9M621.2 613L619.7 613M621.2 591.2L619.7 591.2M621.2 569.3L619.7 569.3" stroke="#222" stroke-width="0.9" fill="none"/>
<path d="M536.9 667.3 L539 667.2 L541.1 667 L543.2 666.8 L545.3 666.4 L547.4 666 L549.5 665.3 L551.6 664.4 L553.8 663.2 L555.9 661.6 L558 659.5 L560.1 656.7 L562.2 653.1 L564.3 648.5 L566.4 642.8 L568.5 636.1 L570.6 628.5 L572.7 620.1 L574.8 611.4 L576.9 602.8 L579 594.8 L581.1 587.6 L583.2 581.4 L585.4 576.3 L587.5 572.2 L589.6 569 L591.7 566.6 L593.8 564.7 L595.9 563.3 L598 562.3 L600.1 561.5 L602.2 561 L604.3 560.6 L606.4 560.3 L608.5 560.1 L610.6 559.9 L612.7 559.8 L614.8 559.7 L617 559.7 L619.1 559.6 L621.2 559.6 L623.3 559.6 L625.4 559.5 L627.5 559.5 L629.6 559.5 L631.7 559.5 L633.8 559.5 L635.9 559.5 L638 559.5 L640.1 559.5 L642.2 559.5 L644.3 559.5 L646.4 559.5 L648.6 559.5 L650.7 559.5 L652.8 559.5 L654.9 559.5 L657 559.5 L659.1 559.5 L661.2 559.5 L663.3 559.5" stroke="#000" stroke-width="0.8" fill="none" stroke-linejoin="round"/>
<path d="M536.9 667.3 L539 667.2 L541.1 667 L543.2 666.7 L545.3 666.4 L547.4 665.9 L549.5 665.2 L551.6 664.3 L553.8 663 L555.9 661.4 L558 659.2 L560.1 656.3 L562.2 652.5 L564.3 647.8 L566.4 642 L568.5 635.2 L570.6 627.5 L572.7 619.1 L574.8 610.4 L576.9 601.9 L579 594 L581.1 587 L583.2 581 L585.4 576.1 L587.5 572.2 L589.6 569.1 L591.7 566.8 L593.8 565 L595.9 563.7 L598 562.7 L600.1 562 L602.2 561.4 L604.3 561.1 L606.4 560.8 L608.5 560.6 L610.6 560.4 L612.7 560.3 L614.8 560.2 L617 560.2 L619.1 560.1 L621.2 560.1 L623.3 560.1 L625.4 560.1 L627.5 560.1 L629.6 560.1 L631.7 560.1 L633.8 560.1 L635.9 560 L638 560 L640.1 560 L642.2 560 L644.3 560 L646.4 560 L648.6 560 L650.7 560 L652.8 560 L654.9 560 L657 560 L659.1 560 L661.2 560 L663.3 560" stroke="#ff1d0d" stroke-width="0.8" fill="none" stroke-linejoin="round"/>
<rect x="535.1" y="666" width="3.5" height="3.5" fill="#000"/>
<rect x="545.7" y="664.9" width="3.5" height="3.5" fill="#000"/>
<rect x="556.2" y="662.7" width="3.5" height="3.5" fill="#000"/>
<rect x="566.8" y="635.3" width="3.5" height="3.5" fill="#000"/>
<rect x="577.3" y="596" width="3.5" height="3.5" fill="#000"/>
<rect x="587.8" y="573" width="3.5" height="3.5" fill="#000"/>
<rect x="598.3" y="562.1" width="3.5" height="3.5" fill="#000"/>
<rect x="608.9" y="558.8" width="3.5" height="3.5" fill="#000"/>
<rect x="619.4" y="557.7" width="3.5" height="3.5" fill="#000"/>
<rect x="629.9" y="556.6" width="3.5" height="3.5" fill="#000"/>
<rect x="640.5" y="557.7" width="3.5" height="3.5" fill="#000"/>
<rect x="651" y="557.7" width="3.5" height="3.5" fill="#000"/>
<rect x="661.5" y="558.8" width="3.5" height="3.5" fill="#000"/>
<circle cx="536.9" cy="667.7" r="2" fill="#ff1d0d" stroke="none"/>
<circle cx="547.4" cy="666.6" r="2" fill="#ff1d0d" stroke="none"/>
<circle cx="558" cy="664.4" r="2" fill="#ff1d0d" stroke="none"/>
<circle cx="568.5" cy="637.1" r="2" fill="#ff1d0d" stroke="none"/>
<circle cx="579" cy="598.8" r="2" fill="#ff1d0d" stroke="none"/>
<circle cx="589.6" cy="574.8" r="2" fill="#ff1d0d" stroke="none"/>
<circle cx="600.1" cy="562.8" r="2" fill="#ff1d0d" stroke="none"/>
<circle cx="610.6" cy="558.4" r="2" fill="#ff1d0d" stroke="none"/>
<circle cx="621.2" cy="560.6" r="2" fill="#ff1d0d" stroke="none"/>
<circle cx="631.7" cy="560.6" r="2" fill="#ff1d0d" stroke="none"/>
<circle cx="642.2" cy="559.5" r="2" fill="#ff1d0d" stroke="none"/>
<circle cx="652.8" cy="560.6" r="2" fill="#ff1d0d" stroke="none"/>
<circle cx="663.3" cy="561.7" r="2" fill="#ff1d0d" stroke="none"/>
<text x="599.1" y="616.2" font-size="9.4" text-anchor="middle" fill="#000" transform="rotate(-90 599.1 616.2)">G/Gmax</text>
<text x="647.7" y="689.5" font-size="9.4" text-anchor="middle" fill="#000">voltage (mV)</text>
<text x="37.3" y="728.1" font-size="18.8" text-anchor="start" fill="#000">j</text>
<text x="13.3" y="791" font-size="17.0" text-anchor="middle" fill="#000" transform="rotate(-90 13.3 791)" textLength="45.3" lengthAdjust="spacingAndGlyphs">Kv7.3*</text>
<text x="63" y="738" font-size="9.4" text-anchor="start" fill="#000" transform="translate(63 738) scale(1 1.16) translate(-63 -738)">Control</text>
<text x="198.3" y="711.5" font-size="9.4" text-anchor="start" fill="#3daa60" transform="translate(198.3 711.5) scale(1 1.16) translate(-198.3 -711.5)">10 nM GA</text>
<path d="M43.4 820.6L282 820.6" stroke="#222" stroke-width="1.0" fill="none" stroke-dasharray="1.4 1.9"/>
<path d="M35.5 824L104.2 824" stroke="#000" stroke-width="3.5" fill="none"/>
<path d="M43.4 740.5L43.4 840.4" stroke="#000" stroke-width="0.9" fill="none"/>
<path d="M43.4 822.5 L45.6 792.3 L47.7 770 L49.9 758 L52.1 751.9 L54.3 748.9 L56.4 747.4 L58.6 746.7 L60.8 746.3 L62.9 746.1 L65.1 746 L67.3 745.9 L69.5 745.9 L71.6 745.8 L73.8 745.8 L76 745.8 L78.1 745.7 L80.3 745.7 L82.5 745.7 L84.7 745.6 L86.8 745.6 L89 745.6 L91.2 745.6 L93.3 745.5 L95.5 745.5 L97.7 745.5 L99.9 745.5 L102 745.4 L104.2 745.4" stroke="#000" stroke-width="1.4300000000000002" fill="none" stroke-linejoin="round"/>
<path d="M43.4 822.5 L45.6 803.4 L47.7 786.2 L49.9 774.7 L52.1 767.6 L54.3 763.3 L56.4 760.8 L58.6 759.2 L60.8 758.3 L62.9 757.8 L65.1 757.5 L67.3 757.3 L69.5 757.1 L71.6 757 L73.8 757 L76 756.9 L78.1 756.9 L80.3 756.9 L82.5 756.8 L84.7 756.8 L86.8 756.8 L89 756.8 L91.2 756.7 L93.3 756.7 L95.5 756.7 L97.7 756.7 L99.9 756.6 L102 756.6 L104.2 756.6" stroke="#000" stroke-width="1.4300000000000002" fill="none" stroke-linejoin="round"/>
<path d="M43.4 822.5 L45.6 812.2 L47.7 800.9 L49.9 791.8 L52.1 785 L54.3 780 L56.4 776.5 L58.6 773.9 L60.8 772.2 L62.9 770.9 L65.1 770 L67.3 769.4 L69.5 769 L71.6 768.7 L73.8 768.4 L76 768.3 L78.1 768.2 L80.3 768.1 L82.5 768 L84.7 767.9 L86.8 767.9 L89 767.9 L91.2 767.8 L93.3 767.8 L95.5 767.8 L97.7 767.8 L99.9 767.7 L102 767.7 L104.2 767.7" stroke="#000" stroke-width="1.4300000000000002" fill="none" stroke-linejoin="round"/>
<path d="M43.4 822.5 L45.6 817.1 L47.7 810.5 L49.9 804.5 L52.1 799.4 L54.3 795.2 L56.4 791.8 L58.6 789.1 L60.8 786.9 L62.9 785.3 L65.1 783.9 L67.3 782.9 L69.5 782.1 L71.6 781.4 L73.8 780.9 L76 780.5 L78.1 780.2 L80.3 780 L82.5 779.8 L84.7 779.7 L86.8 779.5 L89 779.4 L91.2 779.4 L93.3 779.3 L95.5 779.2 L97.7 779.2 L99.9 779.2 L102 779.1 L104.2 779.1" stroke="#000" stroke-width="1.4300000000000002" fill="none" stroke-linejoin="round"/>
<path d="M43.4 822.5 L45.6 819.9 L47.7 816.5 L49.9 813 L52.1 809.9 L54.3 807.1 L56.4 804.6 L58.6 802.5 L60.8 800.7 L62.9 799.2 L65.1 797.9 L67.3 796.8 L69.5 795.9 L71.6 795.1 L73.8 794.4 L76 793.9 L78.1 793.4 L80.3 793 L82.5 792.7 L84.7 792.4 L86.8 792.2 L89 792 L91.2 791.9 L93.3 791.7 L95.5 791.6 L97.7 791.5 L99.9 791.4 L102 791.4 L104.2 791.3" stroke="#000" stroke-width="1.4300000000000002" fill="none" stroke-linejoin="round"/>
<path d="M43.4 822.5 L45.6 821.6 L47.7 820.4 L49.9 819.1 L52.1 817.8 L54.3 816.6 L56.4 815.5 L58.6 814.5 L60.8 813.6 L62.9 812.7 L65.1 812 L67.3 811.3 L69.5 810.7 L71.6 810.2 L73.8 809.7 L76 809.3 L78.1 808.9 L80.3 808.6 L82.5 808.3 L84.7 808 L86.8 807.8 L89 807.6 L91.2 807.4 L93.3 807.2 L95.5 807.1 L97.7 807 L99.9 806.9 L102 806.8 L104.2 806.7" stroke="#000" stroke-width="1.4300000000000002" fill="none" stroke-linejoin="round"/>
<path d="M43.4 822.5 L45.6 822.3 L47.7 822.1 L49.9 821.8 L52.1 821.5 L54.3 821.3 L56.4 821 L58.6 820.8 L60.8 820.5 L62.9 820.3 L65.1 820.1 L67.3 820 L69.5 819.8 L71.6 819.6 L73.8 819.5 L76 819.4 L78.1 819.3 L80.3 819.2 L82.5 819.1 L84.7 819 L86.8 818.9 L89 818.8 L91.2 818.8 L93.3 818.7 L95.5 818.7 L97.7 818.6 L99.9 818.6 L102 818.5 L104.2 818.5" stroke="#000" stroke-width="1.4300000000000002" fill="none" stroke-linejoin="round"/>
<path d="M43.4 822.5 L45.6 822.5 L47.7 822.4 L49.9 822.3 L52.1 822.3 L54.3 822.2 L56.4 822.1 L58.6 822.1 L60.8 822 L62.9 822 L65.1 821.9 L67.3 821.9 L69.5 821.8 L71.6 821.8 L73.8 821.8 L76 821.7 L78.1 821.7 L80.3 821.7 L82.5 821.7 L84.7 821.6 L86.8 821.6 L89 821.6 L91.2 821.6 L93.3 821.6 L95.5 821.5 L97.7 821.5 L99.9 821.5 L102 821.5 L104.2 821.5" stroke="#000" stroke-width="1.4300000000000002" fill="none" stroke-linejoin="round"/>
<path d="M43.4 822.5 L45.6 822.5 L47.7 822.5 L49.9 822.5 L52.1 822.5 L54.3 822.4 L56.4 822.4 L58.6 822.4 L60.8 822.4 L62.9 822.4 L65.1 822.4 L67.3 822.4 L69.5 822.4 L71.6 822.4 L73.8 822.4 L76 822.3 L78.1 822.3 L80.3 822.3 L82.5 822.3 L84.7 822.3 L86.8 822.3 L89 822.3 L91.2 822.3 L93.3 822.3 L95.5 822.3 L97.7 822.3 L99.9 822.3 L102 822.3 L104.2 822.3" stroke="#000" stroke-width="1.4300000000000002" fill="none" stroke-linejoin="round"/>
<path d="M43.4 822.5 L45.6 822.5 L47.7 822.5 L49.9 822.5 L52.1 822.5 L54.3 822.5 L56.4 822.5 L58.6 822.5 L60.8 822.5 L62.9 822.5 L65.1 822.5 L67.3 822.5 L69.5 822.5 L71.6 822.5 L73.8 822.5 L76 822.5 L78.1 822.5 L80.3 822.5 L82.5 822.5 L84.7 822.5 L86.8 822.5 L89 822.5 L91.2 822.5 L93.3 822.5 L95.5 822.5 L97.7 822.5 L99.9 822.5 L102 822.5 L104.2 822.5" stroke="#000" stroke-width="1.4300000000000002" fill="none" stroke-linejoin="round"/>
<path d="M43.4 822.5 L45.6 822.5 L47.7 822.5 L49.9 822.5 L52.1 822.5 L54.3 822.5 L56.4 822.5 L58.6 822.5 L60.8 822.5 L62.9 822.5 L65.1 822.5 L67.3 822.5 L69.5 822.5 L71.6 822.5 L73.8 822.5 L76 822.5 L78.1 822.5 L80.3 822.5 L82.5 822.5 L84.7 822.5 L86.8 822.5 L89 822.5 L91.2 822.5 L93.3 822.5 L95.5 822.5 L97.7 822.5 L99.9 822.5 L102 822.5 L104.2 822.5" stroke="#000" stroke-width="1.4300000000000002" fill="none" stroke-linejoin="round"/>
<path d="M43.4 822.5 L45.6 822.5 L47.7 822.5 L49.9 822.5 L52.1 822.5 L54.3 822.5 L56.4 822.5 L58.6 822.5 L60.8 822.5 L62.9 822.5 L65.1 822.5 L67.3 822.5 L69.5 822.5 L71.6 822.5 L73.8 822.5 L76 822.5 L78.1 822.5 L80.3 822.5 L82.5 822.5 L84.7 822.5 L86.8 822.5 L89 822.5 L91.2 822.5 L93.3 822.5 L95.5 822.5 L97.7 822.5 L99.9 822.5 L102 822.5 L104.2 822.5" stroke="#000" stroke-width="1.4300000000000002" fill="none" stroke-linejoin="round"/>
<path d="M43.4 822.5 L45.6 822.5 L47.7 822.5 L49.9 822.5 L52.1 822.5 L54.3 822.5 L56.4 822.5 L58.6 822.5 L60.8 822.5 L62.9 822.5 L65.1 822.5 L67.3 822.5 L69.5 822.5 L71.6 822.5 L73.8 822.5 L76 822.5 L78.1 822.5 L80.3 822.5 L82.5 822.5 L84.7 822.5 L86.8 822.5 L89 822.5 L91.2 822.5 L93.3 822.5 L95.5 822.5 L97.7 822.5 L99.9 822.5 L102 822.5 L104.2 822.5" stroke="#000" stroke-width="1.4300000000000002" fill="none" stroke-linejoin="round"/>
<path d="M104.2 778 L105.6 778.1 L107.1 778.2 L108.5 778.2 L109.9 778.3 L111.4 778.3 L112.8 778.3 L114.2 778.3 L115.7 778.3 L117.1 778.3 L118.6 778.3 L120 778.3 L121.4 778.3 L122.9 778.3 L124.3 778.3 L124.3 781.5 L122.9 781.5 L121.4 781.5 L120 781.5 L118.6 781.5 L117.1 781.5 L115.7 781.5 L114.2 781.5 L112.8 781.5 L111.4 781.5 L109.9 781.5 L108.5 781.5 L107.1 781.5 L105.6 781.5 L104.2 781.5Z" stroke="#000" stroke-width="0.6" fill="#000" stroke-linejoin="round"/>
<path d="M104.2 791.3 L105.5 788.7 L106.7 786.4 L108 784.6 L109.2 783.4 L110.5 782.6 L111.7 782.1 L113 781.7 L114.2 781.5 L115.5 781.3 L116.8 781.2 L118 781.1 L119.3 781.1 L120.5 781.1 L121.8 781 L123 781 L124.3 781" stroke="#000" stroke-width="1.5210000000000001" fill="none" stroke-linejoin="round"/>
<path d="M104.2 806.7 L105.5 802.9 L106.7 797.9 L108 793.5 L109.2 790.1 L110.5 787.5 L111.7 785.6 L113 784.3 L114.2 783.3 L115.5 782.6 L116.8 782.1 L118 781.8 L119.3 781.6 L120.5 781.4 L121.8 781.3 L123 781.2 L124.3 781.1" stroke="#000" stroke-width="1.638" fill="none" stroke-linejoin="round"/>
<path d="M104.2 822 L105.5 819.7 L106.7 814.4 L108 808.3 L109.2 802.6 L110.5 797.8 L111.7 793.8 L113 790.7 L114.2 788.4 L115.5 786.6 L116.8 785.3 L118 784.3 L119.3 783.5 L120.5 783 L121.8 782.6 L123 782.3 L124.3 782.1" stroke="#000" stroke-width="1.7550000000000001" fill="none" stroke-linejoin="round"/>
<path d="M104.2 822 L105.5 820.2 L106.7 815.8 L108 810.5 L109.2 805.3 L110.5 800.6 L111.7 796.7 L113 793.4 L114.2 790.8 L115.5 788.8 L116.8 787.2 L118 786 L119.3 785 L120.5 784.3 L121.8 783.7 L123 783.3 L124.3 783" stroke="#000" stroke-width="1.7550000000000001" fill="none" stroke-linejoin="round"/>
<path d="M104.2 822 L105.5 820.6 L106.7 816.9 L108 812.3 L109.2 807.5 L110.5 803.1 L111.7 799.2 L113 795.9 L114.2 793.2 L115.5 791 L116.8 789.2 L118 787.8 L119.3 786.6 L120.5 785.7 L121.8 785 L123 784.5 L124.3 784" stroke="#000" stroke-width="1.7550000000000001" fill="none" stroke-linejoin="round"/>
<path d="M104.2 740.5L104.2 826" stroke="#555" stroke-width="0.8" fill="none"/>
<path d="M124.3 780L124.3 840.4" stroke="#555" stroke-width="0.9" fill="none"/>
<path d="M124.3 824 L125.1 823.8 L125.9 823.6 L126.7 823.5 L127.5 823.4 L128.3 823.3 L129.1 823.2 L129.9 823.1 L130.7 823 L131.5 822.9 L132.3 822.9 L133.1 822.8 L133.9 822.8 L134.7 822.8 L135.5 822.7 L136.3 822.7 L137.1 822.7 L137.1 823.2 L136.3 823.3 L135.5 823.5 L134.7 823.7 L133.9 823.9 L133.1 824.2 L132.3 824.5 L131.5 824.9 L130.7 825.4 L129.9 826 L129.1 826.6 L128.3 827.4 L127.5 828.4 L126.7 829.5 L125.9 830.9 L125.1 832.5 L124.3 834.5Z" stroke="#000" stroke-width="0.6" fill="#000" stroke-linejoin="round"/>
<path d="M173.9 823.3L246.2 823.3" stroke="#40ff0a" stroke-width="4.2" fill="none"/>
<path d="M182.7 700.5L182.7 859.2" stroke="#40ff0a" stroke-width="0.9" fill="none"/>
<path d="M182.7 822 L185 779.1 L187.2 748.5 L189.5 732.6 L191.8 724.8 L194 721.1 L196.3 719.3 L198.6 718.4 L200.8 718 L203.1 717.8 L205.4 717.7 L207.6 717.6 L209.9 717.5 L212.2 717.5 L214.4 717.4 L216.7 717.4 L219 717.4 L221.3 717.3 L223.5 717.3 L225.8 717.2 L228.1 717.2 L230.3 717.2 L232.6 717.1 L234.9 717.1 L237.1 717.1 L239.4 717 L241.7 717 L243.9 716.9 L246.2 716.9" stroke="#40ff0a" stroke-width="1.56" fill="none" stroke-linejoin="round"/>
<path d="M182.7 822 L185 794.3 L187.2 770.1 L189.5 754.5 L191.8 745.2 L194 739.7 L196.3 736.6 L198.6 734.7 L200.8 733.7 L203.1 733.1 L205.4 732.7 L207.6 732.5 L209.9 732.4 L212.2 732.3 L214.4 732.2 L216.7 732.1 L219 732.1 L221.3 732.1 L223.5 732 L225.8 732 L228.1 732 L230.3 731.9 L232.6 731.9 L234.9 731.9 L237.1 731.8 L239.4 731.8 L241.7 731.8 L243.9 731.7 L246.2 731.7" stroke="#40ff0a" stroke-width="1.56" fill="none" stroke-linejoin="round"/>
<path d="M182.7 822 L185 807.2 L187.2 791.4 L189.5 778.9 L191.8 769.6 L194 763 L196.3 758.3 L198.6 755.1 L200.8 752.8 L203.1 751.3 L205.4 750.2 L207.6 749.4 L209.9 748.9 L212.2 748.5 L214.4 748.3 L216.7 748.1 L219 748 L221.3 747.9 L223.5 747.8 L225.8 747.7 L228.1 747.7 L230.3 747.6 L232.6 747.6 L234.9 747.5 L237.1 747.5 L239.4 747.5 L241.7 747.5 L243.9 747.4 L246.2 747.4" stroke="#40ff0a" stroke-width="1.56" fill="none" stroke-linejoin="round"/>
<path d="M182.7 822 L185 814.1 L187.2 804.6 L189.5 796.1 L191.8 788.9 L194 783.1 L196.3 778.5 L198.6 774.9 L200.8 772.1 L203.1 769.9 L205.4 768.2 L207.6 766.9 L209.9 765.9 L212.2 765.1 L214.4 764.5 L216.7 764.1 L219 763.7 L221.3 763.4 L223.5 763.2 L225.8 763 L228.1 762.9 L230.3 762.8 L232.6 762.7 L234.9 762.6 L237.1 762.6 L239.4 762.5 L241.7 762.5 L243.9 762.4 L246.2 762.4" stroke="#40ff0a" stroke-width="1.56" fill="none" stroke-linejoin="round"/>
<path d="M182.7 822 L185 817.7 L187.2 812 L189.5 806.5 L191.8 801.6 L194 797.4 L196.3 793.7 L198.6 790.6 L200.8 788.1 L203.1 785.9 L205.4 784.2 L207.6 782.7 L209.9 781.5 L212.2 780.5 L214.4 779.7 L216.7 779 L219 778.5 L221.3 778 L223.5 777.6 L225.8 777.3 L228.1 777.1 L230.3 776.9 L232.6 776.7 L234.9 776.5 L237.1 776.4 L239.4 776.3 L241.7 776.2 L243.9 776.2 L246.2 776.1" stroke="#40ff0a" stroke-width="1.56" fill="none" stroke-linejoin="round"/>
<path d="M182.7 822 L185 820 L187.2 817.3 L189.5 814.6 L191.8 811.9 L194 809.5 L196.3 807.3 L198.6 805.3 L200.8 803.6 L203.1 802.1 L205.4 800.7 L207.6 799.6 L209.9 798.6 L212.2 797.7 L214.4 796.9 L216.7 796.3 L219 795.7 L221.3 795.2 L223.5 794.8 L225.8 794.4 L228.1 794.1 L230.3 793.8 L232.6 793.6 L234.9 793.4 L237.1 793.2 L239.4 793 L241.7 792.9 L243.9 792.8 L246.2 792.7" stroke="#40ff0a" stroke-width="1.56" fill="none" stroke-linejoin="round"/>
<path d="M182.7 822 L185 821.5 L187.2 820.8 L189.5 820.1 L191.8 819.3 L194 818.6 L196.3 817.9 L198.6 817.3 L200.8 816.7 L203.1 816.2 L205.4 815.7 L207.6 815.2 L209.9 814.8 L212.2 814.5 L214.4 814.1 L216.7 813.8 L219 813.6 L221.3 813.3 L223.5 813.1 L225.8 812.9 L228.1 812.8 L230.3 812.6 L232.6 812.5 L234.9 812.4 L237.1 812.2 L239.4 812.1 L241.7 812.1 L243.9 812 L246.2 811.9" stroke="#40ff0a" stroke-width="1.56" fill="none" stroke-linejoin="round"/>
<path d="M182.7 822 L185 821.9 L187.2 821.8 L189.5 821.7 L191.8 821.5 L194 821.4 L196.3 821.3 L198.6 821.2 L200.8 821.1 L203.1 821 L205.4 820.9 L207.6 820.8 L209.9 820.7 L212.2 820.6 L214.4 820.6 L216.7 820.5 L219 820.5 L221.3 820.4 L223.5 820.4 L225.8 820.3 L228.1 820.3 L230.3 820.3 L232.6 820.2 L234.9 820.2 L237.1 820.2 L239.4 820.2 L241.7 820.1 L243.9 820.1 L246.2 820.1" stroke="#40ff0a" stroke-width="1.56" fill="none" stroke-linejoin="round"/>
<path d="M182.7 822 L185 822 L187.2 822 L189.5 822 L191.8 822 L194 822 L196.3 822 L198.6 822 L200.8 822 L203.1 822 L205.4 822 L207.6 822 L209.9 822 L212.2 822 L214.4 822 L216.7 822 L219 822 L221.3 822 L223.5 822 L225.8 822 L228.1 822 L230.3 822 L232.6 822 L234.9 822 L237.1 822 L239.4 822 L241.7 822 L243.9 822 L246.2 822" stroke="#40ff0a" stroke-width="1.56" fill="none" stroke-linejoin="round"/>
<path d="M182.7 822 L185 822 L187.2 822 L189.5 822 L191.8 822 L194 822 L196.3 822 L198.6 822 L200.8 822 L203.1 822 L205.4 822 L207.6 822 L209.9 822 L212.2 822 L214.4 822 L216.7 822 L219 822 L221.3 822 L223.5 822 L225.8 822 L228.1 822 L230.3 822 L232.6 822 L234.9 822 L237.1 822 L239.4 822 L241.7 822 L243.9 822 L246.2 822" stroke="#40ff0a" stroke-width="1.56" fill="none" stroke-linejoin="round"/>
<path d="M182.7 822 L185 822 L187.2 822 L189.5 822 L191.8 822 L194 822 L196.3 822 L198.6 822 L200.8 822 L203.1 822 L205.4 822 L207.6 822 L209.9 822 L212.2 822 L214.4 822 L216.7 822 L219 822 L221.3 822 L223.5 822 L225.8 822 L228.1 822 L230.3 822 L232.6 822 L234.9 822 L237.1 822 L239.4 822 L241.7 822 L243.9 822 L246.2 822" stroke="#40ff0a" stroke-width="1.56" fill="none" stroke-linejoin="round"/>
<path d="M182.7 822 L185 822 L187.2 822 L189.5 822 L191.8 822 L194 822 L196.3 822 L198.6 822 L200.8 822 L203.1 822 L205.4 822 L207.6 822 L209.9 822 L212.2 822 L214.4 822 L216.7 822 L219 822 L221.3 822 L223.5 822 L225.8 822 L228.1 822 L230.3 822 L232.6 822 L234.9 822 L237.1 822 L239.4 822 L241.7 822 L243.9 822 L246.2 822" stroke="#40ff0a" stroke-width="1.56" fill="none" stroke-linejoin="round"/>
<path d="M182.7 822 L185 822 L187.2 822 L189.5 822 L191.8 822 L194 822 L196.3 822 L198.6 822 L200.8 822 L203.1 822 L205.4 822 L207.6 822 L209.9 822 L212.2 822 L214.4 822 L216.7 822 L219 822 L221.3 822 L223.5 822 L225.8 822 L228.1 822 L230.3 822 L232.6 822 L234.9 822 L237.1 822 L239.4 822 L241.7 822 L243.9 822 L246.2 822" stroke="#40ff0a" stroke-width="1.56" fill="none" stroke-linejoin="round"/>
<path d="M246.2 761 L247.7 761.2 L249.2 761.3 L250.7 761.4 L252.2 761.4 L253.7 761.5 L255.2 761.5 L256.6 761.5 L258.1 761.5 L259.6 761.5 L261.1 761.5 L262.6 761.5 L264.1 761.5 L265.6 761.5 L267.1 761.5 L267.1 765 L265.6 765 L264.1 765 L262.6 765 L261.1 765 L259.6 765 L258.1 765 L256.6 765 L255.2 765 L253.7 765 L252.2 765 L250.7 765 L249.2 765 L247.7 765 L246.2 765Z" stroke="#40ff0a" stroke-width="0.6" fill="#40ff0a" stroke-linejoin="round"/>
<path d="M246.2 776 L247.5 772.9 L248.8 770.1 L250.1 768 L251.4 766.7 L252.7 765.7 L254 765.1 L255.3 764.7 L256.6 764.5 L258 764.3 L259.3 764.2 L260.6 764.1 L261.9 764.1 L263.2 764.1 L264.5 764 L265.8 764 L267.1 764" stroke="#40ff0a" stroke-width="1.5210000000000001" fill="none" stroke-linejoin="round"/>
<path d="M246.2 792.7 L247.5 788.3 L248.8 782.6 L250.1 777.7 L251.4 773.9 L252.7 771.2 L254 769.2 L255.3 767.7 L256.6 766.7 L258 766.1 L259.3 765.6 L260.6 765.2 L261.9 765 L263.2 764.9 L264.5 764.7 L265.8 764.7 L267.1 764.6" stroke="#40ff0a" stroke-width="1.638" fill="none" stroke-linejoin="round"/>
<path d="M246.2 811.9 L247.5 808.3 L248.8 801.1 L250.1 793.6 L251.4 787 L252.7 781.5 L254 777.3 L255.3 774.1 L256.6 771.6 L258 769.8 L259.3 768.5 L260.6 767.5 L261.9 766.8 L263.2 766.3 L264.5 766 L265.8 765.7 L267.1 765.5" stroke="#40ff0a" stroke-width="1.7550000000000001" fill="none" stroke-linejoin="round"/>
<path d="M246.2 821 L247.5 818.3 L248.8 811.8 L250.1 804 L251.4 796.5 L252.7 789.9 L254 784.3 L255.3 779.9 L256.6 776.4 L258 773.6 L259.3 771.5 L260.6 769.9 L261.9 768.7 L263.2 767.8 L264.5 767.1 L265.8 766.6 L267.1 766.2" stroke="#40ff0a" stroke-width="1.7550000000000001" fill="none" stroke-linejoin="round"/>
<path d="M246.2 821 L247.5 818.8 L248.8 813.3 L250.1 806.5 L251.4 799.6 L252.7 793.3 L254 787.8 L255.3 783.2 L256.6 779.5 L258 776.5 L259.3 774.1 L260.6 772.2 L261.9 770.7 L263.2 769.5 L264.5 768.6 L265.8 767.9 L267.1 767.4" stroke="#40ff0a" stroke-width="1.7550000000000001" fill="none" stroke-linejoin="round"/>
<path d="M246.2 700.5L246.2 820" stroke="#80ff60" stroke-width="0.8" fill="none"/>
<path d="M267.1 763L267.1 859.2" stroke="#80ff60" stroke-width="0.9" fill="none"/>
<path d="M267.1 823.5 L268 823.3 L268.9 823.1 L269.7 823 L270.6 822.8 L271.5 822.7 L272.4 822.6 L273.2 822.5 L274.1 822.5 L275 822.4 L275.9 822.3 L276.7 822.3 L277.6 822.2 L278.5 822.2 L279.4 822.2 L280.2 822.2 L281.1 822.1 L281.1 822.9 L280.2 823.1 L279.4 823.3 L278.5 823.6 L277.6 823.9 L276.7 824.4 L275.9 824.9 L275 825.5 L274.1 826.2 L273.2 827.1 L272.4 828.2 L271.5 829.6 L270.6 831.2 L269.7 833.2 L268.9 835.6 L268 838.5 L267.1 842Z" stroke="#40ff0a" stroke-width="0.6" fill="#40ff0a" stroke-linejoin="round"/>
<rect x="129.8" y="719.2" width="46.4" height="90.7" stroke="#88d2f4" stroke-width="1.5" fill="none"/>
<path d="M136.8 802.5L169.4 802.5" stroke="#333" stroke-width="0.8" fill="none" stroke-dasharray="1.2 1.6"/>
<path d="M133.9 725.2 L135.2 725.3 L136.4 725.3 L137.7 725.4 L139 725.4 L140.3 725.5 L141.5 725.5 L142.8 725.5 L144.1 725.5 L145.4 725.5 L146.6 725.6 L147.9 725.6 L149.2 725.6 L150.5 725.6 L151.7 725.6 L153 725.6 L154.3 725.6 L155.5 725.6 L156.8 725.6 L158.1 725.6 L159.4 725.6 L160.6 725.6 L161.9 725.6 L163.2 725.6 L164.5 725.6 L165.7 725.6 L167 725.6 L168.3 725.6 L169.6 725.6 L170.8 725.6 L172.1 725.6 L172.1 732 L170.8 732 L169.6 732 L168.3 732 L167 732 L165.7 732 L164.5 732 L163.2 732 L161.9 732 L160.6 732 L159.4 732 L158.1 732 L156.8 732 L155.5 732 L154.3 731.9 L153 731.9 L151.7 731.9 L150.5 731.9 L149.2 731.9 L147.9 731.9 L146.6 731.8 L145.4 731.8 L144.1 731.7 L142.8 731.7 L141.5 731.6 L140.3 731.5 L139 731.4 L137.7 731.2 L136.4 731 L135.2 730.8 L133.9 730.5Z" stroke="#000" stroke-width="0.6" fill="#000" stroke-linejoin="round"/>
<path d="M133.9 752.2 L135.6 747.5 L137.4 743.9 L139.1 741.1 L140.8 738.9 L142.6 737.1 L144.3 735.8 L146.1 734.7 L147.8 733.9 L149.5 733.3 L151.3 732.8 L153 732.4 L154.7 732.1 L156.5 731.8 L158.2 731.7 L159.9 731.5 L161.7 731.4 L163.4 731.3 L165.2 731.2 L166.9 731.2 L168.6 731.1 L170.4 731.1 L172.1 731.1" stroke="#000" stroke-width="1.9500000000000002" fill="none" stroke-linejoin="round"/>
<path d="M133.9 791.3 L135.6 787 L137.4 780.3 L139.1 773.4 L140.8 766.9 L142.6 761.2 L144.3 756.2 L146.1 752 L147.8 748.5 L149.5 745.7 L151.3 743.3 L153 741.3 L154.7 739.7 L156.5 738.5 L158.2 737.4 L159.9 736.6 L161.7 735.9 L163.4 735.3 L165.2 734.9 L166.9 734.5 L168.6 734.2 L170.4 734 L172.1 733.8" stroke="#000" stroke-width="1.9500000000000002" fill="none" stroke-linejoin="round"/>
<path d="M133.9 804.9 L135.6 800.9 L137.4 792.5 L139.1 782.9 L140.8 773.7 L142.6 765.6 L144.3 758.7 L146.1 753.1 L147.8 748.6 L149.5 745 L151.3 742.2 L153 740 L154.7 738.3 L156.5 736.9 L158.2 735.9 L159.9 735.1 L161.7 734.5 L163.4 734 L165.2 733.7 L166.9 733.4 L168.6 733.2 L170.4 733 L172.1 732.9" stroke="#000" stroke-width="2.21" fill="none" stroke-linejoin="round"/>
<path d="M133.9 804.9 L135.6 801.5 L137.4 794 L139.1 785.2 L140.8 776.6 L142.6 768.8 L144.3 762.1 L146.1 756.4 L147.8 751.8 L149.5 748 L151.3 745 L153 742.5 L154.7 740.6 L156.5 739.1 L158.2 737.9 L159.9 736.9 L161.7 736.2 L163.4 735.6 L165.2 735.1 L166.9 734.8 L168.6 734.5 L170.4 734.3 L172.1 734.1" stroke="#000" stroke-width="2.21" fill="none" stroke-linejoin="round"/>
<path d="M133.9 804.9 L135.6 801.9 L137.4 795.2 L139.1 787.3 L140.8 779.2 L142.6 771.8 L144.3 765.2 L146.1 759.6 L147.8 754.9 L149.5 750.9 L151.3 747.7 L153 745.1 L154.7 743 L156.5 741.3 L158.2 739.9 L159.9 738.8 L161.7 737.9 L163.4 737.2 L165.2 736.7 L166.9 736.2 L168.6 735.9 L170.4 735.6 L172.1 735.4" stroke="#000" stroke-width="2.21" fill="none" stroke-linejoin="round"/>
<path d="M133.9 725L133.9 804.9" stroke="#000" stroke-width="1.6" fill="none"/>
<path d="M172.1 729.5L172.1 735.5" stroke="#000" stroke-width="1.2" fill="none"/>
<circle cx="133.9" cy="749.6" r="1.2" fill="#000" stroke="none"/>
<circle cx="133.9" cy="777.7" r="1.2" fill="#000" stroke="none"/>
<circle cx="133.9" cy="801.3" r="1.2" fill="#000" stroke="none"/>
<rect x="273.7" y="686.5" width="47.3" height="123.3" stroke="#88d2f4" stroke-width="1.5" fill="none"/>
<path d="M279 802.5L313 802.5" stroke="#333" stroke-width="0.8" fill="none" stroke-dasharray="1.2 1.6"/>
<path d="M278.5 692.4 L279.8 692.4 L281.1 692.4 L282.4 692.4 L283.8 692.4 L285.1 692.4 L286.4 692.4 L287.7 692.4 L289 692.4 L290.3 692.4 L291.6 692.4 L292.9 692.4 L294.3 692.4 L295.6 692.4 L296.9 692.4 L298.2 692.4 L299.5 692.4 L300.8 692.4 L302.1 692.4 L303.5 692.4 L304.8 692.4 L306.1 692.4 L307.4 692.4 L308.7 692.4 L310 692.4 L311.3 692.4 L312.6 692.4 L314 692.4 L315.3 692.4 L316.6 692.4 L317.9 692.4 L317.9 701.7 L316.6 701.7 L315.3 701.7 L314 701.7 L312.6 701.7 L311.3 701.7 L310 701.7 L308.7 701.7 L307.4 701.7 L306.1 701.7 L304.8 701.7 L303.5 701.7 L302.1 701.7 L300.8 701.7 L299.5 701.7 L298.2 701.7 L296.9 701.7 L295.6 701.7 L294.3 701.7 L292.9 701.7 L291.6 701.7 L290.3 701.7 L289 701.7 L287.7 701.7 L286.4 701.7 L285.1 701.7 L283.8 701.7 L282.4 701.7 L281.1 701.7 L279.8 701.7 L278.5 701.7Z" stroke="#40ff0a" stroke-width="0.6" fill="#40ff0a" stroke-linejoin="round"/>
<path d="M278.5 748.2 L280.3 740.3 L282.1 731.9 L283.9 724.9 L285.7 719.3 L287.5 715 L289.2 711.8 L291 709.3 L292.8 707.4 L294.6 706 L296.4 705 L298.2 704.2 L300 703.7 L301.8 703.2 L303.6 702.9 L305.4 702.7 L307.2 702.5 L308.9 702.4 L310.7 702.3 L312.5 702.2 L314.3 702.2 L316.1 702.1 L317.9 702.1" stroke="#40ff0a" stroke-width="2.08" fill="none" stroke-linejoin="round"/>
<path d="M278.5 802.5 L280.3 797.4 L282.1 786.4 L283.9 773.6 L285.7 761.3 L287.5 750.1 L289.2 740.6 L291 732.7 L292.8 726.3 L294.6 721.1 L296.4 717 L298.2 713.7 L300 711.1 L301.8 709.1 L303.6 707.5 L305.4 706.3 L307.2 705.3 L308.9 704.6 L310.7 704 L312.5 703.6 L314.3 703.2 L316.1 702.9 L317.9 702.7" stroke="#40ff0a" stroke-width="2.3400000000000003" fill="none" stroke-linejoin="round"/>
<path d="M278.5 802.5 L280.3 798 L282.1 788.1 L283.9 776.3 L285.7 764.6 L287.5 753.9 L289.2 744.5 L291 736.6 L292.8 729.9 L294.6 724.5 L296.4 720 L298.2 716.4 L300 713.6 L301.8 711.3 L303.6 709.4 L305.4 708 L307.2 706.8 L308.9 705.9 L310.7 705.2 L312.5 704.6 L314.3 704.2 L316.1 703.8 L317.9 703.5" stroke="#40ff0a" stroke-width="2.3400000000000003" fill="none" stroke-linejoin="round"/>
<path d="M278.5 802.5 L280.3 798.5 L282.1 789.5 L283.9 778.7 L285.7 767.7 L287.5 757.4 L289.2 748.2 L291 740.2 L292.8 733.4 L294.6 727.8 L296.4 723.1 L298.2 719.2 L300 716.1 L301.8 713.5 L303.6 711.5 L305.4 709.8 L307.2 708.5 L308.9 707.4 L310.7 706.5 L312.5 705.8 L314.3 705.2 L316.1 704.8 L317.9 704.4" stroke="#40ff0a" stroke-width="2.3400000000000003" fill="none" stroke-linejoin="round"/>
<path d="M278.5 802.5 L280.3 798.9 L282.1 790.8 L283.9 780.8 L285.7 770.4 L287.5 760.5 L289.2 751.5 L291 743.6 L292.8 736.8 L294.6 731 L296.4 726.1 L298.2 722 L300 718.7 L301.8 715.9 L303.6 713.6 L305.4 711.7 L307.2 710.2 L308.9 708.9 L310.7 707.9 L312.5 707.1 L314.3 706.4 L316.1 705.9 L317.9 705.4" stroke="#40ff0a" stroke-width="2.3400000000000003" fill="none" stroke-linejoin="round"/>
<path d="M278.5 692.4L278.5 804" stroke="#40ff0a" stroke-width="1.6" fill="none"/>
<path d="M317.9 700.5L317.9 704.5" stroke="#40ff0a" stroke-width="1.2" fill="none"/>
<path d="M28.9 808.2L28.9 846.3M28.9 846.3L44.7 846.3" stroke="#8a8a8a" stroke-width="1.0" fill="none"/>
<text x="25.6" y="831.9" font-size="10" text-anchor="middle" fill="#000" transform="rotate(-90 25.6 831.9)">2 µA</text>
<text x="31.6" y="858.8" font-size="10.5" text-anchor="start" fill="#000">1 s</text>
<text x="328.3" y="728.6" font-size="18.8" text-anchor="start" fill="#000">k</text>
<path d="M362.3 843.1L506.9 843.1M362.3 843.1L362.3 722.8M372.6 843.1L372.6 845.7" stroke="#222" stroke-width="0.9" fill="none"/>
<text x="372.6" y="855.4" font-size="9.4" text-anchor="middle" fill="#000">-120</text>
<path d="M393.3 843.1L393.3 845.7" stroke="#222" stroke-width="0.9" fill="none"/>
<text x="393.3" y="855.4" font-size="9.4" text-anchor="middle" fill="#000">-100</text>
<path d="M413.9 843.1L413.9 845.7" stroke="#222" stroke-width="0.9" fill="none"/>
<text x="413.9" y="855.4" font-size="9.4" text-anchor="middle" fill="#000">-80</text>
<path d="M434.6 843.1L434.6 845.7" stroke="#222" stroke-width="0.9" fill="none"/>
<text x="434.6" y="855.4" font-size="9.4" text-anchor="middle" fill="#000">-60</text>
<path d="M455.3 843.1L455.3 845.7" stroke="#222" stroke-width="0.9" fill="none"/>
<text x="455.3" y="855.4" font-size="9.4" text-anchor="middle" fill="#000">-40</text>
<path d="M475.9 843.1L475.9 845.7" stroke="#222" stroke-width="0.9" fill="none"/>
<text x="475.9" y="855.4" font-size="9.4" text-anchor="middle" fill="#000">-20</text>
<path d="M496.6 843.1L496.6 845.7" stroke="#222" stroke-width="0.9" fill="none"/>
<text x="496.6" y="855.4" font-size="9.4" text-anchor="middle" fill="#000">0</text>
<path d="M382.9 843.1L382.9 844.6M403.6 843.1L403.6 844.6M424.3 843.1L424.3 844.6M444.9 843.1L444.9 844.6M465.6 843.1L465.6 844.6M486.3 843.1L486.3 844.6M362.3 840.1L359.7 840.1" stroke="#222" stroke-width="0.9" fill="none"/>
<text x="359.5" y="843.5" font-size="9.4" text-anchor="end" fill="#000">0.0</text>
<path d="M362.3 827.1L359.7 827.1" stroke="#222" stroke-width="0.9" fill="none"/>
<text x="359.5" y="830.5" font-size="9.4" text-anchor="end" fill="#000">0.5</text>
<path d="M362.3 814.2L359.7 814.2" stroke="#222" stroke-width="0.9" fill="none"/>
<text x="359.5" y="817.6" font-size="9.4" text-anchor="end" fill="#000">1.0</text>
<path d="M362.3 801.2L359.7 801.2" stroke="#222" stroke-width="0.9" fill="none"/>
<text x="359.5" y="804.6" font-size="9.4" text-anchor="end" fill="#000">1.5</text>
<path d="M362.3 788.2L359.7 788.2" stroke="#222" stroke-width="0.9" fill="none"/>
<text x="359.5" y="791.6" font-size="9.4" text-anchor="end" fill="#000">2.0</text>
<path d="M362.3 775.3L359.7 775.3" stroke="#222" stroke-width="0.9" fill="none"/>
<text x="359.5" y="778.7" font-size="9.4" text-anchor="end" fill="#000">2.5</text>
<path d="M362.3 762.3L359.7 762.3" stroke="#222" stroke-width="0.9" fill="none"/>
<text x="359.5" y="765.7" font-size="9.4" text-anchor="end" fill="#000">3.0</text>
<path d="M362.3 749.3L359.7 749.3" stroke="#222" stroke-width="0.9" fill="none"/>
<text x="359.5" y="752.7" font-size="9.4" text-anchor="end" fill="#000">3.5</text>
<path d="M362.3 736.4L359.7 736.4" stroke="#222" stroke-width="0.9" fill="none"/>
<text x="359.5" y="739.8" font-size="9.4" text-anchor="end" fill="#000">4.0</text>
<path d="M362.3 723.4L359.7 723.4" stroke="#222" stroke-width="0.9" fill="none"/>
<text x="359.5" y="726.8" font-size="9.4" text-anchor="end" fill="#000">4.5</text>
<path d="M362.3 833.6L360.8 833.6M362.3 820.6L360.8 820.6M362.3 807.7L360.8 807.7M362.3 794.7L360.8 794.7M362.3 781.8L360.8 781.8M362.3 768.8L360.8 768.8M362.3 755.8L360.8 755.8M362.3 742.9L360.8 742.9M362.3 729.9L360.8 729.9" stroke="#222" stroke-width="0.9" fill="none"/>
<path d="M372.6 840.1 L374.7 840.1 L376.7 840.1 L378.8 840.1 L380.9 840.1 L382.9 840.1 L385 840.1 L387.1 840.1 L389.1 840.1 L391.2 840.1 L393.3 840.1 L395.3 840.1 L397.4 840.1 L399.5 840.1 L401.5 840.1 L403.6 840 L405.7 840 L407.7 839.9 L409.8 839.8 L411.9 839.7 L413.9 839.4 L416 839 L418.1 838.5 L420.1 837.6 L422.2 836.2 L424.3 834.2 L426.3 831.2 L428.4 827 L430.5 821.2 L432.5 813.7 L434.6 804.6 L436.7 794.7 L438.7 784.8 L440.8 775.8 L442.9 768.3 L444.9 762.5 L447 758.2 L449.1 755.2 L451.1 753.2 L453.2 751.9 L455.3 751 L457.3 750.4 L459.4 750 L461.5 749.8 L463.5 749.6 L465.6 749.5 L467.7 749.4 L469.7 749.4 L471.8 749.4 L473.9 749.4 L475.9 749.4 L478 749.3 L480.1 749.3 L482.1 749.3 L484.2 749.3 L486.3 749.3 L488.3 749.3 L490.4 749.3 L492.5 749.3 L494.5 749.3 L496.6 749.3" stroke="#808020" stroke-width="0.8" fill="none" stroke-linejoin="round"/>
<path d="M372.6 840.1 L374.7 840.1 L376.7 840.1 L378.8 840.1 L380.9 840.1 L382.9 840.1 L385 840.1 L387.1 840.1 L389.1 840.1 L391.2 840.1 L393.3 840.1 L395.3 840.1 L397.4 840.1 L399.5 840.1 L401.5 840.1 L403.6 840 L405.7 840 L407.7 839.9 L409.8 839.8 L411.9 839.7 L413.9 839.4 L416 839.1 L418.1 838.5 L420.1 837.6 L422.2 836.3 L424.3 834.3 L426.3 831.4 L428.4 827.2 L430.5 821.4 L432.5 814 L434.6 805.1 L436.7 795.4 L438.7 785.6 L440.8 776.7 L442.9 769.3 L444.9 763.6 L447 759.4 L449.1 756.4 L451.1 754.4 L453.2 753.1 L455.3 752.2 L457.3 751.7 L459.4 751.3 L461.5 751.1 L463.5 750.9 L465.6 750.8 L467.7 750.7 L469.7 750.7 L471.8 750.7 L473.9 750.7 L475.9 750.6 L478 750.6 L480.1 750.6 L482.1 750.6 L484.2 750.6 L486.3 750.6 L488.3 750.6 L490.4 750.6 L492.5 750.6 L494.5 750.6 L496.6 750.6" stroke="#f0f020" stroke-width="0.8" fill="none" stroke-linejoin="round"/>
<path d="M372.6 840.1 L374.7 840.1 L376.7 840.1 L378.8 840.1 L380.9 840.1 L382.9 840.1 L385 840.1 L387.1 840.1 L389.1 840.1 L391.2 840.1 L393.3 840.1 L395.3 840.1 L397.4 840.1 L399.5 840.1 L401.5 840 L403.6 840 L405.7 840 L407.7 839.9 L409.8 839.8 L411.9 839.6 L413.9 839.3 L416 838.9 L418.1 838.2 L420.1 837.2 L422.2 835.6 L424.3 833.3 L426.3 829.9 L428.4 825.1 L430.5 818.6 L432.5 810.3 L434.6 800.6 L436.7 790.1 L438.7 780 L440.8 770.9 L442.9 763.5 L444.9 757.9 L447 753.8 L449.1 751 L451.1 749.1 L453.2 747.8 L455.3 747 L457.3 746.4 L459.4 746.1 L461.5 745.9 L463.5 745.7 L465.6 745.6 L467.7 745.6 L469.7 745.5 L471.8 745.5 L473.9 745.5 L475.9 745.5 L478 745.5 L480.1 745.5 L482.1 745.4 L484.2 745.4 L486.3 745.4 L488.3 745.4 L490.4 745.4 L492.5 745.4 L494.5 745.4 L496.6 745.4" stroke="#ff30ff" stroke-width="0.8" fill="none" stroke-linejoin="round"/>
<path d="M372.6 840.1 L374.7 840.1 L376.7 840.1 L378.8 840.1 L380.9 840.1 L382.9 840.1 L385 840.1 L387.1 840.1 L389.1 840.1 L391.2 840.1 L393.3 840.1 L395.3 840.1 L397.4 840.1 L399.5 840.1 L401.5 840 L403.6 840 L405.7 840 L407.7 839.9 L409.8 839.7 L411.9 839.5 L413.9 839.2 L416 838.8 L418.1 838 L420.1 836.9 L422.2 835.2 L424.3 832.7 L426.3 829.1 L428.4 824.1 L430.5 817.3 L432.5 808.9 L434.6 799.2 L436.7 789 L438.7 779.3 L440.8 770.8 L442.9 764.1 L444.9 759 L447 755.4 L449.1 752.9 L451.1 751.2 L453.2 750.1 L455.3 749.4 L457.3 748.9 L459.4 748.6 L461.5 748.4 L463.5 748.3 L465.6 748.2 L467.7 748.1 L469.7 748.1 L471.8 748.1 L473.9 748.1 L475.9 748.1 L478 748 L480.1 748 L482.1 748 L484.2 748 L486.3 748 L488.3 748 L490.4 748 L492.5 748 L494.5 748 L496.6 748" stroke="#70f0ff" stroke-width="0.8" fill="none" stroke-linejoin="round"/>
<path d="M372.6 840.1 L374.7 840.1 L376.7 840.1 L378.8 840.1 L380.9 840.1 L382.9 840.1 L385 840.1 L387.1 840.1 L389.1 840.1 L391.2 840.1 L393.3 840.1 L395.3 840.1 L397.4 840.1 L399.5 840.1 L401.5 840 L403.6 840 L405.7 839.9 L407.7 839.8 L409.8 839.7 L411.9 839.4 L413.9 839.1 L416 838.5 L418.1 837.6 L420.1 836.3 L422.2 834.3 L424.3 831.4 L426.3 827.2 L428.4 821.3 L430.5 813.6 L432.5 804.2 L434.6 793.6 L436.7 782.7 L438.7 772.6 L440.8 764 L442.9 757.2 L444.9 752.2 L447 748.7 L449.1 746.2 L451.1 744.6 L453.2 743.5 L455.3 742.8 L457.3 742.4 L459.4 742.1 L461.5 741.9 L463.5 741.8 L465.6 741.7 L467.7 741.6 L469.7 741.6 L471.8 741.6 L473.9 741.6 L475.9 741.6 L478 741.6 L480.1 741.6 L482.1 741.6 L484.2 741.6 L486.3 741.6 L488.3 741.6 L490.4 741.6 L492.5 741.6 L494.5 741.6 L496.6 741.6" stroke="#0000ff" stroke-width="0.8" fill="none" stroke-linejoin="round"/>
<path d="M372.6 840.1 L374.7 840.1 L376.7 840.1 L378.8 840.1 L380.9 840.1 L382.9 840.1 L385 840.1 L387.1 840.1 L389.1 840.1 L391.2 840.1 L393.3 840.1 L395.3 840.1 L397.4 840.1 L399.5 840.1 L401.5 840 L403.6 840 L405.7 839.9 L407.7 839.9 L409.8 839.7 L411.9 839.5 L413.9 839.2 L416 838.7 L418.1 837.9 L420.1 836.7 L422.2 834.8 L424.3 832.1 L426.3 828.2 L428.4 822.7 L430.5 815.4 L432.5 806.2 L434.6 795.7 L436.7 784.7 L438.7 774.1 L440.8 765 L442.9 757.7 L444.9 752.2 L447 748.2 L449.1 745.5 L451.1 743.7 L453.2 742.5 L455.3 741.7 L457.3 741.2 L459.4 740.9 L461.5 740.6 L463.5 740.5 L465.6 740.4 L467.7 740.4 L469.7 740.3 L471.8 740.3 L473.9 740.3 L475.9 740.3 L478 740.3 L480.1 740.3 L482.1 740.3 L484.2 740.3 L486.3 740.3 L488.3 740.3 L490.4 740.3 L492.5 740.3 L494.5 740.3 L496.6 740.3" stroke="#33f033" stroke-width="0.8" fill="none" stroke-linejoin="round"/>
<path d="M372.6 840.1 L374.7 840.1 L376.7 840.1 L378.8 840.1 L380.9 840.1 L382.9 840.1 L385 840.1 L387.1 840.1 L389.1 840.1 L391.2 840.1 L393.3 840.1 L395.3 840.1 L397.4 840.1 L399.5 840.1 L401.5 840 L403.6 840 L405.7 840 L407.7 839.9 L409.8 839.8 L411.9 839.6 L413.9 839.3 L416 838.9 L418.1 838.2 L420.1 837.2 L422.2 835.7 L424.3 833.4 L426.3 830 L428.4 825.3 L430.5 818.9 L432.5 810.7 L434.6 801.1 L436.7 790.8 L438.7 780.8 L440.8 771.8 L442.9 764.6 L444.9 759 L447 755 L449.1 752.2 L451.1 750.3 L453.2 749.1 L455.3 748.2 L457.3 747.7 L459.4 747.4 L461.5 747.1 L463.5 747 L465.6 746.9 L467.7 746.8 L469.7 746.8 L471.8 746.8 L473.9 746.8 L475.9 746.8 L478 746.8 L480.1 746.7 L482.1 746.7 L484.2 746.7 L486.3 746.7 L488.3 746.7 L490.4 746.7 L492.5 746.7 L494.5 746.7 L496.6 746.7" stroke="#ff1d0d" stroke-width="0.8" fill="none" stroke-linejoin="round"/>
<path d="M372.6 840.1 L374.7 840.1 L376.7 840.1 L378.8 840.1 L380.9 840.1 L382.9 840.1 L385 840.1 L387.1 840.1 L389.1 840.1 L391.2 840.1 L393.3 840.1 L395.3 840.1 L397.4 840.1 L399.5 840.1 L401.5 840.1 L403.6 840.1 L405.7 840.1 L407.7 840 L409.8 840 L411.9 839.9 L413.9 839.8 L416 839.7 L418.1 839.5 L420.1 839.1 L422.2 838.6 L424.3 837.8 L426.3 836.6 L428.4 834.7 L430.5 832 L432.5 828.1 L434.6 822.8 L436.7 815.9 L438.7 807.7 L440.8 798.6 L442.9 789.5 L444.9 781.3 L447 774.4 L449.1 769.1 L451.1 765.2 L453.2 762.5 L455.3 760.7 L457.3 759.4 L459.4 758.6 L461.5 758.1 L463.5 757.7 L465.6 757.5 L467.7 757.4 L469.7 757.3 L471.8 757.2 L473.9 757.2 L475.9 757.2 L478 757.1 L480.1 757.1 L482.1 757.1 L484.2 757.1 L486.3 757.1 L488.3 757.1 L490.4 757.1 L492.5 757.1 L494.5 757.1 L496.6 757.1" stroke="#000" stroke-width="0.8" fill="none" stroke-linejoin="round"/>
<path d="M372.6 839.6L372.6 840.6M371 839.6L374.2 839.6M371 840.6L374.2 840.6M382.9 839.6L382.9 840.6M381.3 839.6L384.5 839.6M381.3 840.6L384.5 840.6M393.3 839.6L393.3 840.6M391.7 839.6L394.9 839.6M391.7 840.6L394.9 840.6M403.6 839.5L403.6 840.6M402 839.5L405.2 839.5M402 840.6L405.2 840.6M413.9 838.8L413.9 840M412.3 838.8L415.5 838.8M412.3 840L415.5 840M424.3 833.2L424.3 835.4M422.7 833.2L425.9 833.2M422.7 835.4L425.9 835.4M434.6 803L434.6 810.7M433 803L436.2 803M433 810.7L436.2 810.7M444.9 754.1L444.9 770.7M443.3 754.1L446.5 754.1M443.3 770.7L446.5 770.7M455.3 747.9L455.3 765.6M453.7 747.9L456.9 747.9M453.7 765.6L456.9 765.6M465.6 740.9L465.6 759.8M464 740.9L467.2 740.9M464 759.8L467.2 759.8M475.9 745.8L475.9 763.9M474.3 745.8L477.5 745.8M474.3 763.9L477.5 763.9M486.3 745.5L486.3 763.6M484.7 745.5L487.9 745.5M484.7 763.6L487.9 763.6M496.6 740.8L496.6 759.8M495 740.8L498.2 740.8M495 759.8L498.2 759.8" stroke="#808020" stroke-width="0.7" fill="none"/>
<circle cx="372.6" cy="840.1" r="2" fill="#808020" stroke="none"/>
<circle cx="382.9" cy="840.1" r="2" fill="#808020" stroke="none"/>
<circle cx="393.3" cy="840.1" r="2" fill="#808020" stroke="none"/>
<circle cx="403.6" cy="840" r="2" fill="#808020" stroke="none"/>
<circle cx="413.9" cy="839.4" r="2" fill="#808020" stroke="none"/>
<circle cx="424.3" cy="834.3" r="2" fill="#808020" stroke="none"/>
<circle cx="434.6" cy="806.8" r="2" fill="#808020" stroke="none"/>
<circle cx="444.9" cy="762.4" r="2" fill="#808020" stroke="none"/>
<circle cx="455.3" cy="756.7" r="2" fill="#808020" stroke="none"/>
<circle cx="465.6" cy="750.4" r="2" fill="#808020" stroke="none"/>
<circle cx="475.9" cy="754.8" r="2" fill="#808020" stroke="none"/>
<circle cx="486.3" cy="754.5" r="2" fill="#808020" stroke="none"/>
<circle cx="496.6" cy="750.3" r="2" fill="#808020" stroke="none"/>
<path d="M372.6 839.6L372.6 840.6M371 839.6L374.2 839.6M371 840.6L374.2 840.6M382.9 839.6L382.9 840.6M381.3 839.6L384.5 839.6M381.3 840.6L384.5 840.6M393.3 839.6L393.3 840.6M391.7 839.6L394.9 839.6M391.7 840.6L394.9 840.6M403.6 839.5L403.6 840.6M402 839.5L405.2 839.5M402 840.6L405.2 840.6M413.9 838.8L413.9 840M412.3 838.8L415.5 838.8M412.3 840L415.5 840M424.3 833.1L424.3 835.3M422.7 833.1L425.9 833.1M422.7 835.3L425.9 835.3M434.6 801.7L434.6 809.6M433 801.7L436.2 801.7M433 809.6L436.2 809.6M444.9 749.8L444.9 767.1M443.3 749.8L446.5 749.8M443.3 767.1L446.5 767.1M455.3 749.1L455.3 766.6M453.7 749.1L456.9 749.1M453.7 766.6L456.9 766.6M465.6 736.7L465.6 755.9M464 736.7L467.2 736.7M464 755.9L467.2 755.9M475.9 744.1L475.9 762.5M474.3 744.1L477.5 744.1M474.3 762.5L477.5 762.5M486.3 746.1L486.3 764.1M484.7 746.1L487.9 746.1M484.7 764.1L487.9 764.1M496.6 746.4L496.6 764.4M495 746.4L498.2 746.4M495 764.4L498.2 764.4" stroke="#f0f020" stroke-width="0.7" fill="none"/>
<path d="M374.6 840.1 L371.1 838.4 L371.1 841.8Z" stroke="none" stroke-width="0" fill="#f0f020" stroke-linejoin="round"/>
<path d="M385 840.1 L381.4 838.4 L381.4 841.8Z" stroke="none" stroke-width="0" fill="#f0f020" stroke-linejoin="round"/>
<path d="M395.3 840.1 L391.7 838.4 L391.7 841.8Z" stroke="none" stroke-width="0" fill="#f0f020" stroke-linejoin="round"/>
<path d="M405.6 840 L402.1 838.3 L402.1 841.7Z" stroke="none" stroke-width="0" fill="#f0f020" stroke-linejoin="round"/>
<path d="M416 839.4 L412.4 837.7 L412.4 841.1Z" stroke="none" stroke-width="0" fill="#f0f020" stroke-linejoin="round"/>
<path d="M426.3 834.2 L422.7 832.5 L422.7 835.9Z" stroke="none" stroke-width="0" fill="#f0f020" stroke-linejoin="round"/>
<path d="M436.6 805.7 L433.1 804 L433.1 807.4Z" stroke="none" stroke-width="0" fill="#f0f020" stroke-linejoin="round"/>
<path d="M447 758.5 L443.4 756.8 L443.4 760.2Z" stroke="none" stroke-width="0" fill="#f0f020" stroke-linejoin="round"/>
<path d="M457.3 757.8 L453.7 756.1 L453.7 759.5Z" stroke="none" stroke-width="0" fill="#f0f020" stroke-linejoin="round"/>
<path d="M467.6 746.3 L464.1 744.6 L464.1 748Z" stroke="none" stroke-width="0" fill="#f0f020" stroke-linejoin="round"/>
<path d="M478 753.3 L474.4 751.6 L474.4 755Z" stroke="none" stroke-width="0" fill="#f0f020" stroke-linejoin="round"/>
<path d="M488.3 755.1 L484.7 753.4 L484.7 756.8Z" stroke="none" stroke-width="0" fill="#f0f020" stroke-linejoin="round"/>
<path d="M498.6 755.4 L495.1 753.7 L495.1 757.1Z" stroke="none" stroke-width="0" fill="#f0f020" stroke-linejoin="round"/>
<path d="M372.6 839.6L372.6 840.6M371 839.6L374.2 839.6M371 840.6L374.2 840.6M382.9 839.6L382.9 840.6M381.3 839.6L384.5 839.6M381.3 840.6L384.5 840.6M393.3 839.6L393.3 840.6M391.7 839.6L394.9 839.6M391.7 840.6L394.9 840.6M403.6 839.5L403.6 840.5M402 839.5L405.2 839.5M402 840.5L405.2 840.5M413.9 838.7L413.9 839.9M412.3 838.7L415.5 838.7M412.3 839.9L415.5 839.9M424.3 832.2L424.3 834.6M422.7 832.2L425.9 832.2M422.7 834.6L425.9 834.6M434.6 795.8L434.6 804.8M433 795.8L436.2 795.8M433 804.8L436.2 804.8M444.9 754.7L444.9 771.1M443.3 754.7L446.5 754.7M443.3 771.1L446.5 771.1M455.3 743.5L455.3 762M453.7 743.5L456.9 743.5M453.7 762L456.9 762M465.6 739.9L465.6 759.1M464 739.9L467.2 739.9M464 759.1L467.2 759.1M475.9 733.5L475.9 752.7M474.3 733.5L477.5 733.5M474.3 752.7L477.5 752.7M486.3 736.8L486.3 756M484.7 736.8L487.9 736.8M484.7 756L487.9 756M496.6 738.3L496.6 757.5M495 738.3L498.2 738.3M495 757.5L498.2 757.5" stroke="#ff30ff" stroke-width="0.7" fill="none"/>
<path d="M370.6 840.1 L374.1 838.4 L374.1 841.8Z" stroke="none" stroke-width="0" fill="#ff30ff" stroke-linejoin="round"/>
<path d="M380.9 840.1 L384.5 838.4 L384.5 841.8Z" stroke="none" stroke-width="0" fill="#ff30ff" stroke-linejoin="round"/>
<path d="M391.2 840.1 L394.8 838.4 L394.8 841.8Z" stroke="none" stroke-width="0" fill="#ff30ff" stroke-linejoin="round"/>
<path d="M401.6 840 L405.1 838.3 L405.1 841.7Z" stroke="none" stroke-width="0" fill="#ff30ff" stroke-linejoin="round"/>
<path d="M411.9 839.3 L415.5 837.6 L415.5 841Z" stroke="none" stroke-width="0" fill="#ff30ff" stroke-linejoin="round"/>
<path d="M422.2 833.4 L425.8 831.7 L425.8 835.1Z" stroke="none" stroke-width="0" fill="#ff30ff" stroke-linejoin="round"/>
<path d="M432.6 800.3 L436.1 798.6 L436.1 802Z" stroke="none" stroke-width="0" fill="#ff30ff" stroke-linejoin="round"/>
<path d="M442.9 762.9 L446.5 761.2 L446.5 764.6Z" stroke="none" stroke-width="0" fill="#ff30ff" stroke-linejoin="round"/>
<path d="M453.2 752.7 L456.8 751 L456.8 754.4Z" stroke="none" stroke-width="0" fill="#ff30ff" stroke-linejoin="round"/>
<path d="M463.6 749.5 L467.1 747.8 L467.1 751.2Z" stroke="none" stroke-width="0" fill="#ff30ff" stroke-linejoin="round"/>
<path d="M473.9 743.1 L477.5 741.4 L477.5 744.8Z" stroke="none" stroke-width="0" fill="#ff30ff" stroke-linejoin="round"/>
<path d="M484.2 746.4 L487.8 744.7 L487.8 748.1Z" stroke="none" stroke-width="0" fill="#ff30ff" stroke-linejoin="round"/>
<path d="M494.6 747.9 L498.1 746.2 L498.1 749.6Z" stroke="none" stroke-width="0" fill="#ff30ff" stroke-linejoin="round"/>
<path d="M372.6 839.6L372.6 840.6M371 839.6L374.2 839.6M371 840.6L374.2 840.6M382.9 839.6L382.9 840.6M381.3 839.6L384.5 839.6M381.3 840.6L384.5 840.6M393.3 839.6L393.3 840.6M391.7 839.6L394.9 839.6M391.7 840.6L394.9 840.6M403.6 839.5L403.6 840.5M402 839.5L405.2 839.5M402 840.5L405.2 840.5M413.9 838.6L413.9 839.8M412.3 838.6L415.5 838.6M412.3 839.8L415.5 839.8M424.3 831.8L424.3 834.2M422.7 831.8L425.9 831.8M422.7 834.2L425.9 834.2M434.6 794.1L434.6 803.4M433 794.1L436.2 794.1M433 803.4L436.2 803.4M444.9 750.1L444.9 767.4M443.3 750.1L446.5 750.1M443.3 767.4L446.5 767.4M455.3 735L455.3 754.2M453.7 735L456.9 735M453.7 754.2L456.9 754.2M465.6 735.6L465.6 754.8M464 735.6L467.2 735.6M464 754.8L467.2 754.8M475.9 741.3L475.9 760.2M474.3 741.3L477.5 741.3M474.3 760.2L477.5 760.2M486.3 732.3L486.3 751.4M484.7 732.3L487.9 732.3M484.7 751.4L487.9 751.4M496.6 743.7L496.6 762.2M495 743.7L498.2 743.7M495 762.2L498.2 762.2" stroke="#70f0ff" stroke-width="0.7" fill="none"/>
<path d="M372.6 837.9 L374.8 840.1 L372.6 842.3 L370.4 840.1Z" stroke="none" stroke-width="0" fill="#70f0ff" stroke-linejoin="round"/>
<path d="M382.9 837.9 L385.1 840.1 L382.9 842.3 L380.7 840.1Z" stroke="none" stroke-width="0" fill="#70f0ff" stroke-linejoin="round"/>
<path d="M393.3 837.9 L395.5 840.1 L393.3 842.3 L391.1 840.1Z" stroke="none" stroke-width="0" fill="#70f0ff" stroke-linejoin="round"/>
<path d="M403.6 837.8 L405.8 840 L403.6 842.2 L401.4 840Z" stroke="none" stroke-width="0" fill="#70f0ff" stroke-linejoin="round"/>
<path d="M413.9 837 L416.1 839.2 L413.9 841.4 L411.7 839.2Z" stroke="none" stroke-width="0" fill="#70f0ff" stroke-linejoin="round"/>
<path d="M424.3 830.8 L426.5 833 L424.3 835.2 L422.1 833Z" stroke="none" stroke-width="0" fill="#70f0ff" stroke-linejoin="round"/>
<path d="M434.6 796.5 L436.8 798.7 L434.6 800.9 L432.4 798.7Z" stroke="none" stroke-width="0" fill="#70f0ff" stroke-linejoin="round"/>
<path d="M444.9 756.5 L447.1 758.7 L444.9 760.9 L442.7 758.7Z" stroke="none" stroke-width="0" fill="#70f0ff" stroke-linejoin="round"/>
<path d="M455.3 742.4 L457.5 744.6 L455.3 746.8 L453.1 744.6Z" stroke="none" stroke-width="0" fill="#70f0ff" stroke-linejoin="round"/>
<path d="M465.6 743 L467.8 745.2 L465.6 747.4 L463.4 745.2Z" stroke="none" stroke-width="0" fill="#70f0ff" stroke-linejoin="round"/>
<path d="M475.9 748.6 L478.1 750.8 L475.9 753 L473.7 750.8Z" stroke="none" stroke-width="0" fill="#70f0ff" stroke-linejoin="round"/>
<path d="M486.3 739.6 L488.5 741.8 L486.3 744 L484.1 741.8Z" stroke="none" stroke-width="0" fill="#70f0ff" stroke-linejoin="round"/>
<path d="M496.6 750.8 L498.8 753 L496.6 755.2 L494.4 753Z" stroke="none" stroke-width="0" fill="#70f0ff" stroke-linejoin="round"/>
<path d="M372.6 839.6L372.6 840.6M371 839.6L374.2 839.6M371 840.6L374.2 840.6M382.9 839.6L382.9 840.6M381.3 839.6L384.5 839.6M381.3 840.6L384.5 840.6M393.3 839.6L393.3 840.6M391.7 839.6L394.9 839.6M391.7 840.6L394.9 840.6M403.6 839.5L403.6 840.5M402 839.5L405.2 839.5M402 840.5L405.2 840.5M413.9 838.5L413.9 839.8M412.3 838.5L415.5 838.5M412.3 839.8L415.5 839.8M424.3 829.8L424.3 832.6M422.7 829.8L425.9 829.8M422.7 832.6L425.9 832.6M434.6 786.5L434.6 797.2M433 786.5L436.2 786.5M433 797.2L436.2 797.2M444.9 741.9L444.9 760.7M443.3 741.9L446.5 741.9M443.3 760.7L446.5 760.7M455.3 728.1L455.3 747.3M453.7 728.1L456.9 728.1M453.7 747.3L456.9 747.3M465.6 734.7L465.6 753.9M464 734.7L467.2 734.7M464 753.9L467.2 753.9M475.9 729.3L475.9 748.5M474.3 729.3L477.5 729.3M474.3 748.5L477.5 748.5M486.3 730.7L486.3 749.8M484.7 730.7L487.9 730.7M484.7 749.8L487.9 749.8M496.6 730.9L496.6 750M495 730.9L498.2 730.9M495 750L498.2 750" stroke="#0000ff" stroke-width="0.7" fill="none"/>
<path d="M372.6 842.1 L370.9 838.6 L374.3 838.6Z" stroke="none" stroke-width="0" fill="#0000ff" stroke-linejoin="round"/>
<path d="M382.9 842.1 L381.2 838.6 L384.6 838.6Z" stroke="none" stroke-width="0" fill="#0000ff" stroke-linejoin="round"/>
<path d="M393.3 842.1 L391.6 838.6 L395 838.6Z" stroke="none" stroke-width="0" fill="#0000ff" stroke-linejoin="round"/>
<path d="M403.6 842 L401.9 838.5 L405.3 838.5Z" stroke="none" stroke-width="0" fill="#0000ff" stroke-linejoin="round"/>
<path d="M413.9 841.2 L412.2 837.6 L415.6 837.6Z" stroke="none" stroke-width="0" fill="#0000ff" stroke-linejoin="round"/>
<path d="M424.3 833.2 L422.6 829.7 L426 829.7Z" stroke="none" stroke-width="0" fill="#0000ff" stroke-linejoin="round"/>
<path d="M434.6 793.9 L432.9 790.3 L436.3 790.3Z" stroke="none" stroke-width="0" fill="#0000ff" stroke-linejoin="round"/>
<path d="M444.9 753.3 L443.2 749.8 L446.6 749.8Z" stroke="none" stroke-width="0" fill="#0000ff" stroke-linejoin="round"/>
<path d="M455.3 739.7 L453.6 736.2 L457 736.2Z" stroke="none" stroke-width="0" fill="#0000ff" stroke-linejoin="round"/>
<path d="M465.6 746.3 L463.9 742.7 L467.3 742.7Z" stroke="none" stroke-width="0" fill="#0000ff" stroke-linejoin="round"/>
<path d="M475.9 740.9 L474.2 737.3 L477.6 737.3Z" stroke="none" stroke-width="0" fill="#0000ff" stroke-linejoin="round"/>
<path d="M486.3 742.3 L484.6 738.7 L488 738.7Z" stroke="none" stroke-width="0" fill="#0000ff" stroke-linejoin="round"/>
<path d="M496.6 742.5 L494.9 738.9 L498.3 738.9Z" stroke="none" stroke-width="0" fill="#0000ff" stroke-linejoin="round"/>
<path d="M372.6 839.6L372.6 840.6M371 839.6L374.2 839.6M371 840.6L374.2 840.6M382.9 839.6L382.9 840.6M381.3 839.6L384.5 839.6M381.3 840.6L384.5 840.6M393.3 839.6L393.3 840.6M391.7 839.6L394.9 839.6M391.7 840.6L394.9 840.6M403.6 839.5L403.6 840.5M402 839.5L405.2 839.5M402 840.5L405.2 840.5M413.9 838.5L413.9 839.8M412.3 838.5L415.5 838.5M412.3 839.8L415.5 839.8M424.3 831.4L424.3 833.9M422.7 831.4L425.9 831.4M422.7 833.9L425.9 833.9M434.6 789.4L434.6 799.5M433 789.4L436.2 789.4M433 799.5L436.2 799.5M444.9 740.9L444.9 759.8M443.3 740.9L446.5 740.9M443.3 759.8L446.5 759.8M455.3 725.3L455.3 744.5M453.7 725.3L456.9 725.3M453.7 744.5L456.9 744.5M465.6 726.3L465.6 745.5M464 726.3L467.2 726.3M464 745.5L467.2 745.5M475.9 733.7L475.9 752.9M474.3 733.7L477.5 733.7M474.3 752.9L477.5 752.9M486.3 732.3L486.3 751.5M484.7 732.3L487.9 732.3M484.7 751.5L487.9 751.5M496.6 728.3L496.6 747.5M495 728.3L498.2 728.3M495 747.5L498.2 747.5" stroke="#33f033" stroke-width="0.7" fill="none"/>
<path d="M372.6 838.1 L370.9 841.6 L374.3 841.6Z" stroke="none" stroke-width="0" fill="#33f033" stroke-linejoin="round"/>
<path d="M382.9 838.1 L381.2 841.6 L384.6 841.6Z" stroke="none" stroke-width="0" fill="#33f033" stroke-linejoin="round"/>
<path d="M393.3 838.1 L391.6 841.6 L395 841.6Z" stroke="none" stroke-width="0" fill="#33f033" stroke-linejoin="round"/>
<path d="M403.6 838 L401.9 841.5 L405.3 841.5Z" stroke="none" stroke-width="0" fill="#33f033" stroke-linejoin="round"/>
<path d="M413.9 837.1 L412.2 840.7 L415.6 840.7Z" stroke="none" stroke-width="0" fill="#33f033" stroke-linejoin="round"/>
<path d="M424.3 830.6 L422.6 834.1 L426 834.1Z" stroke="none" stroke-width="0" fill="#33f033" stroke-linejoin="round"/>
<path d="M434.6 792.4 L432.9 796 L436.3 796Z" stroke="none" stroke-width="0" fill="#33f033" stroke-linejoin="round"/>
<path d="M444.9 748.3 L443.2 751.9 L446.6 751.9Z" stroke="none" stroke-width="0" fill="#33f033" stroke-linejoin="round"/>
<path d="M455.3 732.9 L453.6 736.4 L457 736.4Z" stroke="none" stroke-width="0" fill="#33f033" stroke-linejoin="round"/>
<path d="M465.6 733.9 L463.9 737.5 L467.3 737.5Z" stroke="none" stroke-width="0" fill="#33f033" stroke-linejoin="round"/>
<path d="M475.9 741.3 L474.2 744.8 L477.6 744.8Z" stroke="none" stroke-width="0" fill="#33f033" stroke-linejoin="round"/>
<path d="M486.3 739.8 L484.6 743.4 L488 743.4Z" stroke="none" stroke-width="0" fill="#33f033" stroke-linejoin="round"/>
<path d="M496.6 735.9 L494.9 739.4 L498.3 739.4Z" stroke="none" stroke-width="0" fill="#33f033" stroke-linejoin="round"/>
<path d="M372.6 839.6L372.6 840.6M371 839.6L374.2 839.6M371 840.6L374.2 840.6M382.9 839.6L382.9 840.6M381.3 839.6L384.5 839.6M381.3 840.6L384.5 840.6M393.3 839.6L393.3 840.6M391.7 839.6L394.9 839.6M391.7 840.6L394.9 840.6M403.6 839.5L403.6 840.5M402 839.5L405.2 839.5M402 840.5L405.2 840.5M413.9 838.8L413.9 840M412.3 838.8L415.5 838.8M412.3 840L415.5 840M424.3 831.9L424.3 834.3M422.7 831.9L425.9 831.9M422.7 834.3L425.9 834.3M434.6 798.9L434.6 807.4M433 798.9L436.2 798.9M433 807.4L436.2 807.4M444.9 753.5L444.9 770.2M443.3 753.5L446.5 753.5M443.3 770.2L446.5 770.2M455.3 740.1L455.3 759.2M453.7 740.1L456.9 740.1M453.7 759.2L456.9 759.2M465.6 732.5L465.6 751.7M464 732.5L467.2 732.5M464 751.7L467.2 751.7M475.9 742.9L475.9 761.5M474.3 742.9L477.5 742.9M474.3 761.5L477.5 761.5M486.3 737.8L486.3 757M484.7 737.8L487.9 737.8M484.7 757L487.9 757M496.6 736.5L496.6 755.7M495 736.5L498.2 736.5M495 755.7L498.2 755.7" stroke="#ff1d0d" stroke-width="0.7" fill="none"/>
<circle cx="372.6" cy="840.1" r="2" fill="#ff1d0d" stroke="none"/>
<circle cx="382.9" cy="840.1" r="2" fill="#ff1d0d" stroke="none"/>
<circle cx="393.3" cy="840.1" r="2" fill="#ff1d0d" stroke="none"/>
<circle cx="403.6" cy="840" r="2" fill="#ff1d0d" stroke="none"/>
<circle cx="413.9" cy="839.4" r="2" fill="#ff1d0d" stroke="none"/>
<circle cx="424.3" cy="833.1" r="2" fill="#ff1d0d" stroke="none"/>
<circle cx="434.6" cy="803.2" r="2" fill="#ff1d0d" stroke="none"/>
<circle cx="444.9" cy="761.9" r="2" fill="#ff1d0d" stroke="none"/>
<circle cx="455.3" cy="749.6" r="2" fill="#ff1d0d" stroke="none"/>
<circle cx="465.6" cy="742.1" r="2" fill="#ff1d0d" stroke="none"/>
<circle cx="475.9" cy="752.2" r="2" fill="#ff1d0d" stroke="none"/>
<circle cx="486.3" cy="747.4" r="2" fill="#ff1d0d" stroke="none"/>
<circle cx="496.6" cy="746.1" r="2" fill="#ff1d0d" stroke="none"/>
<path d="M372.6 839.6L372.6 840.6M371 839.6L374.2 839.6M371 840.6L374.2 840.6M382.9 839.6L382.9 840.6M381.3 839.6L384.5 839.6M381.3 840.6L384.5 840.6M393.3 839.6L393.3 840.6M391.7 839.6L394.9 839.6M391.7 840.6L394.9 840.6M403.6 839.6L403.6 840.6M402 839.6L405.2 839.6M402 840.6L405.2 840.6M413.9 839.6L413.9 840.6M412.3 839.6L415.5 839.6M412.3 840.6L415.5 840.6M424.3 836.7L424.3 838.3M422.7 836.7L425.9 836.7M422.7 838.3L425.9 838.3M434.6 816.8L434.6 821.9M433 816.8L436.2 816.8M433 821.9L436.2 821.9M444.9 776.8L444.9 789.3M443.3 776.8L446.5 776.8M443.3 789.3L446.5 789.3M455.3 754L455.3 770.6M453.7 754L456.9 754M453.7 770.6L456.9 770.6M465.6 748.3L465.6 765.9M464 748.3L467.2 748.3M464 765.9L467.2 765.9M475.9 747.7L475.9 765.5M474.3 747.7L477.5 747.7M474.3 765.5L477.5 765.5M486.3 749.7L486.3 767.1M484.7 749.7L487.9 749.7M484.7 767.1L487.9 767.1M496.6 752.6L496.6 769.4M495 752.6L498.2 752.6M495 769.4L498.2 769.4" stroke="#000" stroke-width="0.7" fill="none"/>
<rect x="370.9" y="838.4" width="3.4" height="3.4" fill="#000"/>
<rect x="381.2" y="838.4" width="3.4" height="3.4" fill="#000"/>
<rect x="391.6" y="838.4" width="3.4" height="3.4" fill="#000"/>
<rect x="401.9" y="838.4" width="3.4" height="3.4" fill="#000"/>
<rect x="412.2" y="838.4" width="3.4" height="3.4" fill="#000"/>
<rect x="422.6" y="835.8" width="3.4" height="3.4" fill="#000"/>
<rect x="432.9" y="817.7" width="3.4" height="3.4" fill="#000"/>
<rect x="443.2" y="781.3" width="3.4" height="3.4" fill="#000"/>
<rect x="453.6" y="760.6" width="3.4" height="3.4" fill="#000"/>
<rect x="463.9" y="755.4" width="3.4" height="3.4" fill="#000"/>
<rect x="474.2" y="754.9" width="3.4" height="3.4" fill="#000"/>
<rect x="484.6" y="756.7" width="3.4" height="3.4" fill="#000"/>
<rect x="494.9" y="759.3" width="3.4" height="3.4" fill="#000"/>
<text x="341.5" y="778.8" font-size="9.6" text-anchor="middle" fill="#000" transform="rotate(-90 341.5 778.8)"><tspan font-style="italic">I</tspan> (µA)</text>
<text x="467.5" y="867" font-size="9.4" text-anchor="middle" fill="#000">voltage (mV)</text>
<text x="372" y="729" font-size="8.55" text-anchor="start" fill="#000">[Gentisic acid]</text>
<rect x="377.4" y="734.9" width="5" height="5" fill="#000"/>
<text x="390" y="740.6" font-size="8.9" text-anchor="start" fill="#000">0</text>
<circle cx="379.9" cy="747.8" r="2.8" fill="#ff1d0d" stroke="none"/>
<text x="390" y="751" font-size="8.9" text-anchor="start" fill="#000">1 nM</text>
<path d="M379.9 754.8 L376.6 761.2 L383.2 761.2Z" stroke="none" stroke-width="0" fill="#33f033" stroke-linejoin="round"/>
<text x="390" y="761.5" font-size="8.9" text-anchor="start" fill="#000">10 nM</text>
<path d="M379.9 772.2 L376.6 765.7 L383.2 765.7Z" stroke="none" stroke-width="0" fill="#0000ff" stroke-linejoin="round"/>
<text x="390" y="771.9" font-size="8.9" text-anchor="start" fill="#000">100 nM</text>
<path d="M379.9 775.3 L383.7 779.1 L379.9 782.9 L376.1 779.1Z" stroke="none" stroke-width="0" fill="#70f0ff" stroke-linejoin="round"/>
<text x="390" y="782.3" font-size="8.9" text-anchor="start" fill="#000">1 µM</text>
<path d="M376.4 789.5 L382.9 786.2 L382.9 792.8Z" stroke="none" stroke-width="0" fill="#ff30ff" stroke-linejoin="round"/>
<text x="390" y="792.8" font-size="8.9" text-anchor="start" fill="#000">10 µM</text>
<path d="M383.4 800 L376.9 796.7 L376.9 803.3Z" stroke="none" stroke-width="0" fill="#f0f020" stroke-linejoin="round"/>
<text x="390" y="803.2" font-size="8.9" text-anchor="start" fill="#000">100 µM</text>
<circle cx="379.9" cy="810.4" r="2.8" fill="#808020" stroke="none"/>
<text x="390" y="813.6" font-size="8.9" text-anchor="start" fill="#000">1 mM</text>
<text x="509" y="727" font-size="18.8" text-anchor="start" fill="#000">l</text>
<path d="M535.6 843.7L676.1 843.7M535.6 843.7L535.6 728.4M545.9 843.7L545.9 846.3" stroke="#222" stroke-width="0.9" fill="none"/>
<text x="545.9" y="856" font-size="9.4" text-anchor="middle" fill="#000">-120</text>
<path d="M565.9 843.7L565.9 846.3" stroke="#222" stroke-width="0.9" fill="none"/>
<text x="565.9" y="856" font-size="9.4" text-anchor="middle" fill="#000">-100</text>
<path d="M586 843.7L586 846.3" stroke="#222" stroke-width="0.9" fill="none"/>
<text x="586" y="856" font-size="9.4" text-anchor="middle" fill="#000">-80</text>
<path d="M606 843.7L606 846.3" stroke="#222" stroke-width="0.9" fill="none"/>
<text x="606" y="856" font-size="9.4" text-anchor="middle" fill="#000">-60</text>
<path d="M626 843.7L626 846.3" stroke="#222" stroke-width="0.9" fill="none"/>
<text x="626" y="856" font-size="9.4" text-anchor="middle" fill="#000">-40</text>
<path d="M646.1 843.7L646.1 846.3" stroke="#222" stroke-width="0.9" fill="none"/>
<text x="646.1" y="856" font-size="9.4" text-anchor="middle" fill="#000">-20</text>
<path d="M666.1 843.7L666.1 846.3" stroke="#222" stroke-width="0.9" fill="none"/>
<text x="666.1" y="856" font-size="9.4" text-anchor="middle" fill="#000">0</text>
<path d="M555.9 843.7L555.9 845.2M576 843.7L576 845.2M596 843.7L596 845.2M616 843.7L616 845.2M636 843.7L636 845.2M656.1 843.7L656.1 845.2M535.6 838.3L533 838.3" stroke="#222" stroke-width="0.9" fill="none"/>
<text x="532.3" y="841.7" font-size="9.4" text-anchor="end" fill="#000">0.0</text>
<path d="M535.6 818.4L533 818.4" stroke="#222" stroke-width="0.9" fill="none"/>
<text x="532.3" y="821.7" font-size="9.4" text-anchor="end" fill="#000">0.2</text>
<path d="M535.6 798.4L533 798.4" stroke="#222" stroke-width="0.9" fill="none"/>
<text x="532.3" y="801.8" font-size="9.4" text-anchor="end" fill="#000">0.4</text>
<path d="M535.6 778.5L533 778.5" stroke="#222" stroke-width="0.9" fill="none"/>
<text x="532.3" y="781.9" font-size="9.4" text-anchor="end" fill="#000">0.6</text>
<path d="M535.6 758.5L533 758.5" stroke="#222" stroke-width="0.9" fill="none"/>
<text x="532.3" y="761.9" font-size="9.4" text-anchor="end" fill="#000">0.8</text>
<path d="M535.6 738.6L533 738.6" stroke="#222" stroke-width="0.9" fill="none"/>
<text x="532.3" y="742" font-size="9.4" text-anchor="end" fill="#000">1.0</text>
<path d="M535.6 828.3L534.1 828.3M535.6 808.4L534.1 808.4M535.6 788.5L534.1 788.5M535.6 768.5L534.1 768.5M535.6 748.6L534.1 748.6" stroke="#222" stroke-width="0.9" fill="none"/>
<path d="M545.9 838.3 L547.9 838.3 L549.9 838.3 L551.9 838.3 L553.9 838.3 L555.9 838.3 L557.9 838.3 L559.9 838.3 L561.9 838.3 L563.9 838.3 L565.9 838.3 L567.9 838.3 L569.9 838.3 L571.9 838.3 L573.9 838.3 L576 838.3 L578 838.3 L580 838.3 L582 838.2 L584 838.2 L586 838.2 L588 838.1 L590 837.9 L592 837.6 L594 837.2 L596 836.6 L598 835.5 L600 833.7 L602 830.9 L604 826.7 L606 820.6 L608 812.2 L610 801.6 L612 789.7 L614 777.8 L616 767.2 L618 758.8 L620 752.7 L622 748.5 L624 745.7 L626 743.9 L628 742.8 L630 742.2 L632 741.7 L634 741.5 L636 741.3 L638.1 741.2 L640.1 741.2 L642.1 741.1 L644.1 741.1 L646.1 741.1 L648.1 741.1 L650.1 741.1 L652.1 741.1 L654.1 741.1 L656.1 741.1 L658.1 741.1 L660.1 741.1 L662.1 741.1 L664.1 741.1 L666.1 741.1" stroke="#000" stroke-width="0.8" fill="none" stroke-linejoin="round"/>
<path d="M545.9 838.3 L547.9 838.3 L549.9 838.3 L551.9 838.3 L553.9 838.3 L555.9 838.3 L557.9 838.3 L559.9 838.3 L561.9 838.3 L563.9 838.3 L565.9 838.3 L567.9 838.3 L569.9 838.3 L571.9 838.3 L573.9 838.3 L576 838.2 L578 838.2 L580 838.2 L582 838.1 L584 837.9 L586 837.6 L588 837.2 L590 836.5 L592 835.4 L594 833.6 L596 830.8 L598 826.5 L600 820.3 L602 811.8 L604 801 L606 788.9 L608 776.9 L610 766.1 L612 757.6 L614 751.4 L616 747.1 L618 744.3 L620 742.5 L622 741.4 L624 740.7 L626 740.3 L628 740 L630 739.8 L632 739.7 L634 739.7 L636 739.7 L638.1 739.6 L640.1 739.6 L642.1 739.6 L644.1 739.6 L646.1 739.6 L648.1 739.6 L650.1 739.6 L652.1 739.6 L654.1 739.6 L656.1 739.6 L658.1 739.6 L660.1 739.6 L662.1 739.6 L664.1 739.6 L666.1 739.6" stroke="#ff1d0d" stroke-width="0.8" fill="none" stroke-linejoin="round"/>
<path d="M586 835.3L586 837.3M584.5 835.3L587.5 835.3M584.5 837.3L587.5 837.3M596 824.3L596 828.3M594.5 824.3L597.5 824.3M594.5 828.3L597.5 828.3M606 785.5L606 795.4M604.5 785.5L607.5 785.5M604.5 795.4L607.5 795.4M616 751.6L616 757.5M614.5 751.6L617.5 751.6M614.5 757.5L617.5 757.5M626 738.6L626 740.6M624.5 738.6L627.5 738.6M624.5 740.6L627.5 740.6M656.1 743.6L656.1 745.6M654.6 743.6L657.6 743.6M654.6 745.6L657.6 745.6M666.1 747.6L666.1 749.6M664.6 747.6L667.6 747.6M664.6 749.6L667.6 749.6" stroke="#ff1d0d" stroke-width="0.7" fill="none"/>
<circle cx="545.9" cy="837.8" r="2.5" fill="#ff1d0d" stroke="none"/>
<circle cx="555.9" cy="838.3" r="2.5" fill="#ff1d0d" stroke="none"/>
<circle cx="565.9" cy="837.8" r="2.5" fill="#ff1d0d" stroke="none"/>
<circle cx="576" cy="838.3" r="2.5" fill="#ff1d0d" stroke="none"/>
<circle cx="586" cy="836.3" r="2.5" fill="#ff1d0d" stroke="none"/>
<circle cx="596" cy="826.3" r="2.5" fill="#ff1d0d" stroke="none"/>
<circle cx="606" cy="790.4" r="2.5" fill="#ff1d0d" stroke="none"/>
<circle cx="616" cy="754.6" r="2.5" fill="#ff1d0d" stroke="none"/>
<circle cx="626" cy="739.6" r="2.5" fill="#ff1d0d" stroke="none"/>
<circle cx="636" cy="738.6" r="2.5" fill="#ff1d0d" stroke="none"/>
<circle cx="646.1" cy="740.6" r="2.5" fill="#ff1d0d" stroke="none"/>
<circle cx="656.1" cy="744.6" r="2.5" fill="#ff1d0d" stroke="none"/>
<circle cx="666.1" cy="748.6" r="2.5" fill="#ff1d0d" stroke="none"/>
<path d="M596 835.3L596 837.3M594.5 835.3L597.5 835.3M594.5 837.3L597.5 837.3M606 812.4L606 818.4M604.5 812.4L607.5 812.4M604.5 818.4L607.5 818.4M616 767.5L616 775.5M614.5 767.5L617.5 767.5M614.5 775.5L617.5 775.5M626 743.6L626 747.6M624.5 743.6L627.5 743.6M624.5 747.6L627.5 747.6M636 737.6L636 739.6M634.5 737.6L637.5 737.6M634.5 739.6L637.5 739.6M646.1 737.6L646.1 739.6M644.6 737.6L647.6 737.6M644.6 739.6L647.6 739.6M656.1 741.6L656.1 743.6M654.6 741.6L657.6 741.6M654.6 743.6L657.6 743.6M666.1 743.6L666.1 745.6M664.6 743.6L667.6 743.6M664.6 745.6L667.6 745.6" stroke="#000" stroke-width="0.7" fill="none"/>
<rect x="543.8" y="836.2" width="4.2" height="4.2" fill="#000"/>
<rect x="553.8" y="836.2" width="4.2" height="4.2" fill="#000"/>
<rect x="563.8" y="836.2" width="4.2" height="4.2" fill="#000"/>
<rect x="573.9" y="836.2" width="4.2" height="4.2" fill="#000"/>
<rect x="583.9" y="836.2" width="4.2" height="4.2" fill="#000"/>
<rect x="593.9" y="834.2" width="4.2" height="4.2" fill="#000"/>
<rect x="603.9" y="813.3" width="4.2" height="4.2" fill="#000"/>
<rect x="613.9" y="769.4" width="4.2" height="4.2" fill="#000"/>
<rect x="623.9" y="743.5" width="4.2" height="4.2" fill="#000"/>
<rect x="633.9" y="736.5" width="4.2" height="4.2" fill="#000"/>
<rect x="644" y="736.5" width="4.2" height="4.2" fill="#000"/>
<rect x="654" y="740.5" width="4.2" height="4.2" fill="#000"/>
<rect x="664" y="742.5" width="4.2" height="4.2" fill="#000"/>
<text x="514.8" y="787.8" font-size="9.5" text-anchor="middle" fill="#000" transform="rotate(-90 514.8 787.8)">G/Gmax</text>
<text x="631" y="866.2" font-size="9.4" text-anchor="middle" fill="#000">voltage (mV)</text>
<path d="M546.4 737.8L570.8 737.8" stroke="#000" stroke-width="0.9" fill="none"/>
<rect x="555.8" y="735" width="5.6" height="5.6" fill="#000"/>
<text x="577.8" y="741.1" font-size="9.4" text-anchor="start" fill="#000">Control</text>
<path d="M546.4 750.5L570.8 750.5" stroke="#ff1d0d" stroke-width="0.9" fill="none"/>
<circle cx="558.6" cy="750.5" r="3.4" fill="#ff1d0d" stroke="none"/>
<text x="577.8" y="753.8" font-size="9.4" text-anchor="start" fill="#000">10 nM</text>
<text x="551.3" y="765.4" font-size="9.4" text-anchor="start" fill="#000">gentisic acid</text>
</svg></body></html>
